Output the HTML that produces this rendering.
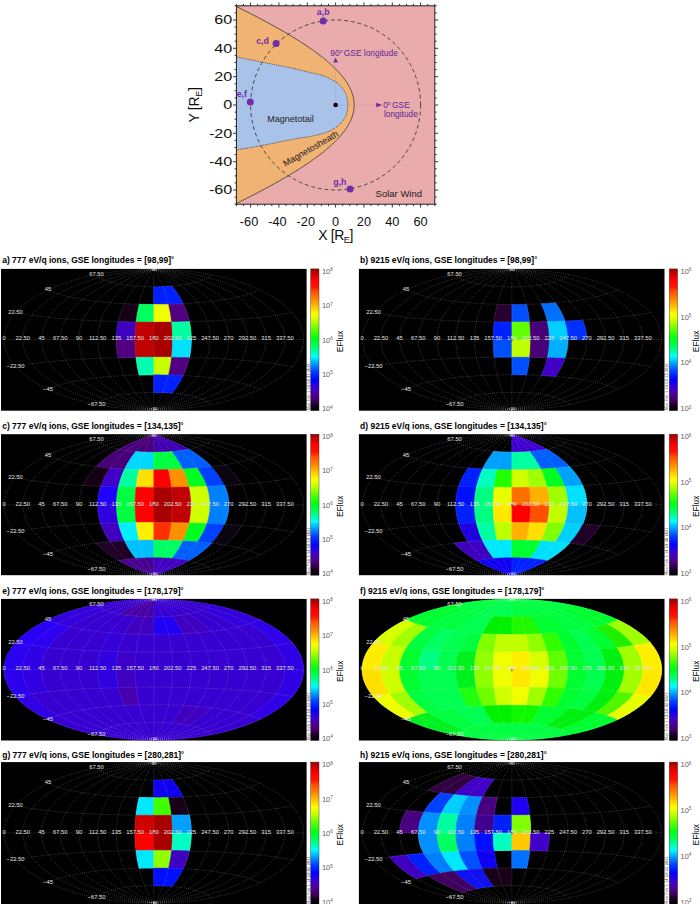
<!DOCTYPE html>
<html><head><meta charset="utf-8"><title>Figure</title>
<style>
html,body{margin:0;padding:0;background:#fff}
svg{display:block}
text{font-family:"Liberation Sans",sans-serif}
.ttl{font-size:8.5px;font-weight:bold;fill:#000}
.grid{fill:none;stroke:#fff;stroke-width:0.6;stroke-dasharray:0.6 1.5;opacity:0.52}
.lab text{font-size:5.8px;fill:#e2e2e2;text-anchor:middle}
.cbl{font-size:7.5px;fill:#606060}
.efl{font-size:8.45px;fill:#000;text-anchor:middle}
.stamp{font-size:3.3px;fill:#222}
.tk{font-size:12.8px;fill:#111}
.tky{font-size:12.4px;fill:#111}
.ax{font-size:14px;fill:#111}
.pl{font-size:8.8px;font-weight:bold;fill:#6f2da8}
.gl{font-size:8.4px;fill:#5e2a96}
.rl{font-size:8.3px;fill:#222}
</style></head><body>
<svg width="700" height="904" viewBox="0 0 700 904">
<defs><path id="grid" class="grid" d="M-0 70.3L-7.8 70.2L-15.7 69.9L-23.4 69.4L-31.1 68.8L-38.8 67.9L-46.3 66.9L-53.7 65.6L-60.9 64.2L-68 62.6L-74.9 60.9L-81.6 59L-88 56.9L-94.2 54.6L-100.2 52.2L-105.9 49.7L-111.3 47L-116.4 44.2L-121.1 41.3L-125.6 38.3L-129.7 35.1L-133.4 31.9L-136.8 28.6L-139.8 25.2L-142.4 21.7L-144.6 18.2L-146.5 14.6L-147.9 11L-148.9 7.3L-149.5 3.7L-149.7 0L-149.5 -3.7L-148.9 -7.3L-147.9 -11L-146.5 -14.6L-144.6 -18.2L-142.4 -21.7L-139.8 -25.2L-136.8 -28.6L-133.4 -31.9L-129.7 -35.1L-125.6 -38.3L-121.1 -41.3L-116.4 -44.2L-111.3 -47L-105.9 -49.7L-100.2 -52.2L-94.2 -54.6L-88 -56.9L-81.6 -59L-74.9 -60.9L-68 -62.6L-60.9 -64.2L-53.7 -65.6L-46.3 -66.9L-38.8 -67.9L-31.1 -68.8L-23.4 -69.4L-15.7 -69.9L-7.8 -70.2L-0 -70.3M-0 70.3L-7.6 69.8L-15.2 69L-22.5 68.1L-29.8 67L-36.8 65.8L-43.7 64.4L-50.4 62.9L-56.9 61.2L-63.2 59.3L-69.2 57.4L-75 55.3L-80.5 53.1L-85.8 50.7L-90.9 48.3L-95.6 45.8L-100.1 43.1L-104.3 40.4L-108.2 37.6L-111.8 34.8L-115.1 31.8L-118.1 28.8L-120.8 25.7L-123.2 22.6L-125.3 19.5L-127 16.3L-128.5 13.1L-129.6 9.8L-130.4 6.6L-130.9 3.3L-131 0L-130.9 -3.3L-130.4 -6.6L-129.6 -9.8L-128.5 -13.1L-127 -16.3L-125.3 -19.5L-123.2 -22.6L-120.8 -25.7L-118.1 -28.8L-115.1 -31.8L-111.8 -34.8L-108.2 -37.6L-104.3 -40.4L-100.1 -43.1L-95.6 -45.8L-90.9 -48.3L-85.8 -50.7L-80.5 -53.1L-75 -55.3L-69.2 -57.4L-63.2 -59.3L-56.9 -61.2L-50.4 -62.9L-43.7 -64.4L-36.8 -65.8L-29.8 -67L-22.5 -68.1L-15.2 -69L-7.6 -69.8L-0 -70.3M-0 70.3L-7.1 69.3L-14.1 68.2L-20.9 66.9L-27.4 65.5L-33.7 63.9L-39.8 62.3L-45.7 60.5L-51.3 58.5L-56.7 56.5L-61.8 54.4L-66.7 52.2L-71.4 49.9L-75.8 47.6L-80 45.1L-83.9 42.6L-87.6 40.1L-91 37.4L-94.1 34.7L-97 32L-99.7 29.2L-102.1 26.4L-104.2 23.6L-106.1 20.7L-107.8 17.8L-109.2 14.9L-110.3 11.9L-111.2 8.9L-111.8 6L-112.2 3L-112.3 0L-112.2 -3L-111.8 -6L-111.2 -8.9L-110.3 -11.9L-109.2 -14.9L-107.8 -17.8L-106.1 -20.7L-104.2 -23.6L-102.1 -26.4L-99.7 -29.2L-97 -32L-94.1 -34.7L-91 -37.4L-87.6 -40.1L-83.9 -42.6L-80 -45.1L-75.8 -47.6L-71.4 -49.9L-66.7 -52.2L-61.8 -54.4L-56.7 -56.5L-51.3 -58.5L-45.7 -60.5L-39.8 -62.3L-33.7 -63.9L-27.4 -65.5L-20.9 -66.9L-14.1 -68.2L-7.1 -69.3L-0 -70.3M-0 70.3L-6.4 68.9L-12.6 67.4L-18.5 65.8L-24.1 64.1L-29.6 62.3L-34.8 60.4L-39.7 58.4L-44.4 56.4L-48.9 54.2L-53.2 52L-57.2 49.8L-61 47.4L-64.6 45.1L-68 42.6L-71.1 40.2L-74.1 37.7L-76.8 35.1L-79.3 32.5L-81.6 29.9L-83.7 27.3L-85.6 24.6L-87.3 21.9L-88.8 19.2L-90 16.5L-91.1 13.8L-92 11L-92.7 8.3L-93.2 5.5L-93.5 2.8L-93.6 0L-93.5 -2.8L-93.2 -5.5L-92.7 -8.3L-92 -11L-91.1 -13.8L-90 -16.5L-88.8 -19.2L-87.3 -21.9L-85.6 -24.6L-83.7 -27.3L-81.6 -29.9L-79.3 -32.5L-76.8 -35.1L-74.1 -37.7L-71.1 -40.2L-68 -42.6L-64.6 -45.1L-61 -47.4L-57.2 -49.8L-53.2 -52L-48.9 -54.2L-44.4 -56.4L-39.7 -58.4L-34.8 -60.4L-29.6 -62.3L-24.1 -64.1L-18.5 -65.8L-12.6 -67.4L-6.4 -68.9L-0 -70.3M-0 70.3L-5.4 68.6L-10.6 66.8L-15.5 64.9L-20.2 63L-24.6 61L-28.8 58.9L-32.8 56.8L-36.6 54.6L-40.2 52.4L-43.6 50.1L-46.8 47.8L-49.8 45.5L-52.6 43.1L-55.2 40.7L-57.6 38.3L-59.9 35.8L-62 33.3L-63.9 30.8L-65.7 28.3L-67.3 25.8L-68.8 23.3L-70.1 20.7L-71.2 18.1L-72.2 15.6L-73 13L-73.7 10.4L-74.2 7.8L-74.6 5.2L-74.8 2.6L-74.9 0L-74.8 -2.6L-74.6 -5.2L-74.2 -7.8L-73.7 -10.4L-73 -13L-72.2 -15.6L-71.2 -18.1L-70.1 -20.7L-68.8 -23.3L-67.3 -25.8L-65.7 -28.3L-63.9 -30.8L-62 -33.3L-59.9 -35.8L-57.6 -38.3L-55.2 -40.7L-52.6 -43.1L-49.8 -45.5L-46.8 -47.8L-43.6 -50.1L-40.2 -52.4L-36.6 -54.6L-32.8 -56.8L-28.8 -58.9L-24.6 -61L-20.2 -63L-15.5 -64.9L-10.6 -66.8L-5.4 -68.6L-0 -70.3M-0 70.3L-4.2 68.3L-8.2 66.3L-12 64.2L-15.6 62.1L-19 59.9L-22.2 57.7L-25.2 55.5L-28.1 53.3L-30.7 51L-33.3 48.7L-35.6 46.3L-37.8 44L-39.9 41.6L-41.8 39.3L-43.6 36.9L-45.3 34.5L-46.8 32L-48.2 29.6L-49.5 27.2L-50.7 24.7L-51.7 22.3L-52.7 19.8L-53.5 17.4L-54.2 14.9L-54.8 12.4L-55.3 9.9L-55.7 7.5L-55.9 5L-56.1 2.5L-56.2 0L-56.1 -2.5L-55.9 -5L-55.7 -7.5L-55.3 -9.9L-54.8 -12.4L-54.2 -14.9L-53.5 -17.4L-52.7 -19.8L-51.7 -22.3L-50.7 -24.7L-49.5 -27.2L-48.2 -29.6L-46.8 -32L-45.3 -34.5L-43.6 -36.9L-41.8 -39.3L-39.9 -41.6L-37.8 -44L-35.6 -46.3L-33.3 -48.7L-30.7 -51L-28.1 -53.3L-25.2 -55.5L-22.2 -57.7L-19 -59.9L-15.6 -62.1L-12 -64.2L-8.2 -66.3L-4.2 -68.3L-0 -70.3M-0 70.3L-2.9 68.1L-5.6 65.9L-8.2 63.7L-10.6 61.4L-12.9 59.2L-15.1 56.9L-17.1 54.6L-19 52.3L-20.8 50L-22.4 47.7L-24 45.3L-25.5 43L-26.8 40.6L-28.1 38.3L-29.3 35.9L-30.4 33.5L-31.4 31.2L-32.3 28.8L-33.1 26.4L-33.9 24L-34.6 21.6L-35.2 19.2L-35.7 16.8L-36.2 14.4L-36.6 12L-36.9 9.6L-37.1 7.2L-37.3 4.8L-37.4 2.4L-37.4 0L-37.4 -2.4L-37.3 -4.8L-37.1 -7.2L-36.9 -9.6L-36.6 -12L-36.2 -14.4L-35.7 -16.8L-35.2 -19.2L-34.6 -21.6L-33.9 -24L-33.1 -26.4L-32.3 -28.8L-31.4 -31.2L-30.4 -33.5L-29.3 -35.9L-28.1 -38.3L-26.8 -40.6L-25.5 -43L-24 -45.3L-22.4 -47.7L-20.8 -50L-19 -52.3L-17.1 -54.6L-15.1 -56.9L-12.9 -59.2L-10.6 -61.4L-8.2 -63.7L-5.6 -65.9L-2.9 -68.1L-0 -70.3M-0 70.3L-1.5 68L-2.9 65.7L-4.2 63.4L-5.4 61.1L-6.5 58.7L-7.6 56.4L-8.6 54.1L-9.6 51.7L-10.5 49.4L-11.3 47.1L-12.1 44.7L-12.8 42.4L-13.5 40L-14.1 37.7L-14.7 35.3L-15.2 33L-15.7 30.6L-16.2 28.3L-16.6 25.9L-17 23.6L-17.3 21.2L-17.6 18.9L-17.9 16.5L-18.1 14.1L-18.3 11.8L-18.4 9.4L-18.6 7.1L-18.6 4.7L-18.7 2.4L-18.7 0L-18.7 -2.4L-18.6 -4.7L-18.6 -7.1L-18.4 -9.4L-18.3 -11.8L-18.1 -14.1L-17.9 -16.5L-17.6 -18.9L-17.3 -21.2L-17 -23.6L-16.6 -25.9L-16.2 -28.3L-15.7 -30.6L-15.2 -33L-14.7 -35.3L-14.1 -37.7L-13.5 -40L-12.8 -42.4L-12.1 -44.7L-11.3 -47.1L-10.5 -49.4L-9.6 -51.7L-8.6 -54.1L-7.6 -56.4L-6.5 -58.7L-5.4 -61.1L-4.2 -63.4L-2.9 -65.7L-1.5 -68L-0 -70.3M0 70.3L0 68L0 65.6L0 63.3L0 60.9L0 58.6L0 56.2L0 53.9L0 51.6L0 49.2L0 46.9L0 44.5L0 42.2L0 39.8L0 37.5L0 35.1L0 32.8L0 30.5L0 28.1L0 25.8L0 23.4L0 21.1L0 18.7L0 16.4L0 14.1L0 11.7L0 9.4L0 7L0 4.7L0 2.3L0 0L0 -2.3L0 -4.7L0 -7L0 -9.4L0 -11.7L0 -14.1L0 -16.4L0 -18.7L0 -21.1L0 -23.4L0 -25.8L0 -28.1L0 -30.5L0 -32.8L0 -35.1L0 -37.5L0 -39.8L0 -42.2L0 -44.5L0 -46.9L0 -49.2L0 -51.6L0 -53.9L0 -56.2L0 -58.6L0 -60.9L0 -63.3L0 -65.6L0 -68L0 -70.3M0 70.3L1.5 68L2.9 65.7L4.2 63.4L5.4 61.1L6.5 58.7L7.6 56.4L8.6 54.1L9.6 51.7L10.5 49.4L11.3 47.1L12.1 44.7L12.8 42.4L13.5 40L14.1 37.7L14.7 35.3L15.2 33L15.7 30.6L16.2 28.3L16.6 25.9L17 23.6L17.3 21.2L17.6 18.9L17.9 16.5L18.1 14.1L18.3 11.8L18.4 9.4L18.6 7.1L18.6 4.7L18.7 2.4L18.7 0L18.7 -2.4L18.6 -4.7L18.6 -7.1L18.4 -9.4L18.3 -11.8L18.1 -14.1L17.9 -16.5L17.6 -18.9L17.3 -21.2L17 -23.6L16.6 -25.9L16.2 -28.3L15.7 -30.6L15.2 -33L14.7 -35.3L14.1 -37.7L13.5 -40L12.8 -42.4L12.1 -44.7L11.3 -47.1L10.5 -49.4L9.6 -51.7L8.6 -54.1L7.6 -56.4L6.5 -58.7L5.4 -61.1L4.2 -63.4L2.9 -65.7L1.5 -68L0 -70.3M0 70.3L2.9 68.1L5.6 65.9L8.2 63.7L10.6 61.4L12.9 59.2L15.1 56.9L17.1 54.6L19 52.3L20.8 50L22.4 47.7L24 45.3L25.5 43L26.8 40.6L28.1 38.3L29.3 35.9L30.4 33.5L31.4 31.2L32.3 28.8L33.1 26.4L33.9 24L34.6 21.6L35.2 19.2L35.7 16.8L36.2 14.4L36.6 12L36.9 9.6L37.1 7.2L37.3 4.8L37.4 2.4L37.4 0L37.4 -2.4L37.3 -4.8L37.1 -7.2L36.9 -9.6L36.6 -12L36.2 -14.4L35.7 -16.8L35.2 -19.2L34.6 -21.6L33.9 -24L33.1 -26.4L32.3 -28.8L31.4 -31.2L30.4 -33.5L29.3 -35.9L28.1 -38.3L26.8 -40.6L25.5 -43L24 -45.3L22.4 -47.7L20.8 -50L19 -52.3L17.1 -54.6L15.1 -56.9L12.9 -59.2L10.6 -61.4L8.2 -63.7L5.6 -65.9L2.9 -68.1L0 -70.3M0 70.3L4.2 68.3L8.2 66.3L12 64.2L15.6 62.1L19 59.9L22.2 57.7L25.2 55.5L28.1 53.3L30.7 51L33.3 48.7L35.6 46.3L37.8 44L39.9 41.6L41.8 39.3L43.6 36.9L45.3 34.5L46.8 32L48.2 29.6L49.5 27.2L50.7 24.7L51.7 22.3L52.7 19.8L53.5 17.4L54.2 14.9L54.8 12.4L55.3 9.9L55.7 7.5L55.9 5L56.1 2.5L56.2 0L56.1 -2.5L55.9 -5L55.7 -7.5L55.3 -9.9L54.8 -12.4L54.2 -14.9L53.5 -17.4L52.7 -19.8L51.7 -22.3L50.7 -24.7L49.5 -27.2L48.2 -29.6L46.8 -32L45.3 -34.5L43.6 -36.9L41.8 -39.3L39.9 -41.6L37.8 -44L35.6 -46.3L33.3 -48.7L30.7 -51L28.1 -53.3L25.2 -55.5L22.2 -57.7L19 -59.9L15.6 -62.1L12 -64.2L8.2 -66.3L4.2 -68.3L0 -70.3M0 70.3L5.4 68.6L10.6 66.8L15.5 64.9L20.2 63L24.6 61L28.8 58.9L32.8 56.8L36.6 54.6L40.2 52.4L43.6 50.1L46.8 47.8L49.8 45.5L52.6 43.1L55.2 40.7L57.6 38.3L59.9 35.8L62 33.3L63.9 30.8L65.7 28.3L67.3 25.8L68.8 23.3L70.1 20.7L71.2 18.1L72.2 15.6L73 13L73.7 10.4L74.2 7.8L74.6 5.2L74.8 2.6L74.9 0L74.8 -2.6L74.6 -5.2L74.2 -7.8L73.7 -10.4L73 -13L72.2 -15.6L71.2 -18.1L70.1 -20.7L68.8 -23.3L67.3 -25.8L65.7 -28.3L63.9 -30.8L62 -33.3L59.9 -35.8L57.6 -38.3L55.2 -40.7L52.6 -43.1L49.8 -45.5L46.8 -47.8L43.6 -50.1L40.2 -52.4L36.6 -54.6L32.8 -56.8L28.8 -58.9L24.6 -61L20.2 -63L15.5 -64.9L10.6 -66.8L5.4 -68.6L0 -70.3M0 70.3L6.4 68.9L12.6 67.4L18.5 65.8L24.1 64.1L29.6 62.3L34.8 60.4L39.7 58.4L44.4 56.4L48.9 54.2L53.2 52L57.2 49.8L61 47.4L64.6 45.1L68 42.6L71.1 40.2L74.1 37.7L76.8 35.1L79.3 32.5L81.6 29.9L83.7 27.3L85.6 24.6L87.3 21.9L88.8 19.2L90 16.5L91.1 13.8L92 11L92.7 8.3L93.2 5.5L93.5 2.8L93.6 0L93.5 -2.8L93.2 -5.5L92.7 -8.3L92 -11L91.1 -13.8L90 -16.5L88.8 -19.2L87.3 -21.9L85.6 -24.6L83.7 -27.3L81.6 -29.9L79.3 -32.5L76.8 -35.1L74.1 -37.7L71.1 -40.2L68 -42.6L64.6 -45.1L61 -47.4L57.2 -49.8L53.2 -52L48.9 -54.2L44.4 -56.4L39.7 -58.4L34.8 -60.4L29.6 -62.3L24.1 -64.1L18.5 -65.8L12.6 -67.4L6.4 -68.9L0 -70.3M0 70.3L7.1 69.3L14.1 68.2L20.9 66.9L27.4 65.5L33.7 63.9L39.8 62.3L45.7 60.5L51.3 58.5L56.7 56.5L61.8 54.4L66.7 52.2L71.4 49.9L75.8 47.6L80 45.1L83.9 42.6L87.6 40.1L91 37.4L94.1 34.7L97 32L99.7 29.2L102.1 26.4L104.2 23.6L106.1 20.7L107.8 17.8L109.2 14.9L110.3 11.9L111.2 8.9L111.8 6L112.2 3L112.3 0L112.2 -3L111.8 -6L111.2 -8.9L110.3 -11.9L109.2 -14.9L107.8 -17.8L106.1 -20.7L104.2 -23.6L102.1 -26.4L99.7 -29.2L97 -32L94.1 -34.7L91 -37.4L87.6 -40.1L83.9 -42.6L80 -45.1L75.8 -47.6L71.4 -49.9L66.7 -52.2L61.8 -54.4L56.7 -56.5L51.3 -58.5L45.7 -60.5L39.8 -62.3L33.7 -63.9L27.4 -65.5L20.9 -66.9L14.1 -68.2L7.1 -69.3L0 -70.3M0 70.3L7.6 69.8L15.2 69L22.5 68.1L29.8 67L36.8 65.8L43.7 64.4L50.4 62.9L56.9 61.2L63.2 59.3L69.2 57.4L75 55.3L80.5 53.1L85.8 50.7L90.9 48.3L95.6 45.8L100.1 43.1L104.3 40.4L108.2 37.6L111.8 34.8L115.1 31.8L118.1 28.8L120.8 25.7L123.2 22.6L125.3 19.5L127 16.3L128.5 13.1L129.6 9.8L130.4 6.6L130.9 3.3L131 0L130.9 -3.3L130.4 -6.6L129.6 -9.8L128.5 -13.1L127 -16.3L125.3 -19.5L123.2 -22.6L120.8 -25.7L118.1 -28.8L115.1 -31.8L111.8 -34.8L108.2 -37.6L104.3 -40.4L100.1 -43.1L95.6 -45.8L90.9 -48.3L85.8 -50.7L80.5 -53.1L75 -55.3L69.2 -57.4L63.2 -59.3L56.9 -61.2L50.4 -62.9L43.7 -64.4L36.8 -65.8L29.8 -67L22.5 -68.1L15.2 -69L7.6 -69.8L0 -70.3M0 70.3L7.8 70.2L15.7 69.9L23.4 69.4L31.1 68.8L38.8 67.9L46.3 66.9L53.7 65.6L60.9 64.2L68 62.6L74.9 60.9L81.6 59L88 56.9L94.2 54.6L100.2 52.2L105.9 49.7L111.3 47L116.4 44.2L121.1 41.3L125.6 38.3L129.7 35.1L133.4 31.9L136.8 28.6L139.8 25.2L142.4 21.7L144.6 18.2L146.5 14.6L147.9 11L148.9 7.3L149.5 3.7L149.7 0L149.5 -3.7L148.9 -7.3L147.9 -11L146.5 -14.6L144.6 -18.2L142.4 -21.7L139.8 -25.2L136.8 -28.6L133.4 -31.9L129.7 -35.1L125.6 -38.3L121.1 -41.3L116.4 -44.2L111.3 -47L105.9 -49.7L100.2 -52.2L94.2 -54.6L88 -56.9L81.6 -59L74.9 -60.9L68 -62.6L60.9 -64.2L53.7 -65.6L46.3 -66.9L38.8 -67.9L31.1 -68.8L23.4 -69.4L15.7 -69.9L7.8 -70.2L0 -70.3M-57.3 64.9L-56.8 64.4L-56.2 63.9L-55.6 63.3L-54.9 62.8L-54.2 62.3L-53.4 61.9L-52.5 61.4L-51.7 60.9L-50.7 60.5L-49.8 60L-48.8 59.6L-47.7 59.2L-46.6 58.8L-45.5 58.4L-44.4 58.1L-43.2 57.7L-42 57.4L-40.7 57L-39.4 56.7L-38.1 56.4L-36.8 56.1L-35.4 55.8L-34.1 55.6L-32.7 55.3L-31.2 55.1L-29.8 54.8L-28.3 54.6L-26.8 54.4L-25.4 54.2L-23.8 54L-22.3 53.9L-20.8 53.7L-19.2 53.6L-17.7 53.4L-16.1 53.3L-14.5 53.2L-12.9 53.1L-11.3 53L-9.7 52.9L-8.1 52.9L-6.5 52.8L-4.9 52.8L-3.2 52.7L-1.6 52.7L0 52.7L1.6 52.7L3.2 52.7L4.9 52.8L6.5 52.8L8.1 52.9L9.7 52.9L11.3 53L12.9 53.1L14.5 53.2L16.1 53.3L17.7 53.4L19.2 53.6L20.8 53.7L22.3 53.9L23.8 54L25.4 54.2L26.8 54.4L28.3 54.6L29.8 54.8L31.2 55.1L32.7 55.3L34.1 55.6L35.4 55.8L36.8 56.1L38.1 56.4L39.4 56.7L40.7 57L42 57.4L43.2 57.7L44.4 58.1L45.5 58.4L46.6 58.8L47.7 59.2L48.8 59.6L49.8 60L50.7 60.5L51.7 60.9L52.5 61.4L53.4 61.9L54.2 62.3L54.9 62.8L55.6 63.3L56.2 63.9L56.8 64.4L57.3 64.9M-105.9 49.7L-104.2 48.9L-102.4 48.2L-100.6 47.5L-98.8 46.8L-96.8 46.2L-94.9 45.5L-92.9 44.9L-90.8 44.4L-88.7 43.8L-86.6 43.3L-84.4 42.8L-82.2 42.3L-80 41.8L-77.8 41.3L-75.5 40.9L-73.2 40.5L-70.8 40.1L-68.5 39.7L-66.1 39.4L-63.7 39L-61.3 38.7L-58.9 38.4L-56.4 38.1L-53.9 37.8L-51.5 37.6L-49 37.3L-46.5 37.1L-43.9 36.9L-41.4 36.7L-38.9 36.5L-36.3 36.3L-33.8 36.2L-31.2 36L-28.6 35.9L-26 35.7L-23.5 35.6L-20.9 35.5L-18.3 35.4L-15.7 35.4L-13.1 35.3L-10.4 35.2L-7.8 35.2L-5.2 35.2L-2.6 35.2L0 35.1L2.6 35.2L5.2 35.2L7.8 35.2L10.4 35.2L13.1 35.3L15.7 35.4L18.3 35.4L20.9 35.5L23.5 35.6L26 35.7L28.6 35.9L31.2 36L33.8 36.2L36.3 36.3L38.9 36.5L41.4 36.7L43.9 36.9L46.5 37.1L49 37.3L51.5 37.6L53.9 37.8L56.4 38.1L58.9 38.4L61.3 38.7L63.7 39L66.1 39.4L68.5 39.7L70.8 40.1L73.2 40.5L75.5 40.9L77.8 41.3L80 41.8L82.2 42.3L84.4 42.8L86.6 43.3L88.7 43.8L90.8 44.4L92.9 44.9L94.9 45.5L96.8 46.2L98.8 46.8L100.6 47.5L102.4 48.2L104.2 48.9L105.9 49.7M-138.4 26.9L-135.5 26.4L-132.6 25.9L-129.7 25.4L-126.8 24.9L-123.9 24.5L-120.9 24L-118 23.6L-115 23.3L-112 22.9L-109 22.6L-106 22.2L-102.9 21.9L-99.9 21.6L-96.9 21.3L-93.8 21.1L-90.7 20.8L-87.7 20.6L-84.6 20.3L-81.5 20.1L-78.4 19.9L-75.3 19.7L-72.2 19.5L-69.1 19.3L-66 19.2L-62.9 19L-59.7 18.9L-56.6 18.7L-53.5 18.6L-50.4 18.5L-47.2 18.4L-44.1 18.3L-41 18.2L-37.8 18.1L-34.7 18L-31.5 17.9L-28.4 17.9L-25.2 17.8L-22.1 17.7L-18.9 17.7L-15.8 17.7L-12.6 17.6L-9.5 17.6L-6.3 17.6L-3.2 17.6L0 17.6L3.2 17.6L6.3 17.6L9.5 17.6L12.6 17.6L15.8 17.7L18.9 17.7L22.1 17.7L25.2 17.8L28.4 17.9L31.5 17.9L34.7 18L37.8 18.1L41 18.2L44.1 18.3L47.2 18.4L50.4 18.5L53.5 18.6L56.6 18.7L59.7 18.9L62.9 19L66 19.2L69.1 19.3L72.2 19.5L75.3 19.7L78.4 19.9L81.5 20.1L84.6 20.3L87.7 20.6L90.7 20.8L93.8 21.1L96.9 21.3L99.9 21.6L102.9 21.9L106 22.2L109 22.6L112 22.9L115 23.3L118 23.6L120.9 24L123.9 24.5L126.8 24.9L129.7 25.4L132.6 25.9L135.5 26.4L138.4 26.9M-149.7 0L-146.4 0L-143.1 0L-139.8 0L-136.4 0L-133.1 0L-129.8 0L-126.5 0L-123.1 0L-119.8 0L-116.5 0L-113.1 0L-109.8 0L-106.5 0L-103.2 0L-99.8 0L-96.5 0L-93.2 0L-89.8 0L-86.5 0L-83.2 0L-79.9 0L-76.5 0L-73.2 0L-69.9 0L-66.6 0L-63.2 0L-59.9 0L-56.6 0L-53.2 0L-49.9 0L-46.6 0L-43.3 0L-39.9 0L-36.6 0L-33.3 0L-29.9 0L-26.6 0L-23.3 0L-20 0L-16.6 0L-13.3 0L-10 0L-6.7 0L-3.3 0L0 0L3.3 0L6.7 0L10 0L13.3 0L16.6 0L20 0L23.3 0L26.6 0L29.9 0L33.3 0L36.6 0L39.9 0L43.3 0L46.6 0L49.9 0L53.2 0L56.6 0L59.9 0L63.2 0L66.6 0L69.9 0L73.2 0L76.5 0L79.9 0L83.2 0L86.5 0L89.8 0L93.2 0L96.5 0L99.8 0L103.2 0L106.5 0L109.8 0L113.1 0L116.5 0L119.8 0L123.1 0L126.5 0L129.8 0L133.1 0L136.4 0L139.8 0L143.1 0L146.4 0L149.7 0M-138.4 -26.9L-135.5 -26.4L-132.6 -25.9L-129.7 -25.4L-126.8 -24.9L-123.9 -24.5L-120.9 -24L-118 -23.6L-115 -23.3L-112 -22.9L-109 -22.6L-106 -22.2L-102.9 -21.9L-99.9 -21.6L-96.9 -21.3L-93.8 -21.1L-90.7 -20.8L-87.7 -20.6L-84.6 -20.3L-81.5 -20.1L-78.4 -19.9L-75.3 -19.7L-72.2 -19.5L-69.1 -19.3L-66 -19.2L-62.9 -19L-59.7 -18.9L-56.6 -18.7L-53.5 -18.6L-50.4 -18.5L-47.2 -18.4L-44.1 -18.3L-41 -18.2L-37.8 -18.1L-34.7 -18L-31.5 -17.9L-28.4 -17.9L-25.2 -17.8L-22.1 -17.7L-18.9 -17.7L-15.8 -17.7L-12.6 -17.6L-9.5 -17.6L-6.3 -17.6L-3.2 -17.6L0 -17.6L3.2 -17.6L6.3 -17.6L9.5 -17.6L12.6 -17.6L15.8 -17.7L18.9 -17.7L22.1 -17.7L25.2 -17.8L28.4 -17.9L31.5 -17.9L34.7 -18L37.8 -18.1L41 -18.2L44.1 -18.3L47.2 -18.4L50.4 -18.5L53.5 -18.6L56.6 -18.7L59.7 -18.9L62.9 -19L66 -19.2L69.1 -19.3L72.2 -19.5L75.3 -19.7L78.4 -19.9L81.5 -20.1L84.6 -20.3L87.7 -20.6L90.7 -20.8L93.8 -21.1L96.9 -21.3L99.9 -21.6L102.9 -21.9L106 -22.2L109 -22.6L112 -22.9L115 -23.3L118 -23.6L120.9 -24L123.9 -24.5L126.8 -24.9L129.7 -25.4L132.6 -25.9L135.5 -26.4L138.4 -26.9M-105.9 -49.7L-104.2 -48.9L-102.4 -48.2L-100.6 -47.5L-98.8 -46.8L-96.8 -46.2L-94.9 -45.5L-92.9 -44.9L-90.8 -44.4L-88.7 -43.8L-86.6 -43.3L-84.4 -42.8L-82.2 -42.3L-80 -41.8L-77.8 -41.3L-75.5 -40.9L-73.2 -40.5L-70.8 -40.1L-68.5 -39.7L-66.1 -39.4L-63.7 -39L-61.3 -38.7L-58.9 -38.4L-56.4 -38.1L-53.9 -37.8L-51.5 -37.6L-49 -37.3L-46.5 -37.1L-43.9 -36.9L-41.4 -36.7L-38.9 -36.5L-36.3 -36.3L-33.8 -36.2L-31.2 -36L-28.6 -35.9L-26 -35.7L-23.5 -35.6L-20.9 -35.5L-18.3 -35.4L-15.7 -35.4L-13.1 -35.3L-10.4 -35.2L-7.8 -35.2L-5.2 -35.2L-2.6 -35.2L0 -35.1L2.6 -35.2L5.2 -35.2L7.8 -35.2L10.4 -35.2L13.1 -35.3L15.7 -35.4L18.3 -35.4L20.9 -35.5L23.5 -35.6L26 -35.7L28.6 -35.9L31.2 -36L33.8 -36.2L36.3 -36.3L38.9 -36.5L41.4 -36.7L43.9 -36.9L46.5 -37.1L49 -37.3L51.5 -37.6L53.9 -37.8L56.4 -38.1L58.9 -38.4L61.3 -38.7L63.7 -39L66.1 -39.4L68.5 -39.7L70.8 -40.1L73.2 -40.5L75.5 -40.9L77.8 -41.3L80 -41.8L82.2 -42.3L84.4 -42.8L86.6 -43.3L88.7 -43.8L90.8 -44.4L92.9 -44.9L94.9 -45.5L96.8 -46.2L98.8 -46.8L100.6 -47.5L102.4 -48.2L104.2 -48.9L105.9 -49.7M-57.3 -64.9L-56.8 -64.4L-56.2 -63.9L-55.6 -63.3L-54.9 -62.8L-54.2 -62.3L-53.4 -61.9L-52.5 -61.4L-51.7 -60.9L-50.7 -60.5L-49.8 -60L-48.8 -59.6L-47.7 -59.2L-46.6 -58.8L-45.5 -58.4L-44.4 -58.1L-43.2 -57.7L-42 -57.4L-40.7 -57L-39.4 -56.7L-38.1 -56.4L-36.8 -56.1L-35.4 -55.8L-34.1 -55.6L-32.7 -55.3L-31.2 -55.1L-29.8 -54.8L-28.3 -54.6L-26.8 -54.4L-25.4 -54.2L-23.8 -54L-22.3 -53.9L-20.8 -53.7L-19.2 -53.6L-17.7 -53.4L-16.1 -53.3L-14.5 -53.2L-12.9 -53.1L-11.3 -53L-9.7 -52.9L-8.1 -52.9L-6.5 -52.8L-4.9 -52.8L-3.2 -52.7L-1.6 -52.7L0 -52.7L1.6 -52.7L3.2 -52.7L4.9 -52.8L6.5 -52.8L8.1 -52.9L9.7 -52.9L11.3 -53L12.9 -53.1L14.5 -53.2L16.1 -53.3L17.7 -53.4L19.2 -53.6L20.8 -53.7L22.3 -53.9L23.8 -54L25.4 -54.2L26.8 -54.4L28.3 -54.6L29.8 -54.8L31.2 -55.1L32.7 -55.3L34.1 -55.6L35.4 -55.8L36.8 -56.1L38.1 -56.4L39.4 -56.7L40.7 -57L42 -57.4L43.2 -57.7L44.4 -58.1L45.5 -58.4L46.6 -58.8L47.7 -59.2L48.8 -59.6L49.8 -60L50.7 -60.5L51.7 -60.9L52.5 -61.4L53.4 -61.9L54.2 -62.3L54.9 -62.8L55.6 -63.3L56.2 -63.9L56.8 -64.4L57.3 -64.9"/><linearGradient id="cb" x1="0" y1="0" x2="0" y2="1"><stop offset="0" stop-color="#a00000"/><stop offset="0.035" stop-color="#c80000"/><stop offset="0.075" stop-color="#ff0000"/><stop offset="0.125" stop-color="#ff1000"/><stop offset="0.16" stop-color="#ff5000"/><stop offset="0.21" stop-color="#ff8000"/><stop offset="0.265" stop-color="#ffc000"/><stop offset="0.32" stop-color="#ffff00"/><stop offset="0.37" stop-color="#c0ff00"/><stop offset="0.425" stop-color="#60ff00"/><stop offset="0.49" stop-color="#00ff10"/><stop offset="0.545" stop-color="#00ff60"/><stop offset="0.58" stop-color="#00ffa0"/><stop offset="0.617" stop-color="#00ffff"/><stop offset="0.667" stop-color="#00a0ff"/><stop offset="0.723" stop-color="#0040ff"/><stop offset="0.783" stop-color="#0000ff"/><stop offset="0.843" stop-color="#4000d0"/><stop offset="0.89" stop-color="#500090"/><stop offset="0.93" stop-color="#400060"/><stop offset="0.96" stop-color="#1a0020"/><stop offset="1" stop-color="#000000"/></linearGradient></defs>
<rect width="700" height="904" fill="#fff"/>
<clipPath id="pc"><rect x="236.4" y="5.8" width="198.4" height="198.4"/></clipPath>
<rect x="236.4" y="5.8" width="198.4" height="198.4" fill="#e9abab"/>
<g clip-path="url(#pc)">
<path d="M220.3 211.3L221.8 210.6L223.3 209.9L224.7 209.1L226.2 208.4L227.7 207.7L229.2 207L230.6 206.3L232.1 205.6L233.5 204.9L235 204.2L236.4 203.5L237.8 202.8L239.3 202.1L240.7 201.4L242.1 200.6L243.5 199.9L244.9 199.2L246.3 198.5L247.7 197.8L249.1 197.1L250.5 196.4L251.9 195.7L253.3 195L254.7 194.3L256 193.6L257.4 192.9L258.7 192.1L260.1 191.4L261.4 190.7L262.8 190L264.1 189.3L265.4 188.6L266.7 187.9L268 187.2L269.3 186.5L270.6 185.8L271.9 185.1L273.2 184.4L274.5 183.6L275.8 182.9L277 182.2L278.3 181.5L279.5 180.8L280.8 180.1L282 179.4L283.2 178.7L284.4 178L285.6 177.3L286.9 176.6L288.1 175.9L289.2 175.1L290.4 174.4L291.6 173.7L292.8 173L293.9 172.3L295.1 171.6L296.2 170.9L297.3 170.2L298.5 169.5L299.6 168.8L300.7 168.1L301.8 167.3L302.9 166.6L304 165.9L305 165.2L306.1 164.5L307.1 163.8L308.2 163.1L309.2 162.4L310.3 161.7L311.3 161L312.3 160.3L313.3 159.6L314.3 158.8L315.2 158.1L316.2 157.4L317.2 156.7L318.1 156L319 155.3L320 154.6L320.9 153.9L321.8 153.2L322.7 152.5L323.6 151.8L324.5 151.1L325.3 150.3L326.2 149.6L327 148.9L327.8 148.2L328.7 147.5L329.5 146.8L330.3 146.1L331.1 145.4L331.8 144.7L332.6 144L333.3 143.3L334.1 142.6L334.8 141.8L335.5 141.1L336.2 140.4L336.9 139.7L337.6 139L338.2 138.3L338.9 137.6L339.5 136.9L340.2 136.2L340.8 135.5L341.4 134.8L342 134L342.5 133.3L343.1 132.6L343.7 131.9L344.2 131.2L344.7 130.5L345.2 129.8L345.7 129.1L346.2 128.4L346.7 127.7L347.1 127L347.6 126.3L348 125.5L348.4 124.8L348.8 124.1L349.2 123.4L349.6 122.7L349.9 122L350.3 121.3L350.6 120.6L350.9 119.9L351.2 119.2L351.5 118.5L351.8 117.8L352 117L352.3 116.3L352.5 115.6L352.7 114.9L352.9 114.2L353.1 113.5L353.3 112.8L353.4 112.1L353.6 111.4L353.7 110.7L353.8 110L353.9 109.3L354 108.5L354 107.8L354.1 107.1L354.1 106.4L354.2 105.7L354.2 105L354.2 104.3L354.1 103.6L354.1 102.9L354 102.2L354 101.5L353.9 100.7L353.8 100L353.7 99.3L353.6 98.6L353.4 97.9L353.3 97.2L353.1 96.5L352.9 95.8L352.7 95.1L352.5 94.4L352.3 93.7L352 93L351.8 92.2L351.5 91.5L351.2 90.8L350.9 90.1L350.6 89.4L350.3 88.7L349.9 88L349.6 87.3L349.2 86.6L348.8 85.9L348.4 85.2L348 84.5L347.6 83.7L347.1 83L346.7 82.3L346.2 81.6L345.7 80.9L345.2 80.2L344.7 79.5L344.2 78.8L343.7 78.1L343.1 77.4L342.5 76.7L342 76L341.4 75.2L340.8 74.5L340.2 73.8L339.5 73.1L338.9 72.4L338.2 71.7L337.6 71L336.9 70.3L336.2 69.6L335.5 68.9L334.8 68.2L334.1 67.4L333.3 66.7L332.6 66L331.8 65.3L331.1 64.6L330.3 63.9L329.5 63.2L328.7 62.5L327.8 61.8L327 61.1L326.2 60.4L325.3 59.7L324.5 58.9L323.6 58.2L322.7 57.5L321.8 56.8L320.9 56.1L320 55.4L319 54.7L318.1 54L317.2 53.3L316.2 52.6L315.2 51.9L314.3 51.2L313.3 50.4L312.3 49.7L311.3 49L310.3 48.3L309.2 47.6L308.2 46.9L307.1 46.2L306.1 45.5L305 44.8L304 44.1L302.9 43.4L301.8 42.7L300.7 41.9L299.6 41.2L298.5 40.5L297.3 39.8L296.2 39.1L295.1 38.4L293.9 37.7L292.8 37L291.6 36.3L290.4 35.6L289.2 34.9L288.1 34.1L286.9 33.4L285.6 32.7L284.4 32L283.2 31.3L282 30.6L280.8 29.9L279.5 29.2L278.3 28.5L277 27.8L275.8 27.1L274.5 26.4L273.2 25.6L271.9 24.9L270.6 24.2L269.3 23.5L268 22.8L266.7 22.1L265.4 21.4L264.1 20.7L262.8 20L261.4 19.3L260.1 18.6L258.7 17.9L257.4 17.1L256 16.4L254.7 15.7L253.3 15L251.9 14.3L250.5 13.6L249.1 12.9L247.7 12.2L246.3 11.5L244.9 10.8L243.5 10.1L242.1 9.4L240.7 8.6L239.3 7.9L237.8 7.2L236.4 6.5L235 5.8L233.5 5.1L232.1 4.4L230.6 3.7L229.2 3L227.7 2.3L226.2 1.6L224.7 0.9L223.3 0.1L221.8 -0.6L220.3 -1.3Z" fill="#f0b374"/>
<path d="M233.6 56.3C234.1 56.4 233.4 56.2 236.8 57C240.3 57.7 248.4 59.4 254.4 60.6C260.4 61.9 266.8 63.1 273 64.3C279.2 65.6 285.3 66.6 291.5 68C297.7 69.4 306.3 71.7 310.1 72.6C313.9 73.4 312.2 72.9 314.3 73.4C316.5 73.9 320.3 74.8 322.9 75.7C325.5 76.5 327.6 77.6 329.8 78.6C331.9 79.7 334.1 80.9 335.8 82C337.5 83.2 338.8 84.2 340 85.4C341.3 86.7 342.5 88.2 343.5 89.7C344.5 91.2 345.4 92.9 346.1 94.5C346.7 96 347 97.4 347.3 99.2C347.6 100.9 347.8 103.1 347.8 105C347.8 106.9 347.6 108.6 347.3 110.3C347 112 346.6 113.6 346.1 115.1C345.5 116.6 344.9 117.8 343.9 119.3C342.9 120.8 341.4 122.6 340 124C338.7 125.3 337.5 126.2 335.8 127.4C334.1 128.5 331.9 129.9 329.8 130.9C327.6 131.9 325.5 132.7 322.9 133.5C320.3 134.3 316.5 135.1 314.3 135.6C312.2 136.1 313.9 135.8 310.1 136.5C306.3 137.1 297.7 138.4 291.5 139.6C285.3 140.7 279.2 142 273 143.3C266.8 144.5 260.4 145.9 254.4 146.9C248.4 148 240.3 149.2 236.8 149.8C233.4 150.3 234.1 150.2 233.6 150.3Z" fill="#a9c2ea"/>
<path d="M233.6 56.3C234.1 56.4 233.4 56.2 236.8 57C240.3 57.7 248.4 59.4 254.4 60.6C260.4 61.9 266.8 63.1 273 64.3C279.2 65.6 285.3 66.6 291.5 68C297.7 69.4 306.3 71.7 310.1 72.6C313.9 73.4 312.2 72.9 314.3 73.4C316.5 73.9 320.3 74.8 322.9 75.7C325.5 76.5 327.6 77.6 329.8 78.6C331.9 79.7 334.1 80.9 335.8 82C337.5 83.2 338.8 84.2 340 85.4C341.3 86.7 342.5 88.2 343.5 89.7C344.5 91.2 345.4 92.9 346.1 94.5C346.7 96 347 97.4 347.3 99.2C347.6 100.9 347.8 103.1 347.8 105C347.8 106.9 347.6 108.6 347.3 110.3C347 112 346.6 113.6 346.1 115.1C345.5 116.6 344.9 117.8 343.9 119.3C342.9 120.8 341.4 122.6 340 124C338.7 125.3 337.5 126.2 335.8 127.4C334.1 128.5 331.9 129.9 329.8 130.9C327.6 131.9 325.5 132.7 322.9 133.5C320.3 134.3 316.5 135.1 314.3 135.6C312.2 136.1 313.9 135.8 310.1 136.5C306.3 137.1 297.7 138.4 291.5 139.6C285.3 140.7 279.2 142 273 143.3C266.8 144.5 260.4 145.9 254.4 146.9C248.4 148 240.3 149.2 236.8 149.8C233.4 150.3 234.1 150.2 233.6 150.3" fill="none" stroke="#222" stroke-width="0.8" stroke-dasharray="0.8 1"/>
<path d="M220.3 211.3L221.8 210.6L223.3 209.9L224.7 209.1L226.2 208.4L227.7 207.7L229.2 207L230.6 206.3L232.1 205.6L233.5 204.9L235 204.2L236.4 203.5L237.8 202.8L239.3 202.1L240.7 201.4L242.1 200.6L243.5 199.9L244.9 199.2L246.3 198.5L247.7 197.8L249.1 197.1L250.5 196.4L251.9 195.7L253.3 195L254.7 194.3L256 193.6L257.4 192.9L258.7 192.1L260.1 191.4L261.4 190.7L262.8 190L264.1 189.3L265.4 188.6L266.7 187.9L268 187.2L269.3 186.5L270.6 185.8L271.9 185.1L273.2 184.4L274.5 183.6L275.8 182.9L277 182.2L278.3 181.5L279.5 180.8L280.8 180.1L282 179.4L283.2 178.7L284.4 178L285.6 177.3L286.9 176.6L288.1 175.9L289.2 175.1L290.4 174.4L291.6 173.7L292.8 173L293.9 172.3L295.1 171.6L296.2 170.9L297.3 170.2L298.5 169.5L299.6 168.8L300.7 168.1L301.8 167.3L302.9 166.6L304 165.9L305 165.2L306.1 164.5L307.1 163.8L308.2 163.1L309.2 162.4L310.3 161.7L311.3 161L312.3 160.3L313.3 159.6L314.3 158.8L315.2 158.1L316.2 157.4L317.2 156.7L318.1 156L319 155.3L320 154.6L320.9 153.9L321.8 153.2L322.7 152.5L323.6 151.8L324.5 151.1L325.3 150.3L326.2 149.6L327 148.9L327.8 148.2L328.7 147.5L329.5 146.8L330.3 146.1L331.1 145.4L331.8 144.7L332.6 144L333.3 143.3L334.1 142.6L334.8 141.8L335.5 141.1L336.2 140.4L336.9 139.7L337.6 139L338.2 138.3L338.9 137.6L339.5 136.9L340.2 136.2L340.8 135.5L341.4 134.8L342 134L342.5 133.3L343.1 132.6L343.7 131.9L344.2 131.2L344.7 130.5L345.2 129.8L345.7 129.1L346.2 128.4L346.7 127.7L347.1 127L347.6 126.3L348 125.5L348.4 124.8L348.8 124.1L349.2 123.4L349.6 122.7L349.9 122L350.3 121.3L350.6 120.6L350.9 119.9L351.2 119.2L351.5 118.5L351.8 117.8L352 117L352.3 116.3L352.5 115.6L352.7 114.9L352.9 114.2L353.1 113.5L353.3 112.8L353.4 112.1L353.6 111.4L353.7 110.7L353.8 110L353.9 109.3L354 108.5L354 107.8L354.1 107.1L354.1 106.4L354.2 105.7L354.2 105L354.2 104.3L354.1 103.6L354.1 102.9L354 102.2L354 101.5L353.9 100.7L353.8 100L353.7 99.3L353.6 98.6L353.4 97.9L353.3 97.2L353.1 96.5L352.9 95.8L352.7 95.1L352.5 94.4L352.3 93.7L352 93L351.8 92.2L351.5 91.5L351.2 90.8L350.9 90.1L350.6 89.4L350.3 88.7L349.9 88L349.6 87.3L349.2 86.6L348.8 85.9L348.4 85.2L348 84.5L347.6 83.7L347.1 83L346.7 82.3L346.2 81.6L345.7 80.9L345.2 80.2L344.7 79.5L344.2 78.8L343.7 78.1L343.1 77.4L342.5 76.7L342 76L341.4 75.2L340.8 74.5L340.2 73.8L339.5 73.1L338.9 72.4L338.2 71.7L337.6 71L336.9 70.3L336.2 69.6L335.5 68.9L334.8 68.2L334.1 67.4L333.3 66.7L332.6 66L331.8 65.3L331.1 64.6L330.3 63.9L329.5 63.2L328.7 62.5L327.8 61.8L327 61.1L326.2 60.4L325.3 59.7L324.5 58.9L323.6 58.2L322.7 57.5L321.8 56.8L320.9 56.1L320 55.4L319 54.7L318.1 54L317.2 53.3L316.2 52.6L315.2 51.9L314.3 51.2L313.3 50.4L312.3 49.7L311.3 49L310.3 48.3L309.2 47.6L308.2 46.9L307.1 46.2L306.1 45.5L305 44.8L304 44.1L302.9 43.4L301.8 42.7L300.7 41.9L299.6 41.2L298.5 40.5L297.3 39.8L296.2 39.1L295.1 38.4L293.9 37.7L292.8 37L291.6 36.3L290.4 35.6L289.2 34.9L288.1 34.1L286.9 33.4L285.6 32.7L284.4 32L283.2 31.3L282 30.6L280.8 29.9L279.5 29.2L278.3 28.5L277 27.8L275.8 27.1L274.5 26.4L273.2 25.6L271.9 24.9L270.6 24.2L269.3 23.5L268 22.8L266.7 22.1L265.4 21.4L264.1 20.7L262.8 20L261.4 19.3L260.1 18.6L258.7 17.9L257.4 17.1L256 16.4L254.7 15.7L253.3 15L251.9 14.3L250.5 13.6L249.1 12.9L247.7 12.2L246.3 11.5L244.9 10.8L243.5 10.1L242.1 9.4L240.7 8.6L239.3 7.9L237.8 7.2L236.4 6.5L235 5.8L233.5 5.1L232.1 4.4L230.6 3.7L229.2 3L227.7 2.3L226.2 1.6L224.7 0.9L223.3 0.1L221.8 -0.6L220.3 -1.3" fill="none" stroke="#222" stroke-width="0.7"/>
<circle cx="335.6" cy="105" r="85" fill="none" stroke="#3a3a3a" stroke-width="0.9" stroke-dasharray="3.8 2.9"/>
</g>
<path d="M335.6 105V63.9 M335.6 105H375.3" stroke="#8a6aa8" stroke-width="0.5" opacity="0.3" fill="none"/>
<path d="M335.6 57.4l-2.3 5h4.6z" fill="#6a2c9c"/>
<path d="M382.2 105l-6 -2.2v4.4z" fill="#6a2c9c"/>
<circle cx="335.6" cy="105" r="2.3" fill="#000"/>
<rect x="236.4" y="5.8" width="198.4" height="198.4" fill="none" stroke="#222" stroke-width="1"/>
<path d="M236.4 204.2v1.9M236.4 5.8v-1.9M236.4 204.2h-1.9M434.8 204.2h1.9M243.5 204.2v1.9M243.5 5.8v-1.9M236.4 197.1h-1.9M434.8 197.1h1.9M250.6 204.2v3.4M250.6 5.8v-3.4M236.4 190h-3.4M434.8 190h3.4M257.7 204.2v1.9M257.7 5.8v-1.9M236.4 182.9h-1.9M434.8 182.9h1.9M264.8 204.2v1.9M264.8 5.8v-1.9M236.4 175.9h-1.9M434.8 175.9h1.9M271.8 204.2v1.9M271.8 5.8v-1.9M236.4 168.8h-1.9M434.8 168.8h1.9M278.9 204.2v3.4M278.9 5.8v-3.4M236.4 161.7h-3.4M434.8 161.7h3.4M286 204.2v1.9M286 5.8v-1.9M236.4 154.6h-1.9M434.8 154.6h1.9M293.1 204.2v1.9M293.1 5.8v-1.9M236.4 147.5h-1.9M434.8 147.5h1.9M300.2 204.2v1.9M300.2 5.8v-1.9M236.4 140.4h-1.9M434.8 140.4h1.9M307.3 204.2v3.4M307.3 5.8v-3.4M236.4 133.3h-3.4M434.8 133.3h3.4M314.3 204.2v1.9M314.3 5.8v-1.9M236.4 126.3h-1.9M434.8 126.3h1.9M321.4 204.2v1.9M321.4 5.8v-1.9M236.4 119.2h-1.9M434.8 119.2h1.9M328.5 204.2v1.9M328.5 5.8v-1.9M236.4 112.1h-1.9M434.8 112.1h1.9M335.6 204.2v3.4M335.6 5.8v-3.4M236.4 105h-3.4M434.8 105h3.4M342.7 204.2v1.9M342.7 5.8v-1.9M236.4 97.9h-1.9M434.8 97.9h1.9M349.8 204.2v1.9M349.8 5.8v-1.9M236.4 90.8h-1.9M434.8 90.8h1.9M356.9 204.2v1.9M356.9 5.8v-1.9M236.4 83.7h-1.9M434.8 83.7h1.9M363.9 204.2v3.4M363.9 5.8v-3.4M236.4 76.7h-3.4M434.8 76.7h3.4M371 204.2v1.9M371 5.8v-1.9M236.4 69.6h-1.9M434.8 69.6h1.9M378.1 204.2v1.9M378.1 5.8v-1.9M236.4 62.5h-1.9M434.8 62.5h1.9M385.2 204.2v1.9M385.2 5.8v-1.9M236.4 55.4h-1.9M434.8 55.4h1.9M392.3 204.2v3.4M392.3 5.8v-3.4M236.4 48.3h-3.4M434.8 48.3h3.4M399.4 204.2v1.9M399.4 5.8v-1.9M236.4 41.2h-1.9M434.8 41.2h1.9M406.5 204.2v1.9M406.5 5.8v-1.9M236.4 34.1h-1.9M434.8 34.1h1.9M413.5 204.2v1.9M413.5 5.8v-1.9M236.4 27.1h-1.9M434.8 27.1h1.9M420.6 204.2v3.4M420.6 5.8v-3.4M236.4 20h-3.4M434.8 20h3.4M427.7 204.2v1.9M427.7 5.8v-1.9M236.4 12.9h-1.9M434.8 12.9h1.9M434.8 204.2v1.9M434.8 5.8v-1.9M236.4 5.8h-1.9M434.8 5.8h1.9" stroke="#222" stroke-width="0.9" fill="none"/>
<text x="249.1" y="225.6" class="tk" text-anchor="middle">-60</text>
<text transform="translate(232.3 194.4) scale(1.3 1)" class="tky" text-anchor="end">-60</text>
<text x="277.4" y="225.6" class="tk" text-anchor="middle">-40</text>
<text transform="translate(232.3 166.1) scale(1.3 1)" class="tky" text-anchor="end">-40</text>
<text x="305.8" y="225.6" class="tk" text-anchor="middle">-20</text>
<text transform="translate(232.3 137.7) scale(1.3 1)" class="tky" text-anchor="end">-20</text>
<text x="335.6" y="225.6" class="tk" text-anchor="middle">0</text>
<text transform="translate(232.3 109.4) scale(1.3 1)" class="tky" text-anchor="end">0</text>
<text x="363.9" y="225.6" class="tk" text-anchor="middle">20</text>
<text transform="translate(232.3 81.1) scale(1.3 1)" class="tky" text-anchor="end">20</text>
<text x="392.3" y="225.6" class="tk" text-anchor="middle">40</text>
<text transform="translate(232.3 52.7) scale(1.3 1)" class="tky" text-anchor="end">40</text>
<text x="420.6" y="225.6" class="tk" text-anchor="middle">60</text>
<text transform="translate(232.3 24.4) scale(1.3 1)" class="tky" text-anchor="end">60</text>
<text x="335.6" y="240.4" class="ax" text-anchor="middle" letter-spacing="-0.4">X [R<tspan dy="2.5" font-size="9">E</tspan><tspan dy="-2.5">]</tspan></text>
<text transform="translate(199.4 105) rotate(-90)" class="ax" text-anchor="middle" letter-spacing="-0.3">Y [R<tspan dy="2.5" font-size="9">E</tspan><tspan dy="-2.5">]</tspan></text>
<circle cx="323.2" cy="21" r="3.5" fill="#6f2da8"/>
<text x="323.2" y="15" class="pl" text-anchor="middle">a,b</text>
<circle cx="276.1" cy="43.5" r="3.5" fill="#6f2da8"/>
<text x="262.5" y="43.5" class="pl" text-anchor="middle">c,d</text>
<circle cx="250.3" cy="101.9" r="3.5" fill="#6f2da8"/>
<text x="241.8" y="96.5" class="pl" text-anchor="middle">e,f</text>
<circle cx="350.1" cy="189" r="3.5" fill="#6f2da8"/>
<text x="339.9" y="185.2" class="pl" text-anchor="middle">g,h</text>
<text x="330.3" y="55.5" class="gl">90<tspan dy="-2.4" font-size="5">o </tspan><tspan dy="2.4">GSE longitude</tspan></text>
<text x="383.2" y="107.7" class="gl">0<tspan dy="-2.4" font-size="5">o </tspan><tspan dy="2.4">GSE</tspan></text>
<text x="383.9" y="117.3" class="gl">longitude</text>
<text x="290.6" y="122.2" class="rl" style="font-size:9px" text-anchor="middle">Magnetotail</text>
<text x="398.8" y="196.5" class="rl" style="font-size:9.5px" text-anchor="middle">Solar Wind</text>
<text transform="translate(312.2 151.2) rotate(-30)" class="rl" style="font-size:9px" text-anchor="middle">Magnetosheath</text>
<text x="2.2" y="263" class="ttl">a) 777 eV/q ions, GSE longitudes = [98,99]<tspan font-size="7.5" dy="-0.6">°</tspan></text>
<rect x="1" y="268.9" width="305.6" height="141.8" fill="#000"/>
<g id="ca" stroke-width="0.45" stroke-linejoin="round">
<path d="M153.8 304.5L155.8 304.5L157.8 304.5L159.7 304.5L161.7 304.4L163.6 304.4L165.6 304.4L167.6 304.3L169.5 304.3L171.5 304.2L173.4 304.2L175.4 304.1L177.3 304L179.2 303.9L181.2 303.8L183.1 303.8L181.8 301.2L180.5 298.7L179 296.2L177.4 293.7L175.7 291.2L173.9 288.7L171.9 286.2L170.7 286.3L169.5 286.4L168.4 286.5L167.2 286.5L166 286.6L164.8 286.7L163.6 286.7L162.4 286.8L161.1 286.8L159.9 286.8L158.7 286.9L157.5 286.9L156.3 286.9L155.1 286.9L153.8 286.9L153.8 289.4L153.8 291.9L153.8 294.5L153.8 297L153.8 299.5L153.8 302Z" fill="#0020ff" stroke="#0020ff"/>
<path d="M118.4 321.6L120.9 321.7L123.5 321.8L126 321.8L128.5 321.9L131 321.9L133.6 321.9L136.1 322L136.4 319.4L136.8 316.9L137.1 314.4L137.6 311.9L138.1 309.4L138.6 306.8L139.2 304.3L137.1 304.3L135 304.2L132.9 304.1L130.8 304L128.7 304L126.7 303.9L124.6 303.8L123.4 306.3L122.4 308.8L121.4 311.4L120.5 313.9L119.7 316.5L119 319.1Z" fill="#150018" stroke="#150018"/>
<path d="M136.1 322L138.6 322L141.2 322L143.7 322L146.2 322.1L148.8 322.1L151.3 322.1L153.8 322.1L153.8 319.6L153.8 317.1L153.8 314.5L153.8 312L153.8 309.5L153.8 307L153.8 304.5L151.7 304.5L149.6 304.5L147.6 304.5L145.5 304.4L143.4 304.4L141.3 304.4L139.2 304.3L138.6 306.8L138.1 309.4L137.6 311.9L137.1 314.4L136.8 316.9L136.4 319.4Z" fill="#00ff60" stroke="#00ff60"/>
<path d="M153.8 322.1L156.4 322.1L158.9 322.1L161.5 322.1L164 322L166.5 322L169.1 322L171.6 322L171.3 319.4L170.9 316.9L170.6 314.4L170.1 311.9L169.6 309.4L169.1 306.8L168.5 304.3L166.4 304.4L164.3 304.4L162.2 304.4L160.1 304.5L158.1 304.5L156 304.5L153.8 304.5L153.8 307L153.8 309.5L153.8 312L153.8 314.5L153.8 317.1L153.8 319.6Z" fill="#f0ff00" stroke="#f0ff00"/>
<path d="M171.6 322L174.1 321.9L176.7 321.9L179.2 321.9L181.7 321.8L184.2 321.8L186.8 321.7L189.3 321.6L188.7 319.1L188 316.5L187.2 313.9L186.3 311.4L185.3 308.8L184.3 306.3L183.1 303.8L181 303.9L179 304L176.9 304L174.8 304.1L172.7 304.2L170.6 304.3L168.5 304.3L169.1 306.8L169.6 309.4L170.1 311.9L170.6 314.4L170.9 316.9L171.3 319.4Z" fill="#500080" stroke="#500080"/>
<path d="M116.4 339.6L119.1 339.6L121.8 339.6L124.4 339.6L127.1 339.6L129.8 339.6L132.5 339.6L135.1 339.6L135.2 337.1L135.2 334.6L135.3 332.1L135.4 329.5L135.6 327L135.8 324.5L136.1 322L133.6 321.9L131 321.9L128.5 321.9L126 321.8L123.5 321.8L120.9 321.7L118.4 321.6L117.9 324.2L117.4 326.8L117.1 329.3L116.8 331.9L116.6 334.5L116.5 337.1Z" fill="#4000c0" stroke="#4000c0"/>
<path d="M135.1 339.6L137.8 339.6L140.5 339.6L143.2 339.6L145.8 339.6L148.5 339.6L151.2 339.6L153.8 339.6L153.8 337.1L153.8 334.6L153.8 332.1L153.8 329.6L153.8 327.1L153.8 324.6L153.8 322.1L151.3 322.1L148.8 322.1L146.2 322.1L143.7 322L141.2 322L138.6 322L136.1 322L135.8 324.5L135.6 327L135.4 329.5L135.3 332.1L135.2 334.6L135.2 337.1Z" fill="#c00000" stroke="#c00000"/>
<path d="M153.8 339.6L156.5 339.6L159.2 339.6L161.9 339.6L164.5 339.6L167.2 339.6L169.9 339.6L172.6 339.6L172.5 337.1L172.5 334.6L172.4 332.1L172.3 329.5L172.1 327L171.9 324.5L171.6 322L169.1 322L166.5 322L164 322L161.5 322.1L158.9 322.1L156.4 322.1L153.8 322.1L153.8 324.6L153.8 327.1L153.8 329.6L153.8 332.1L153.8 334.6L153.8 337.1Z" fill="#a80000" stroke="#a80000"/>
<path d="M172.6 339.6L175.2 339.6L177.9 339.6L180.6 339.6L183.3 339.6L185.9 339.6L188.6 339.6L191.3 339.6L191.2 337.1L191.1 334.5L190.9 331.9L190.6 329.3L190.3 326.8L189.8 324.2L189.3 321.6L186.8 321.7L184.2 321.8L181.7 321.8L179.2 321.9L176.7 321.9L174.1 321.9L171.6 322L171.9 324.5L172.1 327L172.3 329.5L172.4 332.1L172.5 334.6L172.5 337.1Z" fill="#00ffa0" stroke="#00ffa0"/>
<path d="M118.4 357.7L120.9 357.6L123.5 357.5L126 357.5L128.5 357.4L131 357.4L133.6 357.4L136.1 357.3L135.8 354.8L135.6 352.3L135.4 349.8L135.3 347.2L135.2 344.7L135.2 342.2L135.1 339.6L132.5 339.6L129.8 339.6L127.1 339.6L124.4 339.6L121.8 339.6L119.1 339.6L116.4 339.6L116.5 342.2L116.6 344.8L116.8 347.4L117.1 350L117.4 352.5L117.9 355.1Z" fill="#500080" stroke="#500080"/>
<path d="M136.1 357.3L138.6 357.3L141.2 357.3L143.7 357.3L146.2 357.2L148.8 357.2L151.3 357.2L153.8 357.2L153.8 354.7L153.8 352.2L153.8 349.7L153.8 347.2L153.8 344.7L153.8 342.2L153.8 339.6L151.2 339.6L148.5 339.6L145.8 339.6L143.2 339.6L140.5 339.6L137.8 339.6L135.1 339.6L135.2 342.2L135.2 344.7L135.3 347.2L135.4 349.8L135.6 352.3L135.8 354.8Z" fill="#c00000" stroke="#c00000"/>
<path d="M153.8 357.2L156.4 357.2L158.9 357.2L161.5 357.2L164 357.3L166.5 357.3L169.1 357.3L171.6 357.3L171.9 354.8L172.1 352.3L172.3 349.8L172.4 347.2L172.5 344.7L172.5 342.2L172.6 339.6L169.9 339.6L167.2 339.6L164.5 339.6L161.9 339.6L159.2 339.6L156.5 339.6L153.8 339.6L153.8 342.2L153.8 344.7L153.8 347.2L153.8 349.7L153.8 352.2L153.8 354.7Z" fill="#a80000" stroke="#a80000"/>
<path d="M171.6 357.3L174.1 357.4L176.7 357.4L179.2 357.4L181.7 357.5L184.2 357.5L186.8 357.6L189.3 357.7L189.8 355.1L190.3 352.5L190.6 350L190.9 347.4L191.1 344.8L191.2 342.2L191.3 339.6L188.6 339.6L185.9 339.6L183.3 339.6L180.6 339.6L177.9 339.6L175.2 339.6L172.6 339.6L172.5 342.2L172.5 344.7L172.4 347.2L172.3 349.8L172.1 352.3L171.9 354.8Z" fill="#00e0ff" stroke="#00e0ff"/>
<path d="M139.2 375L141.3 374.9L143.4 374.9L145.5 374.9L147.6 374.8L149.6 374.8L151.7 374.8L153.8 374.8L153.8 372.3L153.8 369.8L153.8 367.3L153.8 364.8L153.8 362.2L153.8 359.7L153.8 357.2L151.3 357.2L148.8 357.2L146.2 357.2L143.7 357.3L141.2 357.3L138.6 357.3L136.1 357.3L136.4 359.9L136.8 362.4L137.1 364.9L137.6 367.4L138.1 369.9L138.6 372.5Z" fill="#00ffb0" stroke="#00ffb0"/>
<path d="M153.8 374.8L156 374.8L158.1 374.8L160.1 374.8L162.2 374.9L164.3 374.9L166.4 374.9L168.5 375L169.1 372.5L169.6 369.9L170.1 367.4L170.6 364.9L170.9 362.4L171.3 359.9L171.6 357.3L169.1 357.3L166.5 357.3L164 357.3L161.5 357.2L158.9 357.2L156.4 357.2L153.8 357.2L153.8 359.7L153.8 362.2L153.8 364.8L153.8 367.3L153.8 369.8L153.8 372.3Z" fill="#c8ff00" stroke="#c8ff00"/>
<path d="M168.5 375L170.6 375L172.7 375.1L174.8 375.2L176.9 375.3L179 375.3L181 375.4L183.1 375.5L184.3 373L185.3 370.5L186.3 367.9L187.2 365.4L188 362.8L188.7 360.2L189.3 357.7L186.8 357.6L184.2 357.5L181.7 357.5L179.2 357.4L176.7 357.4L174.1 357.4L171.6 357.3L171.3 359.9L170.9 362.4L170.6 364.9L170.1 367.4L169.6 369.9L169.1 372.5Z" fill="#500080" stroke="#500080"/>
<path d="M153.8 392.4L155.1 392.4L156.3 392.4L157.5 392.4L158.7 392.4L159.9 392.5L161.1 392.5L162.4 392.5L163.6 392.6L164.8 392.6L166 392.7L167.2 392.8L168.4 392.8L169.5 392.9L170.7 393L171.9 393.1L173.9 390.6L175.7 388.1L177.4 385.6L179 383.1L180.5 380.6L181.8 378.1L183.1 375.5L181.2 375.5L179.2 375.4L177.3 375.3L175.4 375.2L173.4 375.1L171.5 375.1L169.5 375L167.6 375L165.6 374.9L163.6 374.9L161.7 374.9L159.7 374.8L157.8 374.8L155.8 374.8L153.8 374.8L153.8 377.3L153.8 379.8L153.8 382.3L153.8 384.8L153.8 387.4L153.8 389.9Z" fill="#0020ff" stroke="#0020ff"/>
</g><use href="#ca"/>
<use href="#grid" x="153.8" y="339.6"/>
<g class="lab"><text x="4.1" y="340.4">0</text><text x="22.8" y="340.4">22.50</text><text x="41.5" y="340.4">45</text><text x="60.3" y="340.4">67.50</text><text x="79" y="340.4">90</text><text x="97.7" y="340.4">112.50</text><text x="116.4" y="340.4">135</text><text x="135.1" y="340.4">157.50</text><text x="153.8" y="340.4">180</text><text x="172.6" y="340.4">202.50</text><text x="191.3" y="340.4">225</text><text x="210" y="340.4">247.50</text><text x="228.7" y="340.4">270</text><text x="247.4" y="340.4">292.50</text><text x="266.2" y="340.4">315</text><text x="284.9" y="340.4">337.50</text><text x="96.5" y="276">67.50</text><text x="48" y="291.2">45</text><text x="15.5" y="314">22.50</text><text x="15.5" y="367.9">−22.50</text><text x="48" y="390.7">−45</text><text x="96.5" y="405.9">−67.50</text><text x="153.8" y="271.4" style="font-size:4.3px">90</text><text x="153.8" y="410.4" style="font-size:4.3px">−90</text></g>
<path d="M153.2 338.8l2.2 1.6l-1.5 0.2l-0.5 1.3z" fill="#303030" opacity="0.8"/>
<rect x="310.7" y="268.9" width="8.3" height="141.8" fill="url(#cb)" stroke="#222" stroke-width="0.4"/>
<text x="321.9" y="274" class="cbl">10<tspan dy="-2.6" font-size="4.6">8</tspan></text>
<text x="321.9" y="308.3" class="cbl">10<tspan dy="-2.6" font-size="4.6">7</tspan></text>
<text x="321.9" y="342.6" class="cbl">10<tspan dy="-2.6" font-size="4.6">6</tspan></text>
<text x="321.9" y="376.8" class="cbl">10<tspan dy="-2.6" font-size="4.6">5</tspan></text>
<text x="321.9" y="411.1" class="cbl">10<tspan dy="-2.6" font-size="4.6">4</tspan></text>
<text transform="translate(343 341.4) rotate(-90)" class="efl">EFlux</text>
<text transform="translate(309.6 410.1) rotate(-90)" class="stamp" textLength="47" lengthAdjust="spacing">Mon Feb  1 14:58:41 2021</text>
<text x="360.1" y="263" class="ttl">b) 9215 eV/q ions, GSE longitudes = [98,99]<tspan font-size="7.5" dy="-0.6">°</tspan></text>
<rect x="358.9" y="268.9" width="305.6" height="141.8" fill="#000"/>
<g id="cb" stroke-width="0.45" stroke-linejoin="round">
<path d="M494.2 322L496.7 322L499.2 322L501.8 322L504.3 322.1L506.8 322.1L509.4 322.1L511.9 322.1L511.9 319.6L511.9 317.1L511.9 314.5L511.9 312L511.9 309.5L511.9 307L511.9 304.5L509.8 304.5L507.7 304.5L505.6 304.5L503.5 304.4L501.4 304.4L499.3 304.4L497.2 304.3L496.6 306.8L496.1 309.4L495.6 311.9L495.2 314.4L494.8 316.9L494.5 319.4Z" fill="#280030" stroke="#280030"/>
<path d="M511.9 322.1L514.4 322.1L517 322.1L519.5 322.1L522 322L524.6 322L527.1 322L529.6 322L529.3 319.4L529 316.9L528.6 314.4L528.2 311.9L527.7 309.4L527.2 306.8L526.6 304.3L524.5 304.4L522.4 304.4L520.3 304.4L518.2 304.5L516.1 304.5L514 304.5L511.9 304.5L511.9 307L511.9 309.5L511.9 312L511.9 314.5L511.9 317.1L511.9 319.6Z" fill="#0050ff" stroke="#0050ff"/>
<path d="M547.4 321.6L549.9 321.6L552.4 321.5L554.9 321.4L557.4 321.3L560 321.3L562.5 321.2L565 321.1L564.1 318.4L563 315.8L561.8 313.2L560.4 310.6L558.9 308L557.3 305.4L555.5 302.8L553.5 302.9L551.5 303.1L549.4 303.2L547.4 303.4L545.3 303.5L543.2 303.6L541.2 303.8L542.3 306.3L543.4 308.8L544.4 311.4L545.2 313.9L546 316.5L546.7 319.1Z" fill="#0070ff" stroke="#0070ff"/>
<path d="M493.2 339.6L495.9 339.6L498.5 339.6L501.2 339.6L503.9 339.6L506.6 339.6L509.2 339.6L511.9 339.6L511.9 337.1L511.9 334.6L511.9 332.1L511.9 329.6L511.9 327.1L511.9 324.6L511.9 322.1L509.4 322.1L506.8 322.1L504.3 322.1L501.8 322L499.2 322L496.7 322L494.2 322L493.9 324.5L493.7 327L493.5 329.5L493.4 332.1L493.3 334.6L493.2 337.1Z" fill="#0020ff" stroke="#0020ff"/>
<path d="M511.9 339.6L514.6 339.6L517.2 339.6L519.9 339.6L522.6 339.6L525.3 339.6L527.9 339.6L530.6 339.6L530.6 337.1L530.5 334.6L530.4 332.1L530.3 329.5L530.1 327L529.9 324.5L529.6 322L527.1 322L524.6 322L522 322L519.5 322.1L517 322.1L514.4 322.1L511.9 322.1L511.9 324.6L511.9 327.1L511.9 329.6L511.9 332.1L511.9 334.6L511.9 337.1Z" fill="#60ff00" stroke="#60ff00"/>
<path d="M530.6 339.6L533.3 339.6L536 339.6L538.6 339.6L541.3 339.6L544 339.6L546.7 339.6L549.3 339.6L549.3 337.1L549.2 334.5L549 331.9L548.7 329.3L548.3 326.8L547.9 324.2L547.4 321.6L544.8 321.7L542.3 321.8L539.8 321.8L537.2 321.9L534.7 321.9L532.2 321.9L529.6 322L529.9 324.5L530.1 327L530.3 329.5L530.4 332.1L530.5 334.6L530.6 337.1Z" fill="#480078" stroke="#480078"/>
<path d="M549.3 339.6L552 339.6L554.7 339.6L557.4 339.6L560 339.6L562.7 339.6L565.4 339.6L568.1 339.6L568 337L567.8 334.3L567.5 331.7L567.1 329L566.5 326.4L565.8 323.7L565 321.1L562.5 321.2L560 321.3L557.4 321.3L554.9 321.4L552.4 321.5L549.9 321.6L547.4 321.6L547.9 324.2L548.3 326.8L548.7 329.3L549 331.9L549.2 334.5L549.3 337.1Z" fill="#00d0ff" stroke="#00d0ff"/>
<path d="M568.1 339.6L570.7 339.6L573.4 339.6L576.1 339.6L578.8 339.6L581.4 339.6L584.1 339.6L586.8 339.6L586.7 336.9L586.4 334.1L586 331.3L585.4 328.5L584.6 325.7L583.7 323L582.6 320.2L580.1 320.4L577.6 320.5L575 320.6L572.5 320.7L570 320.9L567.5 321L565 321.1L565.8 323.7L566.5 326.4L567.1 329L567.5 331.7L567.8 334.3L568 337Z" fill="#0030ff" stroke="#0030ff"/>
<path d="M494.2 357.3L496.7 357.3L499.2 357.3L501.8 357.3L504.3 357.2L506.8 357.2L509.4 357.2L511.9 357.2L511.9 354.7L511.9 352.2L511.9 349.7L511.9 347.2L511.9 344.7L511.9 342.2L511.9 339.6L509.2 339.6L506.6 339.6L503.9 339.6L501.2 339.6L498.5 339.6L495.9 339.6L493.2 339.6L493.2 342.2L493.3 344.7L493.4 347.2L493.5 349.8L493.7 352.3L493.9 354.8Z" fill="#0050ff" stroke="#0050ff"/>
<path d="M511.9 357.2L514.4 357.2L517 357.2L519.5 357.2L522 357.3L524.6 357.3L527.1 357.3L529.6 357.3L529.9 354.8L530.1 352.3L530.3 349.8L530.4 347.2L530.5 344.7L530.6 342.2L530.6 339.6L527.9 339.6L525.3 339.6L522.6 339.6L519.9 339.6L517.2 339.6L514.6 339.6L511.9 339.6L511.9 342.2L511.9 344.7L511.9 347.2L511.9 349.7L511.9 352.2L511.9 354.7Z" fill="#c0ff00" stroke="#c0ff00"/>
<path d="M529.6 357.3L532.2 357.4L534.7 357.4L537.2 357.4L539.8 357.5L542.3 357.5L544.8 357.6L547.4 357.7L547.9 355.1L548.3 352.5L548.7 350L549 347.4L549.2 344.8L549.3 342.2L549.3 339.6L546.7 339.6L544 339.6L541.3 339.6L538.6 339.6L536 339.6L533.3 339.6L530.6 339.6L530.6 342.2L530.5 344.7L530.4 347.2L530.3 349.8L530.1 352.3L529.9 354.8Z" fill="#480078" stroke="#480078"/>
<path d="M547.4 357.7L549.9 357.7L552.4 357.8L554.9 357.9L557.4 358L560 358L562.5 358.1L565 358.2L565.8 355.6L566.5 352.9L567.1 350.3L567.5 347.6L567.8 345L568 342.3L568.1 339.6L565.4 339.6L562.7 339.6L560 339.6L557.4 339.6L554.7 339.6L552 339.6L549.3 339.6L549.3 342.2L549.2 344.8L549 347.4L548.7 350L548.3 352.5L547.9 355.1Z" fill="#00b0ff" stroke="#00b0ff"/>
<path d="M511.9 374.8L514 374.8L516.1 374.8L518.2 374.8L520.3 374.9L522.4 374.9L524.5 374.9L526.6 375L527.2 372.5L527.7 369.9L528.2 367.4L528.6 364.9L529 362.4L529.3 359.9L529.6 357.3L527.1 357.3L524.6 357.3L522 357.3L519.5 357.2L517 357.2L514.4 357.2L511.9 357.2L511.9 359.7L511.9 362.2L511.9 364.8L511.9 367.3L511.9 369.8L511.9 372.3Z" fill="#0050ff" stroke="#0050ff"/>
<path d="M541.2 375.5L543.2 375.7L545.3 375.8L547.4 375.9L549.4 376.1L551.5 376.2L553.5 376.4L555.5 376.5L557.3 373.9L558.9 371.3L560.4 368.7L561.8 366.1L563 363.5L564.1 360.9L565 358.2L562.5 358.1L560 358L557.4 358L554.9 357.9L552.4 357.8L549.9 357.7L547.4 357.7L546.7 360.2L546 362.8L545.2 365.4L544.4 367.9L543.4 370.5L542.3 373Z" fill="#4000c8" stroke="#4000c8"/>
</g><use href="#cb"/>
<use href="#grid" x="511.9" y="339.6"/>
<g class="lab"><text x="362.2" y="340.4">0</text><text x="380.9" y="340.4">22.50</text><text x="399.6" y="340.4">45</text><text x="418.3" y="340.4">67.50</text><text x="437" y="340.4">90</text><text x="455.7" y="340.4">112.50</text><text x="474.5" y="340.4">135</text><text x="493.2" y="340.4">157.50</text><text x="511.9" y="340.4">180</text><text x="530.6" y="340.4">202.50</text><text x="549.3" y="340.4">225</text><text x="568.1" y="340.4">247.50</text><text x="586.8" y="340.4">270</text><text x="605.5" y="340.4">292.50</text><text x="624.2" y="340.4">315</text><text x="642.9" y="340.4">337.50</text><text x="454.6" y="276">67.50</text><text x="406" y="291.2">45</text><text x="373.5" y="314">22.50</text><text x="373.5" y="367.9">−22.50</text><text x="406" y="390.7">−45</text><text x="454.6" y="405.9">−67.50</text><text x="511.9" y="271.4" style="font-size:4.3px">90</text><text x="511.9" y="410.4" style="font-size:4.3px">−90</text></g>
<path d="M511.3 338.8l2.2 1.6l-1.5 0.2l-0.5 1.3z" fill="#303030" opacity="0.8"/>
<rect x="669.3" y="268.9" width="8.3" height="141.8" fill="url(#cb)" stroke="#222" stroke-width="0.4"/>
<text x="680.5" y="274" class="cbl">10<tspan dy="-2.6" font-size="4.6">6</tspan></text>
<text x="680.5" y="319.7" class="cbl">10<tspan dy="-2.6" font-size="4.6">5</tspan></text>
<text x="680.5" y="365.4" class="cbl">10<tspan dy="-2.6" font-size="4.6">4</tspan></text>
<text x="680.5" y="411.1" class="cbl">10<tspan dy="-2.6" font-size="4.6">3</tspan></text>
<text transform="translate(699.2 341.4) rotate(-90)" class="efl">EFlux</text>
<text transform="translate(667.5 410.1) rotate(-90)" class="stamp" textLength="47" lengthAdjust="spacing">Mon Feb  1 14:59:15 2021</text>
<text x="2.2" y="428.5" class="ttl">c) 777 eV/q ions, GSE longitudes = [134,135]<tspan font-size="7.5" dy="-0.6">°</tspan></text>
<rect x="1" y="434.2" width="305.6" height="141" fill="#000"/>
<g id="cc" stroke-width="0.45" stroke-linejoin="round">
<path d="M119.1 449.3L120.1 449.5L121.2 449.6L122.3 449.8L123.3 450L124.4 450.2L125.5 450.3L126.6 450.5L127.7 450.6L128.9 450.8L130 450.9L131.2 451L132.3 451.2L133.5 451.3L134.6 451.4L135.8 451.5L137 451.6L138.2 451.7L139.3 451.8L140.5 451.8L141.7 451.9L142.9 452L144.1 452L145.3 452.1L146.6 452.1L147.8 452.1L149 452.2L150.2 452.2L151.4 452.2L152.6 452.2L153.8 452.2L153.8 449.7L153.8 447.2L153.8 444.7L153.8 442.2L153.8 439.7L153.8 437.2L153.8 434.6L153.8 434.6L153.8 434.6L153.8 434.6L153.8 434.6L153.8 434.6L153.8 434.6L153.8 434.6L153.8 434.6L153.8 434.6L153.8 434.6L153.8 434.6L153.8 434.6L153.8 434.6L153.8 434.6L153.8 434.6L153.8 434.6L153.8 434.6L153.8 434.6L153.8 434.6L153.8 434.6L153.8 434.6L153.8 434.6L153.8 434.6L153.8 434.6L153.8 434.6L153.8 434.6L153.8 434.6L153.8 434.6L153.8 434.6L153.8 434.6L148.1 436.5L142.6 438.4L137.3 440.4L132.4 442.5L127.7 444.7L123.3 446.9Z" fill="#480078" stroke="#480078"/>
<path d="M153.8 452.2L155.1 452.2L156.3 452.2L157.5 452.2L158.7 452.2L159.9 452.1L161.1 452.1L162.4 452.1L163.6 452L164.8 452L166 451.9L167.2 451.8L168.4 451.8L169.5 451.7L170.7 451.6L171.9 451.5L173.1 451.4L174.2 451.3L175.4 451.2L176.5 451L177.7 450.9L178.8 450.8L180 450.6L181.1 450.5L182.2 450.3L183.3 450.2L184.4 450L185.4 449.8L186.5 449.6L187.6 449.5L188.6 449.3L184.4 446.9L180 444.7L175.3 442.5L170.4 440.4L165.1 438.4L159.6 436.5L153.8 434.6L153.8 434.6L153.8 434.6L153.8 434.6L153.8 434.6L153.8 434.6L153.8 434.6L153.8 434.6L153.8 434.6L153.8 434.6L153.8 434.6L153.8 434.6L153.8 434.6L153.8 434.6L153.8 434.6L153.8 434.6L153.8 434.6L153.8 434.6L153.8 434.6L153.8 434.6L153.8 434.6L153.8 434.6L153.8 434.6L153.8 434.6L153.8 434.6L153.8 434.6L153.8 434.6L153.8 434.6L153.8 434.6L153.8 434.6L153.8 434.6L153.8 437.2L153.8 439.7L153.8 442.2L153.8 444.7L153.8 447.2L153.8 449.7Z" fill="#4000b0" stroke="#4000b0"/>
<path d="M96.2 466.7L98.1 466.9L99.9 467.1L101.8 467.3L103.6 467.5L105.5 467.7L107.4 467.8L109.3 468L111.2 468.2L113.1 468.3L115 468.5L116.9 468.6L118.8 468.7L120.7 468.8L122.7 468.9L124.6 469.1L125.9 466.5L127.2 464L128.7 461.5L130.3 459L132 456.5L133.8 454L135.8 451.5L134.6 451.4L133.5 451.3L132.3 451.2L131.2 451L130 450.9L128.9 450.8L127.7 450.6L126.6 450.5L125.5 450.3L124.4 450.2L123.3 450L122.3 449.8L121.2 449.6L120.1 449.5L119.1 449.3L115.2 451.6L111.5 454L108 456.5L104.7 459L101.7 461.5L98.8 464.1Z" fill="#480078" stroke="#480078"/>
<path d="M124.6 469.1L126.5 469.1L128.5 469.2L130.4 469.3L132.3 469.4L134.3 469.5L136.2 469.5L138.2 469.6L140.1 469.6L142.1 469.7L144.1 469.7L146 469.7L148 469.8L149.9 469.8L151.9 469.8L153.8 469.8L153.8 467.3L153.8 464.8L153.8 462.3L153.8 459.8L153.8 457.2L153.8 454.7L153.8 452.2L152.6 452.2L151.4 452.2L150.2 452.2L149 452.2L147.8 452.1L146.6 452.1L145.3 452.1L144.1 452L142.9 452L141.7 451.9L140.5 451.8L139.3 451.8L138.2 451.7L137 451.6L135.8 451.5L133.8 454L132 456.5L130.3 459L128.7 461.5L127.2 464L125.9 466.5Z" fill="#00d8ff" stroke="#00d8ff"/>
<path d="M153.8 469.8L155.8 469.8L157.8 469.8L159.7 469.8L161.7 469.7L163.6 469.7L165.6 469.7L167.6 469.6L169.5 469.6L171.5 469.5L173.4 469.5L175.4 469.4L177.3 469.3L179.2 469.2L181.2 469.1L183.1 469.1L181.8 466.5L180.5 464L179 461.5L177.4 459L175.7 456.5L173.9 454L171.9 451.5L170.7 451.6L169.5 451.7L168.4 451.8L167.2 451.8L166 451.9L164.8 452L163.6 452L162.4 452.1L161.1 452.1L159.9 452.1L158.7 452.2L157.5 452.2L156.3 452.2L155.1 452.2L153.8 452.2L153.8 454.7L153.8 457.2L153.8 459.8L153.8 462.3L153.8 464.8L153.8 467.3Z" fill="#00ff40" stroke="#00ff40"/>
<path d="M183.1 469.1L185 468.9L187 468.8L188.9 468.7L190.8 468.6L192.7 468.5L194.6 468.3L196.5 468.2L198.4 468L200.3 467.8L202.2 467.7L204.1 467.5L205.9 467.3L207.8 467.1L209.6 466.9L211.5 466.7L208.9 464.1L206 461.5L203 459L199.7 456.5L196.2 454L192.5 451.6L188.6 449.3L187.6 449.5L186.5 449.6L185.4 449.8L184.4 450L183.3 450.2L182.2 450.3L181.1 450.5L180 450.6L178.8 450.8L177.7 450.9L176.5 451L175.4 451.2L174.2 451.3L173.1 451.4L171.9 451.5L173.9 454L175.7 456.5L177.4 459L179 461.5L180.5 464L181.8 466.5Z" fill="#0060ff" stroke="#0060ff"/>
<path d="M83.2 485.5L85.7 485.7L88.2 485.8L90.7 485.9L93.2 486L95.7 486.2L98.2 486.3L100.7 486.4L101.7 483.7L102.8 481.1L104 478.5L105.3 475.9L106.8 473.3L108.4 470.7L110.2 468.1L108.2 467.9L106.2 467.7L104.2 467.5L102.2 467.3L100.2 467.1L98.2 466.9L96.2 466.7L93.8 469.3L91.5 472L89.5 474.6L87.7 477.3L86 480L84.5 482.8Z" fill="#150018" stroke="#150018"/>
<path d="M100.7 486.4L103.3 486.5L105.8 486.6L108.3 486.6L110.8 486.7L113.3 486.8L115.9 486.9L118.4 486.9L119 484.4L119.7 481.8L120.5 479.2L121.4 476.7L122.4 474.1L123.4 471.6L124.6 469.1L122.5 468.9L120.5 468.8L118.4 468.7L116.3 468.5L114.3 468.4L112.3 468.2L110.2 468.1L108.4 470.7L106.8 473.3L105.3 475.9L104 478.5L102.8 481.1L101.7 483.7Z" fill="#4000c8" stroke="#4000c8"/>
<path d="M118.4 486.9L120.9 487L123.5 487.1L126 487.1L128.5 487.2L131 487.2L133.6 487.2L136.1 487.3L136.4 484.7L136.8 482.2L137.1 479.7L137.6 477.2L138.1 474.7L138.6 472.1L139.2 469.6L137.1 469.6L135 469.5L132.9 469.4L130.8 469.3L128.7 469.3L126.7 469.2L124.6 469.1L123.4 471.6L122.4 474.1L121.4 476.7L120.5 479.2L119.7 481.8L119 484.4Z" fill="#00ffa0" stroke="#00ffa0"/>
<path d="M136.1 487.3L138.6 487.3L141.2 487.3L143.7 487.3L146.2 487.4L148.8 487.4L151.3 487.4L153.8 487.4L153.8 484.9L153.8 482.4L153.8 479.8L153.8 477.3L153.8 474.8L153.8 472.3L153.8 469.8L151.7 469.8L149.6 469.8L147.6 469.8L145.5 469.7L143.4 469.7L141.3 469.7L139.2 469.6L138.6 472.1L138.1 474.7L137.6 477.2L137.1 479.7L136.8 482.2L136.4 484.7Z" fill="#ffe000" stroke="#ffe000"/>
<path d="M153.8 487.4L156.4 487.4L158.9 487.4L161.5 487.4L164 487.3L166.5 487.3L169.1 487.3L171.6 487.3L171.3 484.7L170.9 482.2L170.6 479.7L170.1 477.2L169.6 474.7L169.1 472.1L168.5 469.6L166.4 469.7L164.3 469.7L162.2 469.7L160.1 469.8L158.1 469.8L156 469.8L153.8 469.8L153.8 472.3L153.8 474.8L153.8 477.3L153.8 479.8L153.8 482.4L153.8 484.9Z" fill="#ff0000" stroke="#ff0000"/>
<path d="M171.6 487.3L174.1 487.2L176.7 487.2L179.2 487.2L181.7 487.1L184.2 487.1L186.8 487L189.3 486.9L188.7 484.4L188 481.8L187.2 479.2L186.3 476.7L185.3 474.1L184.3 471.6L183.1 469.1L181 469.2L179 469.3L176.9 469.3L174.8 469.4L172.7 469.5L170.6 469.6L168.5 469.6L169.1 472.1L169.6 474.7L170.1 477.2L170.6 479.7L170.9 482.2L171.3 484.7Z" fill="#ff9000" stroke="#ff9000"/>
<path d="M189.3 486.9L191.8 486.9L194.4 486.8L196.9 486.7L199.4 486.6L201.9 486.6L204.4 486.5L207 486.4L206 483.7L204.9 481.1L203.7 478.5L202.4 475.9L200.9 473.3L199.3 470.7L197.5 468.1L195.4 468.2L193.4 468.4L191.4 468.5L189.3 468.7L187.2 468.8L185.2 468.9L183.1 469.1L184.3 471.6L185.3 474.1L186.3 476.7L187.2 479.2L188 481.8L188.7 484.4Z" fill="#00ff20" stroke="#00ff20"/>
<path d="M207 486.4L209.5 486.3L212 486.2L214.5 486L217 485.9L219.5 485.8L222 485.7L224.5 485.5L223.2 482.8L221.7 480L220 477.3L218.2 474.6L216.2 472L213.9 469.3L211.5 466.7L209.5 466.9L207.5 467.1L205.5 467.3L203.5 467.5L201.5 467.7L199.5 467.9L197.5 468.1L199.3 470.7L200.9 473.3L202.4 475.9L203.7 478.5L204.9 481.1L206 483.7Z" fill="#0040ff" stroke="#0040ff"/>
<path d="M224.5 485.5L227 485.4L229.5 485.2L232 485.1L234.5 484.9L236.9 484.7L239.4 484.5L241.9 484.4L240.2 481.5L238.2 478.6L236.1 475.8L233.7 473L231 470.2L228.1 467.5L225 464.8L223.1 465.1L221.2 465.4L219.3 465.7L217.3 465.9L215.4 466.2L213.5 466.4L211.5 466.7L213.9 469.3L216.2 472L218.2 474.6L220 477.3L221.7 480L223.2 482.8Z" fill="#0c0410" stroke="#0c0410"/>
<path d="M97.7 504.9L100.4 504.9L103 504.9L105.7 504.9L108.4 504.9L111.1 504.9L113.7 504.9L116.4 504.9L116.5 502.4L116.6 499.8L116.8 497.2L117.1 494.6L117.4 492.1L117.9 489.5L118.4 486.9L115.9 486.9L113.3 486.8L110.8 486.7L108.3 486.6L105.8 486.6L103.3 486.5L100.7 486.4L99.9 489L99.2 491.7L98.7 494.3L98.3 497L97.9 499.6L97.8 502.3Z" fill="#2000ff" stroke="#2000ff"/>
<path d="M116.4 504.9L119.1 504.9L121.8 504.9L124.4 504.9L127.1 504.9L129.8 504.9L132.5 504.9L135.1 504.9L135.2 502.4L135.2 499.9L135.3 497.4L135.4 494.8L135.6 492.3L135.8 489.8L136.1 487.3L133.6 487.2L131 487.2L128.5 487.2L126 487.1L123.5 487.1L120.9 487L118.4 486.9L117.9 489.5L117.4 492.1L117.1 494.6L116.8 497.2L116.6 499.8L116.5 502.4Z" fill="#00ff40" stroke="#00ff40"/>
<path d="M135.1 504.9L137.8 504.9L140.5 504.9L143.2 504.9L145.8 504.9L148.5 504.9L151.2 504.9L153.8 504.9L153.8 502.4L153.8 499.9L153.8 497.4L153.8 494.9L153.8 492.4L153.8 489.9L153.8 487.4L151.3 487.4L148.8 487.4L146.2 487.4L143.7 487.3L141.2 487.3L138.6 487.3L136.1 487.3L135.8 489.8L135.6 492.3L135.4 494.8L135.3 497.4L135.2 499.9L135.2 502.4Z" fill="#ff0000" stroke="#ff0000"/>
<path d="M153.8 504.9L156.5 504.9L159.2 504.9L161.9 504.9L164.5 504.9L167.2 504.9L169.9 504.9L172.6 504.9L172.5 502.4L172.5 499.9L172.4 497.4L172.3 494.8L172.1 492.3L171.9 489.8L171.6 487.3L169.1 487.3L166.5 487.3L164 487.3L161.5 487.4L158.9 487.4L156.4 487.4L153.8 487.4L153.8 489.9L153.8 492.4L153.8 494.9L153.8 497.4L153.8 499.9L153.8 502.4Z" fill="#a80000" stroke="#a80000"/>
<path d="M172.6 504.9L175.2 504.9L177.9 504.9L180.6 504.9L183.3 504.9L185.9 504.9L188.6 504.9L191.3 504.9L191.2 502.4L191.1 499.8L190.9 497.2L190.6 494.6L190.3 492.1L189.8 489.5L189.3 486.9L186.8 487L184.2 487.1L181.7 487.1L179.2 487.2L176.7 487.2L174.1 487.2L171.6 487.3L171.9 489.8L172.1 492.3L172.3 494.8L172.4 497.4L172.5 499.9L172.5 502.4Z" fill="#c00000" stroke="#c00000"/>
<path d="M191.3 504.9L194 504.9L196.6 504.9L199.3 504.9L202 504.9L204.7 504.9L207.3 504.9L210 504.9L209.9 502.3L209.8 499.6L209.4 497L209 494.3L208.5 491.7L207.8 489L207 486.4L204.4 486.5L201.9 486.6L199.4 486.6L196.9 486.7L194.4 486.8L191.8 486.9L189.3 486.9L189.8 489.5L190.3 492.1L190.6 494.6L190.9 497.2L191.1 499.8L191.2 502.4Z" fill="#d0ff00" stroke="#d0ff00"/>
<path d="M210 504.9L212.7 504.9L215.4 504.9L218 504.9L220.7 504.9L223.4 504.9L226.1 504.9L228.7 504.9L228.6 502.2L228.4 499.4L228 496.6L227.4 493.8L226.6 491L225.6 488.3L224.5 485.5L222 485.7L219.5 485.8L217 485.9L214.5 486L212 486.2L209.5 486.3L207 486.4L207.8 489L208.5 491.7L209 494.3L209.4 497L209.8 499.6L209.9 502.3Z" fill="#0080ff" stroke="#0080ff"/>
<path d="M100.7 523.5L103.3 523.4L105.8 523.3L108.3 523.3L110.8 523.2L113.3 523.1L115.9 523L118.4 523L117.9 520.4L117.4 517.8L117.1 515.3L116.8 512.7L116.6 510.1L116.5 507.5L116.4 504.9L113.7 504.9L111.1 504.9L108.4 504.9L105.7 504.9L103 504.9L100.4 504.9L97.7 504.9L97.8 507.6L97.9 510.3L98.3 512.9L98.7 515.6L99.2 518.2L99.9 520.9Z" fill="#3000e0" stroke="#3000e0"/>
<path d="M118.4 523L120.9 522.9L123.5 522.8L126 522.8L128.5 522.7L131 522.7L133.6 522.7L136.1 522.6L135.8 520.1L135.6 517.6L135.4 515.1L135.3 512.5L135.2 510L135.2 507.5L135.1 504.9L132.5 504.9L129.8 504.9L127.1 504.9L124.4 504.9L121.8 504.9L119.1 504.9L116.4 504.9L116.5 507.5L116.6 510.1L116.8 512.7L117.1 515.3L117.4 517.8L117.9 520.4Z" fill="#00ff40" stroke="#00ff40"/>
<path d="M136.1 522.6L138.6 522.6L141.2 522.6L143.7 522.6L146.2 522.5L148.8 522.5L151.3 522.5L153.8 522.5L153.8 520L153.8 517.5L153.8 515L153.8 512.5L153.8 510L153.8 507.5L153.8 504.9L151.2 504.9L148.5 504.9L145.8 504.9L143.2 504.9L140.5 504.9L137.8 504.9L135.1 504.9L135.2 507.5L135.2 510L135.3 512.5L135.4 515.1L135.6 517.6L135.8 520.1Z" fill="#ff0000" stroke="#ff0000"/>
<path d="M153.8 522.5L156.4 522.5L158.9 522.5L161.5 522.5L164 522.6L166.5 522.6L169.1 522.6L171.6 522.6L171.9 520.1L172.1 517.6L172.3 515.1L172.4 512.5L172.5 510L172.5 507.5L172.6 504.9L169.9 504.9L167.2 504.9L164.5 504.9L161.9 504.9L159.2 504.9L156.5 504.9L153.8 504.9L153.8 507.5L153.8 510L153.8 512.5L153.8 515L153.8 517.5L153.8 520Z" fill="#a80000" stroke="#a80000"/>
<path d="M171.6 522.6L174.1 522.7L176.7 522.7L179.2 522.7L181.7 522.8L184.2 522.8L186.8 522.9L189.3 523L189.8 520.4L190.3 517.8L190.6 515.3L190.9 512.7L191.1 510.1L191.2 507.5L191.3 504.9L188.6 504.9L185.9 504.9L183.3 504.9L180.6 504.9L177.9 504.9L175.2 504.9L172.6 504.9L172.5 507.5L172.5 510L172.4 512.5L172.3 515.1L172.1 517.6L171.9 520.1Z" fill="#c00000" stroke="#c00000"/>
<path d="M189.3 523L191.8 523L194.4 523.1L196.9 523.2L199.4 523.3L201.9 523.3L204.4 523.4L207 523.5L207.8 520.9L208.5 518.2L209 515.6L209.4 512.9L209.8 510.3L209.9 507.6L210 504.9L207.3 504.9L204.7 504.9L202 504.9L199.3 504.9L196.6 504.9L194 504.9L191.3 504.9L191.2 507.5L191.1 510.1L190.9 512.7L190.6 515.3L190.3 517.8L189.8 520.4Z" fill="#d0ff00" stroke="#d0ff00"/>
<path d="M207 523.5L209.5 523.6L212 523.7L214.5 523.9L217 524L219.5 524.1L222 524.2L224.5 524.4L225.6 521.6L226.6 518.9L227.4 516.1L228 513.3L228.4 510.5L228.6 507.7L228.7 504.9L226.1 504.9L223.4 504.9L220.7 504.9L218 504.9L215.4 504.9L212.7 504.9L210 504.9L209.9 507.6L209.8 510.3L209.4 512.9L209 515.6L208.5 518.2L207.8 520.9Z" fill="#0080ff" stroke="#0080ff"/>
<path d="M110.2 541.8L112.3 541.7L114.3 541.5L116.3 541.4L118.4 541.2L120.5 541.1L122.5 541L124.6 540.8L123.4 538.3L122.4 535.8L121.4 533.2L120.5 530.7L119.7 528.1L119 525.5L118.4 523L115.9 523L113.3 523.1L110.8 523.2L108.3 523.3L105.8 523.3L103.3 523.4L100.7 523.5L101.7 526.2L102.8 528.8L104 531.4L105.3 534L106.8 536.6L108.4 539.2Z" fill="#4000c0" stroke="#4000c0"/>
<path d="M124.6 540.8L126.7 540.7L128.7 540.6L130.8 540.6L132.9 540.5L135 540.4L137.1 540.3L139.2 540.3L138.6 537.8L138.1 535.2L137.6 532.7L137.1 530.2L136.8 527.7L136.4 525.2L136.1 522.6L133.6 522.7L131 522.7L128.5 522.7L126 522.8L123.5 522.8L120.9 522.9L118.4 523L119 525.5L119.7 528.1L120.5 530.7L121.4 533.2L122.4 535.8L123.4 538.3Z" fill="#00f0ff" stroke="#00f0ff"/>
<path d="M139.2 540.3L141.3 540.2L143.4 540.2L145.5 540.2L147.6 540.1L149.6 540.1L151.7 540.1L153.8 540.1L153.8 537.6L153.8 535.1L153.8 532.6L153.8 530.1L153.8 527.5L153.8 525L153.8 522.5L151.3 522.5L148.8 522.5L146.2 522.5L143.7 522.6L141.2 522.6L138.6 522.6L136.1 522.6L136.4 525.2L136.8 527.7L137.1 530.2L137.6 532.7L138.1 535.2L138.6 537.8Z" fill="#fff000" stroke="#fff000"/>
<path d="M153.8 540.1L156 540.1L158.1 540.1L160.1 540.1L162.2 540.2L164.3 540.2L166.4 540.2L168.5 540.3L169.1 537.8L169.6 535.2L170.1 532.7L170.6 530.2L170.9 527.7L171.3 525.2L171.6 522.6L169.1 522.6L166.5 522.6L164 522.6L161.5 522.5L158.9 522.5L156.4 522.5L153.8 522.5L153.8 525L153.8 527.5L153.8 530.1L153.8 532.6L153.8 535.1L153.8 537.6Z" fill="#ff3000" stroke="#ff3000"/>
<path d="M168.5 540.3L170.6 540.3L172.7 540.4L174.8 540.5L176.9 540.6L179 540.6L181 540.7L183.1 540.8L184.3 538.3L185.3 535.8L186.3 533.2L187.2 530.7L188 528.1L188.7 525.5L189.3 523L186.8 522.9L184.2 522.8L181.7 522.8L179.2 522.7L176.7 522.7L174.1 522.7L171.6 522.6L171.3 525.2L170.9 527.7L170.6 530.2L170.1 532.7L169.6 535.2L169.1 537.8Z" fill="#ff9000" stroke="#ff9000"/>
<path d="M183.1 540.8L185.2 541L187.2 541.1L189.3 541.2L191.4 541.4L193.4 541.5L195.4 541.7L197.5 541.8L199.3 539.2L200.9 536.6L202.4 534L203.7 531.4L204.9 528.8L206 526.2L207 523.5L204.4 523.4L201.9 523.3L199.4 523.3L196.9 523.2L194.4 523.1L191.8 523L189.3 523L188.7 525.5L188 528.1L187.2 530.7L186.3 533.2L185.3 535.8L184.3 538.3Z" fill="#00ff20" stroke="#00ff20"/>
<path d="M197.5 541.8L199.5 542L201.5 542.2L203.5 542.4L205.5 542.6L207.5 542.8L209.5 543L211.5 543.2L213.9 540.6L216.2 537.9L218.2 535.3L220 532.6L221.7 529.9L223.2 527.1L224.5 524.4L222 524.2L219.5 524.1L217 524L214.5 523.9L212 523.7L209.5 523.6L207 523.5L206 526.2L204.9 528.8L203.7 531.4L202.4 534L200.9 536.6L199.3 539.2Z" fill="#0040ff" stroke="#0040ff"/>
<path d="M211.5 543.2L213.5 543.5L215.4 543.7L217.3 544L219.3 544.2L221.2 544.5L223.1 544.8L225 545.1L228.1 542.4L231 539.7L233.7 536.9L236.1 534.1L238.2 531.3L240.2 528.4L241.9 525.5L239.4 525.4L236.9 525.2L234.5 525L232 524.8L229.5 524.7L227 524.5L224.5 524.4L223.2 527.1L221.7 529.9L220 532.6L218.2 535.3L216.2 537.9L213.9 540.6Z" fill="#0c0410" stroke="#0c0410"/>
<path d="M119.1 560.6L120.1 560.4L121.2 560.3L122.3 560.1L123.3 559.9L124.4 559.7L125.5 559.6L126.6 559.4L127.7 559.3L128.9 559.1L130 559L131.2 558.9L132.3 558.7L133.5 558.6L134.6 558.5L135.8 558.4L133.8 555.9L132 553.4L130.3 550.9L128.7 548.4L127.2 545.9L125.9 543.4L124.6 540.8L122.7 541L120.7 541.1L118.8 541.2L116.9 541.3L115 541.4L113.1 541.6L111.2 541.7L109.3 541.9L107.4 542.1L105.5 542.2L103.6 542.4L101.8 542.6L99.9 542.8L98.1 543L96.2 543.2L98.8 545.8L101.7 548.4L104.7 550.9L108 553.4L111.5 555.9L115.2 558.3Z" fill="#200028" stroke="#200028"/>
<path d="M135.8 558.4L137 558.3L138.2 558.2L139.3 558.1L140.5 558.1L141.7 558L142.9 557.9L144.1 557.9L145.3 557.8L146.6 557.8L147.8 557.8L149 557.7L150.2 557.7L151.4 557.7L152.6 557.7L153.8 557.7L153.8 555.2L153.8 552.7L153.8 550.1L153.8 547.6L153.8 545.1L153.8 542.6L153.8 540.1L151.9 540.1L149.9 540.1L148 540.1L146 540.2L144.1 540.2L142.1 540.2L140.1 540.3L138.2 540.3L136.2 540.4L134.3 540.4L132.3 540.5L130.4 540.6L128.5 540.7L126.5 540.8L124.6 540.8L125.9 543.4L127.2 545.9L128.7 548.4L130.3 550.9L132 553.4L133.8 555.9Z" fill="#00c0ff" stroke="#00c0ff"/>
<path d="M153.8 557.7L155.1 557.7L156.3 557.7L157.5 557.7L158.7 557.7L159.9 557.8L161.1 557.8L162.4 557.8L163.6 557.9L164.8 557.9L166 558L167.2 558.1L168.4 558.1L169.5 558.2L170.7 558.3L171.9 558.4L173.9 555.9L175.7 553.4L177.4 550.9L179 548.4L180.5 545.9L181.8 543.4L183.1 540.8L181.2 540.8L179.2 540.7L177.3 540.6L175.4 540.5L173.4 540.4L171.5 540.4L169.5 540.3L167.6 540.3L165.6 540.2L163.6 540.2L161.7 540.2L159.7 540.1L157.8 540.1L155.8 540.1L153.8 540.1L153.8 542.6L153.8 545.1L153.8 547.6L153.8 550.1L153.8 552.7L153.8 555.2Z" fill="#00ff60" stroke="#00ff60"/>
<path d="M171.9 558.4L173.1 558.5L174.2 558.6L175.4 558.7L176.5 558.9L177.7 559L178.8 559.1L180 559.3L181.1 559.4L182.2 559.6L183.3 559.7L184.4 559.9L185.4 560.1L186.5 560.3L187.6 560.4L188.6 560.6L192.5 558.3L196.2 555.9L199.7 553.4L203 550.9L206 548.4L208.9 545.8L211.5 543.2L209.6 543L207.8 542.8L205.9 542.6L204.1 542.4L202.2 542.2L200.3 542.1L198.4 541.9L196.5 541.7L194.6 541.6L192.7 541.4L190.8 541.3L188.9 541.2L187 541.1L185 541L183.1 540.8L181.8 543.4L180.5 545.9L179 548.4L177.4 550.9L175.7 553.4L173.9 555.9Z" fill="#0060ff" stroke="#0060ff"/>
<path d="M153.8 575.2L153.8 575.2L153.8 575.2L153.8 575.2L153.8 575.2L153.8 575.2L153.8 575.2L153.8 575.2L153.8 575.2L153.8 575.2L153.8 575.2L153.8 575.2L153.8 575.2L153.8 575.2L153.8 575.2L153.8 575.2L153.8 575.2L153.8 575.2L153.8 575.2L153.8 575.2L153.8 575.2L153.8 575.2L153.8 575.2L153.8 575.2L153.8 575.2L153.8 575.2L153.8 575.2L153.8 575.2L153.8 575.2L153.8 575.2L153.8 575.2L153.8 572.7L153.8 570.2L153.8 567.7L153.8 565.2L153.8 562.7L153.8 560.2L153.8 557.7L152.6 557.7L151.4 557.7L150.2 557.7L149 557.7L147.8 557.8L146.6 557.8L145.3 557.8L144.1 557.9L142.9 557.9L141.7 558L140.5 558.1L139.3 558.1L138.2 558.2L137 558.3L135.8 558.4L134.6 558.5L133.5 558.6L132.3 558.7L131.2 558.9L130 559L128.9 559.1L127.7 559.3L126.6 559.4L125.5 559.6L124.4 559.7L123.3 559.9L122.3 560.1L121.2 560.3L120.1 560.4L119.1 560.6L123.3 563L127.7 565.2L132.4 567.4L137.3 569.5L142.6 571.5L148.1 573.4Z" fill="#480090" stroke="#480090"/>
<path d="M153.8 575.2L153.8 575.2L153.8 575.2L153.8 575.2L153.8 575.2L153.8 575.2L153.8 575.2L153.8 575.2L153.8 575.2L153.8 575.2L153.8 575.2L153.8 575.2L153.8 575.2L153.8 575.2L153.8 575.2L153.8 575.2L153.8 575.2L153.8 575.2L153.8 575.2L153.8 575.2L153.8 575.2L153.8 575.2L153.8 575.2L153.8 575.2L153.8 575.2L153.8 575.2L153.8 575.2L153.8 575.2L153.8 575.2L153.8 575.2L153.8 575.2L159.6 573.4L165.1 571.5L170.4 569.5L175.3 567.4L180 565.2L184.4 563L188.6 560.6L187.6 560.4L186.5 560.3L185.4 560.1L184.4 559.9L183.3 559.7L182.2 559.6L181.1 559.4L180 559.3L178.8 559.1L177.7 559L176.5 558.9L175.4 558.7L174.2 558.6L173.1 558.5L171.9 558.4L170.7 558.3L169.5 558.2L168.4 558.1L167.2 558.1L166 558L164.8 557.9L163.6 557.9L162.4 557.8L161.1 557.8L159.9 557.8L158.7 557.7L157.5 557.7L156.3 557.7L155.1 557.7L153.8 557.7L153.8 560.2L153.8 562.7L153.8 565.2L153.8 567.7L153.8 570.2L153.8 572.7Z" fill="#4000c0" stroke="#4000c0"/>
</g><use href="#cc"/>
<use href="#grid" x="153.8" y="504.9"/>
<g class="lab"><text x="4.1" y="505.8">0</text><text x="22.8" y="505.8">22.50</text><text x="41.5" y="505.8">45</text><text x="60.3" y="505.8">67.50</text><text x="79" y="505.8">90</text><text x="97.7" y="505.8">112.50</text><text x="116.4" y="505.8">135</text><text x="135.1" y="505.8">157.50</text><text x="153.8" y="505.8">180</text><text x="172.6" y="505.8">202.50</text><text x="191.3" y="505.8">225</text><text x="210" y="505.8">247.50</text><text x="228.7" y="505.8">270</text><text x="247.4" y="505.8">292.50</text><text x="266.2" y="505.8">315</text><text x="284.9" y="505.8">337.50</text><text x="96.5" y="441.3">67.50</text><text x="48" y="456.5">45</text><text x="15.5" y="479.3">22.50</text><text x="15.5" y="533.2">−22.50</text><text x="48" y="556">−45</text><text x="96.5" y="571.2">−67.50</text><text x="153.8" y="436.7" style="font-size:4.3px">90</text><text x="153.8" y="574.9" style="font-size:4.3px">−90</text></g>
<path d="M153.2 504.1l2.2 1.6l-1.5 0.2l-0.5 1.3z" fill="#303030" opacity="0.8"/>
<rect x="310.7" y="434.2" width="8.3" height="141" fill="url(#cb)" stroke="#222" stroke-width="0.4"/>
<text x="321.9" y="439.3" class="cbl">10<tspan dy="-2.6" font-size="4.6">8</tspan></text>
<text x="321.9" y="473.4" class="cbl">10<tspan dy="-2.6" font-size="4.6">7</tspan></text>
<text x="321.9" y="507.5" class="cbl">10<tspan dy="-2.6" font-size="4.6">6</tspan></text>
<text x="321.9" y="541.5" class="cbl">10<tspan dy="-2.6" font-size="4.6">5</tspan></text>
<text x="321.9" y="575.6" class="cbl">10<tspan dy="-2.6" font-size="4.6">4</tspan></text>
<text transform="translate(343 506.3) rotate(-90)" class="efl">EFlux</text>
<text transform="translate(309.6 574.6) rotate(-90)" class="stamp" textLength="47" lengthAdjust="spacing">Mon Feb  1 14:58:18 2021</text>
<text x="360.1" y="428.5" class="ttl">d) 9215 eV/q ions, GSE longitudes = [134,135]<tspan font-size="7.5" dy="-0.6">°</tspan></text>
<rect x="358.9" y="434.2" width="305.6" height="141" fill="#000"/>
<g id="cd" stroke-width="0.45" stroke-linejoin="round">
<path d="M511.9 452.2L513.1 452.2L514.3 452.2L515.6 452.2L516.8 452.2L518 452.1L519.2 452.1L520.4 452.1L521.6 452L522.8 452L524 451.9L525.2 451.8L526.4 451.8L527.6 451.7L528.8 451.6L530 451.5L531.1 451.4L532.3 451.3L533.4 451.2L534.6 451L535.7 450.9L536.9 450.8L538 450.6L539.1 450.5L540.2 450.3L541.3 450.2L542.4 450L543.5 449.8L544.6 449.6L545.6 449.5L546.6 449.3L542.5 446.9L538 444.7L533.4 442.5L528.4 440.4L523.2 438.4L517.7 436.5L511.9 434.6L511.9 434.6L511.9 434.6L511.9 434.6L511.9 434.6L511.9 434.6L511.9 434.6L511.9 434.6L511.9 434.6L511.9 434.6L511.9 434.6L511.9 434.6L511.9 434.6L511.9 434.6L511.9 434.6L511.9 434.6L511.9 434.6L511.9 434.6L511.9 434.6L511.9 434.6L511.9 434.6L511.9 434.6L511.9 434.6L511.9 434.6L511.9 434.6L511.9 434.6L511.9 434.6L511.9 434.6L511.9 434.6L511.9 434.6L511.9 434.6L511.9 437.2L511.9 439.7L511.9 442.2L511.9 444.7L511.9 447.2L511.9 449.7Z" fill="#4000d0" stroke="#4000d0"/>
<path d="M482.6 469.1L484.6 469.1L486.5 469.2L488.4 469.3L490.4 469.4L492.3 469.5L494.3 469.5L496.2 469.6L498.2 469.6L500.1 469.7L502.1 469.7L504.1 469.7L506 469.8L508 469.8L509.9 469.8L511.9 469.8L511.9 467.3L511.9 464.8L511.9 462.3L511.9 459.8L511.9 457.2L511.9 454.7L511.9 452.2L510.7 452.2L509.5 452.2L508.2 452.2L507 452.2L505.8 452.1L504.6 452.1L503.4 452.1L502.2 452L501 452L499.8 451.9L498.6 451.8L497.4 451.8L496.2 451.7L495 451.6L493.8 451.5L491.9 454L490.1 456.5L488.3 459L486.8 461.5L485.3 464L483.9 466.5Z" fill="#00a0ff" stroke="#00a0ff"/>
<path d="M511.9 469.8L513.9 469.8L515.8 469.8L517.8 469.8L519.7 469.7L521.7 469.7L523.7 469.7L525.6 469.6L527.6 469.6L529.5 469.5L531.5 469.5L533.4 469.4L535.4 469.3L537.3 469.2L539.2 469.1L541.2 469.1L539.9 466.5L538.5 464L537 461.5L535.5 459L533.7 456.5L531.9 454L530 451.5L528.8 451.6L527.6 451.7L526.4 451.8L525.2 451.8L524 451.9L522.8 452L521.6 452L520.4 452.1L519.2 452.1L518 452.1L516.8 452.2L515.6 452.2L514.3 452.2L513.1 452.2L511.9 452.2L511.9 454.7L511.9 457.2L511.9 459.8L511.9 462.3L511.9 464.8L511.9 467.3Z" fill="#00ffa0" stroke="#00ffa0"/>
<path d="M541.2 469.1L543.1 468.9L545 468.8L546.9 468.7L548.9 468.6L550.8 468.5L552.7 468.3L554.6 468.2L556.5 468L558.4 467.8L560.2 467.7L562.1 467.5L564 467.3L565.8 467.1L567.7 466.9L569.5 466.7L566.9 464.1L564.1 461.5L561 459L557.8 456.5L554.3 454L550.6 451.6L546.6 449.3L545.6 449.5L544.6 449.6L543.5 449.8L542.4 450L541.3 450.2L540.2 450.3L539.1 450.5L538 450.6L536.9 450.8L535.7 450.9L534.6 451L533.4 451.2L532.3 451.3L531.1 451.4L530 451.5L531.9 454L533.7 456.5L535.5 459L537 461.5L538.5 464L539.9 466.5Z" fill="#0060ff" stroke="#0060ff"/>
<path d="M458.8 486.4L461.3 486.5L463.8 486.6L466.4 486.6L468.9 486.7L471.4 486.8L473.9 486.9L476.4 486.9L477.1 484.4L477.8 481.8L478.6 479.2L479.4 476.7L480.4 474.1L481.5 471.6L482.6 469.1L480.6 468.9L478.5 468.8L476.4 468.7L474.4 468.5L472.3 468.4L470.3 468.2L468.3 468.1L466.5 470.7L464.9 473.3L463.4 475.9L462 478.5L460.8 481.1L459.7 483.7Z" fill="#0020ff" stroke="#0020ff"/>
<path d="M476.4 486.9L479 487L481.5 487.1L484 487.1L486.6 487.2L489.1 487.2L491.6 487.2L494.2 487.3L494.5 484.7L494.8 482.2L495.2 479.7L495.6 477.2L496.1 474.7L496.6 472.1L497.2 469.6L495.1 469.6L493 469.5L490.9 469.4L488.9 469.3L486.8 469.3L484.7 469.2L482.6 469.1L481.5 471.6L480.4 474.1L479.4 476.7L478.6 479.2L477.8 481.8L477.1 484.4Z" fill="#00ffc0" stroke="#00ffc0"/>
<path d="M494.2 487.3L496.7 487.3L499.2 487.3L501.8 487.3L504.3 487.4L506.8 487.4L509.4 487.4L511.9 487.4L511.9 484.9L511.9 482.4L511.9 479.8L511.9 477.3L511.9 474.8L511.9 472.3L511.9 469.8L509.8 469.8L507.7 469.8L505.6 469.8L503.5 469.7L501.4 469.7L499.3 469.7L497.2 469.6L496.6 472.1L496.1 474.7L495.6 477.2L495.2 479.7L494.8 482.2L494.5 484.7Z" fill="#20ff00" stroke="#20ff00"/>
<path d="M511.9 487.4L514.4 487.4L517 487.4L519.5 487.4L522 487.3L524.6 487.3L527.1 487.3L529.6 487.3L529.3 484.7L529 482.2L528.6 479.7L528.2 477.2L527.7 474.7L527.2 472.1L526.6 469.6L524.5 469.7L522.4 469.7L520.3 469.7L518.2 469.8L516.1 469.8L514 469.8L511.9 469.8L511.9 472.3L511.9 474.8L511.9 477.3L511.9 479.8L511.9 482.4L511.9 484.9Z" fill="#d0ff00" stroke="#d0ff00"/>
<path d="M529.6 487.3L532.2 487.2L534.7 487.2L537.2 487.2L539.8 487.1L542.3 487.1L544.8 487L547.4 486.9L546.7 484.4L546 481.8L545.2 479.2L544.4 476.7L543.4 474.1L542.3 471.6L541.2 469.1L539.1 469.2L537 469.3L534.9 469.3L532.9 469.4L530.8 469.5L528.7 469.6L526.6 469.6L527.2 472.1L527.7 474.7L528.2 477.2L528.6 479.7L529 482.2L529.3 484.7Z" fill="#a0ff00" stroke="#a0ff00"/>
<path d="M547.4 486.9L549.9 486.9L552.4 486.8L554.9 486.7L557.4 486.6L560 486.6L562.5 486.5L565 486.4L564.1 483.7L563 481.1L561.8 478.5L560.4 475.9L558.9 473.3L557.3 470.7L555.5 468.1L553.5 468.2L551.5 468.4L549.4 468.5L547.4 468.7L545.3 468.8L543.2 468.9L541.2 469.1L542.3 471.6L543.4 474.1L544.4 476.7L545.2 479.2L546 481.8L546.7 484.4Z" fill="#00ff20" stroke="#00ff20"/>
<path d="M565 486.4L567.5 486.3L570 486.2L572.5 486L575 485.9L577.6 485.8L580.1 485.7L582.6 485.5L581.2 482.8L579.8 480L578.1 477.3L576.2 474.6L574.2 472L572 469.3L569.5 466.7L567.6 466.9L565.6 467.1L563.6 467.3L561.6 467.5L559.6 467.7L557.6 467.9L555.5 468.1L557.3 470.7L558.9 473.3L560.4 475.9L561.8 478.5L563 481.1L564.1 483.7Z" fill="#00a0ff" stroke="#00a0ff"/>
<path d="M455.7 504.9L458.4 504.9L461.1 504.9L463.8 504.9L466.4 504.9L469.1 504.9L471.8 504.9L474.5 504.9L474.5 502.4L474.6 499.8L474.8 497.2L475.1 494.6L475.5 492.1L475.9 489.5L476.4 486.9L473.9 486.9L471.4 486.8L468.9 486.7L466.4 486.6L463.8 486.6L461.3 486.5L458.8 486.4L458 489L457.3 491.7L456.7 494.3L456.3 497L456 499.6L455.8 502.3Z" fill="#0010ff" stroke="#0010ff"/>
<path d="M474.5 504.9L477.1 504.9L479.8 504.9L482.5 504.9L485.2 504.9L487.8 504.9L490.5 504.9L493.2 504.9L493.2 502.4L493.3 499.9L493.4 497.4L493.5 494.8L493.7 492.3L493.9 489.8L494.2 487.3L491.6 487.2L489.1 487.2L486.6 487.2L484 487.1L481.5 487.1L479 487L476.4 486.9L475.9 489.5L475.5 492.1L475.1 494.6L474.8 497.2L474.6 499.8L474.5 502.4Z" fill="#00ff80" stroke="#00ff80"/>
<path d="M493.2 504.9L495.9 504.9L498.5 504.9L501.2 504.9L503.9 504.9L506.6 504.9L509.2 504.9L511.9 504.9L511.9 502.4L511.9 499.9L511.9 497.4L511.9 494.9L511.9 492.4L511.9 489.9L511.9 487.4L509.4 487.4L506.8 487.4L504.3 487.4L501.8 487.3L499.2 487.3L496.7 487.3L494.2 487.3L493.9 489.8L493.7 492.3L493.5 494.8L493.4 497.4L493.3 499.9L493.2 502.4Z" fill="#e8ff00" stroke="#e8ff00"/>
<path d="M511.9 504.9L514.6 504.9L517.2 504.9L519.9 504.9L522.6 504.9L525.3 504.9L527.9 504.9L530.6 504.9L530.6 502.4L530.5 499.9L530.4 497.4L530.3 494.8L530.1 492.3L529.9 489.8L529.6 487.3L527.1 487.3L524.6 487.3L522 487.3L519.5 487.4L517 487.4L514.4 487.4L511.9 487.4L511.9 489.9L511.9 492.4L511.9 494.9L511.9 497.4L511.9 499.9L511.9 502.4Z" fill="#ff7000" stroke="#ff7000"/>
<path d="M530.6 504.9L533.3 504.9L536 504.9L538.6 504.9L541.3 504.9L544 504.9L546.7 504.9L549.3 504.9L549.3 502.4L549.2 499.8L549 497.2L548.7 494.6L548.3 492.1L547.9 489.5L547.4 486.9L544.8 487L542.3 487.1L539.8 487.1L537.2 487.2L534.7 487.2L532.2 487.2L529.6 487.3L529.9 489.8L530.1 492.3L530.3 494.8L530.4 497.4L530.5 499.9L530.6 502.4Z" fill="#ffb000" stroke="#ffb000"/>
<path d="M549.3 504.9L552 504.9L554.7 504.9L557.4 504.9L560 504.9L562.7 504.9L565.4 504.9L568.1 504.9L568 502.3L567.8 499.6L567.5 497L567.1 494.3L566.5 491.7L565.8 489L565 486.4L562.5 486.5L560 486.6L557.4 486.6L554.9 486.7L552.4 486.8L549.9 486.9L547.4 486.9L547.9 489.5L548.3 492.1L548.7 494.6L549 497.2L549.2 499.8L549.3 502.4Z" fill="#a0ff00" stroke="#a0ff00"/>
<path d="M568.1 504.9L570.7 504.9L573.4 504.9L576.1 504.9L578.8 504.9L581.4 504.9L584.1 504.9L586.8 504.9L586.7 502.2L586.4 499.4L586 496.6L585.4 493.8L584.6 491L583.7 488.3L582.6 485.5L580.1 485.7L577.6 485.8L575 485.9L572.5 486L570 486.2L567.5 486.3L565 486.4L565.8 489L566.5 491.7L567.1 494.3L567.5 497L567.8 499.6L568 502.3Z" fill="#00e0ff" stroke="#00e0ff"/>
<path d="M458.8 523.5L461.3 523.4L463.8 523.3L466.4 523.3L468.9 523.2L471.4 523.1L473.9 523L476.4 523L475.9 520.4L475.5 517.8L475.1 515.3L474.8 512.7L474.6 510.1L474.5 507.5L474.5 504.9L471.8 504.9L469.1 504.9L466.4 504.9L463.8 504.9L461.1 504.9L458.4 504.9L455.7 504.9L455.8 507.6L456 510.3L456.3 512.9L456.7 515.6L457.3 518.2L458 520.9Z" fill="#0020ff" stroke="#0020ff"/>
<path d="M476.4 523L479 522.9L481.5 522.8L484 522.8L486.6 522.7L489.1 522.7L491.6 522.7L494.2 522.6L493.9 520.1L493.7 517.6L493.5 515.1L493.4 512.5L493.3 510L493.2 507.5L493.2 504.9L490.5 504.9L487.8 504.9L485.2 504.9L482.5 504.9L479.8 504.9L477.1 504.9L474.5 504.9L474.5 507.5L474.6 510.1L474.8 512.7L475.1 515.3L475.5 517.8L475.9 520.4Z" fill="#00ff80" stroke="#00ff80"/>
<path d="M494.2 522.6L496.7 522.6L499.2 522.6L501.8 522.6L504.3 522.5L506.8 522.5L509.4 522.5L511.9 522.5L511.9 520L511.9 517.5L511.9 515L511.9 512.5L511.9 510L511.9 507.5L511.9 504.9L509.2 504.9L506.6 504.9L503.9 504.9L501.2 504.9L498.5 504.9L495.9 504.9L493.2 504.9L493.2 507.5L493.3 510L493.4 512.5L493.5 515.1L493.7 517.6L493.9 520.1Z" fill="#ffe800" stroke="#ffe800"/>
<path d="M511.9 522.5L514.4 522.5L517 522.5L519.5 522.5L522 522.6L524.6 522.6L527.1 522.6L529.6 522.6L529.9 520.1L530.1 517.6L530.3 515.1L530.4 512.5L530.5 510L530.6 507.5L530.6 504.9L527.9 504.9L525.3 504.9L522.6 504.9L519.9 504.9L517.2 504.9L514.6 504.9L511.9 504.9L511.9 507.5L511.9 510L511.9 512.5L511.9 515L511.9 517.5L511.9 520Z" fill="#ff0000" stroke="#ff0000"/>
<path d="M529.6 522.6L532.2 522.7L534.7 522.7L537.2 522.7L539.8 522.8L542.3 522.8L544.8 522.9L547.4 523L547.9 520.4L548.3 517.8L548.7 515.3L549 512.7L549.2 510.1L549.3 507.5L549.3 504.9L546.7 504.9L544 504.9L541.3 504.9L538.6 504.9L536 504.9L533.3 504.9L530.6 504.9L530.6 507.5L530.5 510L530.4 512.5L530.3 515.1L530.1 517.6L529.9 520.1Z" fill="#ff5000" stroke="#ff5000"/>
<path d="M547.4 523L549.9 523L552.4 523.1L554.9 523.2L557.4 523.3L560 523.3L562.5 523.4L565 523.5L565.8 520.9L566.5 518.2L567.1 515.6L567.5 512.9L567.8 510.3L568 507.6L568.1 504.9L565.4 504.9L562.7 504.9L560 504.9L557.4 504.9L554.7 504.9L552 504.9L549.3 504.9L549.3 507.5L549.2 510.1L549 512.7L548.7 515.3L548.3 517.8L547.9 520.4Z" fill="#c0ff00" stroke="#c0ff00"/>
<path d="M565 523.5L567.5 523.6L570 523.7L572.5 523.9L575 524L577.6 524.1L580.1 524.2L582.6 524.4L583.7 521.6L584.6 518.9L585.4 516.1L586 513.3L586.4 510.5L586.7 507.7L586.8 504.9L584.1 504.9L581.4 504.9L578.8 504.9L576.1 504.9L573.4 504.9L570.7 504.9L568.1 504.9L568 507.6L567.8 510.3L567.5 512.9L567.1 515.6L566.5 518.2L565.8 520.9Z" fill="#00c0ff" stroke="#00c0ff"/>
<path d="M468.3 541.8L470.3 541.7L472.3 541.5L474.4 541.4L476.4 541.2L478.5 541.1L480.6 541L482.6 540.8L481.5 538.3L480.4 535.8L479.4 533.2L478.6 530.7L477.8 528.1L477.1 525.5L476.4 523L473.9 523L471.4 523.1L468.9 523.2L466.4 523.3L463.8 523.3L461.3 523.4L458.8 523.5L459.7 526.2L460.8 528.8L462 531.4L463.4 534L464.9 536.6L466.5 539.2Z" fill="#2000e0" stroke="#2000e0"/>
<path d="M482.6 540.8L484.7 540.7L486.8 540.6L488.9 540.6L490.9 540.5L493 540.4L495.1 540.3L497.2 540.3L496.6 537.8L496.1 535.2L495.6 532.7L495.2 530.2L494.8 527.7L494.5 525.2L494.2 522.6L491.6 522.7L489.1 522.7L486.6 522.7L484 522.8L481.5 522.8L479 522.9L476.4 523L477.1 525.5L477.8 528.1L478.6 530.7L479.4 533.2L480.4 535.8L481.5 538.3Z" fill="#00ffa0" stroke="#00ffa0"/>
<path d="M497.2 540.3L499.3 540.2L501.4 540.2L503.5 540.2L505.6 540.1L507.7 540.1L509.8 540.1L511.9 540.1L511.9 537.6L511.9 535.1L511.9 532.6L511.9 530.1L511.9 527.5L511.9 525L511.9 522.5L509.4 522.5L506.8 522.5L504.3 522.5L501.8 522.6L499.2 522.6L496.7 522.6L494.2 522.6L494.5 525.2L494.8 527.7L495.2 530.2L495.6 532.7L496.1 535.2L496.6 537.8Z" fill="#c0ff00" stroke="#c0ff00"/>
<path d="M511.9 540.1L514 540.1L516.1 540.1L518.2 540.1L520.3 540.2L522.4 540.2L524.5 540.2L526.6 540.3L527.2 537.8L527.7 535.2L528.2 532.7L528.6 530.2L529 527.7L529.3 525.2L529.6 522.6L527.1 522.6L524.6 522.6L522 522.6L519.5 522.5L517 522.5L514.4 522.5L511.9 522.5L511.9 525L511.9 527.5L511.9 530.1L511.9 532.6L511.9 535.1L511.9 537.6Z" fill="#ffb000" stroke="#ffb000"/>
<path d="M526.6 540.3L528.7 540.3L530.8 540.4L532.9 540.5L534.9 540.6L537 540.6L539.1 540.7L541.2 540.8L542.3 538.3L543.4 535.8L544.4 533.2L545.2 530.7L546 528.1L546.7 525.5L547.4 523L544.8 522.9L542.3 522.8L539.8 522.8L537.2 522.7L534.7 522.7L532.2 522.7L529.6 522.6L529.3 525.2L529 527.7L528.6 530.2L528.2 532.7L527.7 535.2L527.2 537.8Z" fill="#ffe000" stroke="#ffe000"/>
<path d="M541.2 540.8L543.2 541L545.3 541.1L547.4 541.2L549.4 541.4L551.5 541.5L553.5 541.7L555.5 541.8L557.3 539.2L558.9 536.6L560.4 534L561.8 531.4L563 528.8L564.1 526.2L565 523.5L562.5 523.4L560 523.3L557.4 523.3L554.9 523.2L552.4 523.1L549.9 523L547.4 523L546.7 525.5L546 528.1L545.2 530.7L544.4 533.2L543.4 535.8L542.3 538.3Z" fill="#80ff00" stroke="#80ff00"/>
<path d="M555.5 541.8L557.6 542L559.6 542.2L561.6 542.4L563.6 542.6L565.6 542.8L567.6 543L569.5 543.2L572 540.6L574.2 537.9L576.2 535.3L578.1 532.6L579.8 529.9L581.2 527.1L582.6 524.4L580.1 524.2L577.6 524.1L575 524L572.5 523.9L570 523.7L567.5 523.6L565 523.5L564.1 526.2L563 528.8L561.8 531.4L560.4 534L558.9 536.6L557.3 539.2Z" fill="#00d0ff" stroke="#00d0ff"/>
<path d="M569.5 543.2L571.5 543.5L573.5 543.7L575.4 544L577.3 544.2L579.2 544.5L581.1 544.8L583 545.1L586.2 542.4L589.1 539.7L591.7 536.9L594.1 534.1L596.3 531.3L598.2 528.4L599.9 525.5L597.5 525.4L595 525.2L592.5 525L590 524.8L587.5 524.7L585 524.5L582.6 524.4L581.2 527.1L579.8 529.9L578.1 532.6L576.2 535.3L574.2 537.9L572 540.6Z" fill="#200028" stroke="#200028"/>
<path d="M477.2 560.6L478.2 560.4L479.2 560.3L480.3 560.1L481.4 559.9L482.5 559.7L483.6 559.6L484.7 559.4L485.8 559.3L486.9 559.1L488.1 559L489.2 558.9L490.4 558.7L491.5 558.6L492.7 558.5L493.8 558.4L491.9 555.9L490.1 553.4L488.3 550.9L486.8 548.4L485.3 545.9L483.9 543.4L482.6 540.8L480.7 541L478.8 541.1L476.9 541.2L474.9 541.3L473 541.4L471.1 541.6L469.2 541.7L467.3 541.9L465.4 542.1L463.6 542.2L461.7 542.4L459.8 542.6L458 542.8L456.1 543L454.3 543.2L456.9 545.8L459.7 548.4L462.8 550.9L466 553.4L469.5 555.9L473.2 558.3Z" fill="#4000c0" stroke="#4000c0"/>
<path d="M493.8 558.4L495 558.3L496.2 558.2L497.4 558.1L498.6 558.1L499.8 558L501 557.9L502.2 557.9L503.4 557.8L504.6 557.8L505.8 557.8L507 557.7L508.2 557.7L509.5 557.7L510.7 557.7L511.9 557.7L511.9 555.2L511.9 552.7L511.9 550.1L511.9 547.6L511.9 545.1L511.9 542.6L511.9 540.1L509.9 540.1L508 540.1L506 540.1L504.1 540.2L502.1 540.2L500.1 540.2L498.2 540.3L496.2 540.3L494.3 540.4L492.3 540.4L490.4 540.5L488.4 540.6L486.5 540.7L484.6 540.8L482.6 540.8L483.9 543.4L485.3 545.9L486.8 548.4L488.3 550.9L490.1 553.4L491.9 555.9Z" fill="#00e8ff" stroke="#00e8ff"/>
<path d="M511.9 557.7L513.1 557.7L514.3 557.7L515.6 557.7L516.8 557.7L518 557.8L519.2 557.8L520.4 557.8L521.6 557.9L522.8 557.9L524 558L525.2 558.1L526.4 558.1L527.6 558.2L528.8 558.3L530 558.4L531.9 555.9L533.7 553.4L535.5 550.9L537 548.4L538.5 545.9L539.9 543.4L541.2 540.8L539.2 540.8L537.3 540.7L535.4 540.6L533.4 540.5L531.5 540.4L529.5 540.4L527.6 540.3L525.6 540.3L523.7 540.2L521.7 540.2L519.7 540.2L517.8 540.1L515.8 540.1L513.9 540.1L511.9 540.1L511.9 542.6L511.9 545.1L511.9 547.6L511.9 550.1L511.9 552.7L511.9 555.2Z" fill="#00ff30" stroke="#00ff30"/>
<path d="M530 558.4L531.1 558.5L532.3 558.6L533.4 558.7L534.6 558.9L535.7 559L536.9 559.1L538 559.3L539.1 559.4L540.2 559.6L541.3 559.7L542.4 559.9L543.5 560.1L544.6 560.3L545.6 560.4L546.6 560.6L550.6 558.3L554.3 555.9L557.8 553.4L561 550.9L564.1 548.4L566.9 545.8L569.5 543.2L567.7 543L565.8 542.8L564 542.6L562.1 542.4L560.2 542.2L558.4 542.1L556.5 541.9L554.6 541.7L552.7 541.6L550.8 541.4L548.9 541.3L546.9 541.2L545 541.1L543.1 541L541.2 540.8L539.9 543.4L538.5 545.9L537 548.4L535.5 550.9L533.7 553.4L531.9 555.9Z" fill="#00e0ff" stroke="#00e0ff"/>
<path d="M511.9 575.2L511.9 575.2L511.9 575.2L511.9 575.2L511.9 575.2L511.9 575.2L511.9 575.2L511.9 575.2L511.9 575.2L511.9 575.2L511.9 575.2L511.9 575.2L511.9 575.2L511.9 575.2L511.9 575.2L511.9 575.2L511.9 575.2L511.9 575.2L511.9 575.2L511.9 575.2L511.9 575.2L511.9 575.2L511.9 575.2L511.9 575.2L511.9 575.2L511.9 575.2L511.9 575.2L511.9 575.2L511.9 575.2L511.9 575.2L511.9 575.2L511.9 572.7L511.9 570.2L511.9 567.7L511.9 565.2L511.9 562.7L511.9 560.2L511.9 557.7L510.7 557.7L509.5 557.7L508.2 557.7L507 557.7L505.8 557.8L504.6 557.8L503.4 557.8L502.2 557.9L501 557.9L499.8 558L498.6 558.1L497.4 558.1L496.2 558.2L495 558.3L493.8 558.4L492.7 558.5L491.5 558.6L490.4 558.7L489.2 558.9L488.1 559L486.9 559.1L485.8 559.3L484.7 559.4L483.6 559.6L482.5 559.7L481.4 559.9L480.3 560.1L479.2 560.3L478.2 560.4L477.2 560.6L481.3 563L485.8 565.2L490.4 567.4L495.4 569.5L500.6 571.5L506.1 573.4Z" fill="#1000f0" stroke="#1000f0"/>
<path d="M511.9 575.2L511.9 575.2L511.9 575.2L511.9 575.2L511.9 575.2L511.9 575.2L511.9 575.2L511.9 575.2L511.9 575.2L511.9 575.2L511.9 575.2L511.9 575.2L511.9 575.2L511.9 575.2L511.9 575.2L511.9 575.2L511.9 575.2L511.9 575.2L511.9 575.2L511.9 575.2L511.9 575.2L511.9 575.2L511.9 575.2L511.9 575.2L511.9 575.2L511.9 575.2L511.9 575.2L511.9 575.2L511.9 575.2L511.9 575.2L511.9 575.2L517.7 573.4L523.2 571.5L528.4 569.5L533.4 567.4L538 565.2L542.5 563L546.6 560.6L545.6 560.4L544.6 560.3L543.5 560.1L542.4 559.9L541.3 559.7L540.2 559.6L539.1 559.4L538 559.3L536.9 559.1L535.7 559L534.6 558.9L533.4 558.7L532.3 558.6L531.1 558.5L530 558.4L528.8 558.3L527.6 558.2L526.4 558.1L525.2 558.1L524 558L522.8 557.9L521.6 557.9L520.4 557.8L519.2 557.8L518 557.8L516.8 557.7L515.6 557.7L514.3 557.7L513.1 557.7L511.9 557.7L511.9 560.2L511.9 562.7L511.9 565.2L511.9 567.7L511.9 570.2L511.9 572.7Z" fill="#0020ff" stroke="#0020ff"/>
</g><use href="#cd"/>
<use href="#grid" x="511.9" y="504.9"/>
<g class="lab"><text x="362.2" y="505.8">0</text><text x="380.9" y="505.8">22.50</text><text x="399.6" y="505.8">45</text><text x="418.3" y="505.8">67.50</text><text x="437" y="505.8">90</text><text x="455.7" y="505.8">112.50</text><text x="474.5" y="505.8">135</text><text x="493.2" y="505.8">157.50</text><text x="511.9" y="505.8">180</text><text x="530.6" y="505.8">202.50</text><text x="549.3" y="505.8">225</text><text x="568.1" y="505.8">247.50</text><text x="586.8" y="505.8">270</text><text x="605.5" y="505.8">292.50</text><text x="624.2" y="505.8">315</text><text x="642.9" y="505.8">337.50</text><text x="454.6" y="441.3">67.50</text><text x="406" y="456.5">45</text><text x="373.5" y="479.3">22.50</text><text x="373.5" y="533.2">−22.50</text><text x="406" y="556">−45</text><text x="454.6" y="571.2">−67.50</text><text x="511.9" y="436.7" style="font-size:4.3px">90</text><text x="511.9" y="574.9" style="font-size:4.3px">−90</text></g>
<path d="M511.3 504.1l2.2 1.6l-1.5 0.2l-0.5 1.3z" fill="#303030" opacity="0.8"/>
<rect x="669.3" y="434.2" width="8.3" height="141" fill="url(#cb)" stroke="#222" stroke-width="0.4"/>
<text x="680.5" y="439.3" class="cbl">10<tspan dy="-2.6" font-size="4.6">6</tspan></text>
<text x="680.5" y="484.7" class="cbl">10<tspan dy="-2.6" font-size="4.6">5</tspan></text>
<text x="680.5" y="530.2" class="cbl">10<tspan dy="-2.6" font-size="4.6">4</tspan></text>
<text x="680.5" y="575.6" class="cbl">10<tspan dy="-2.6" font-size="4.6">3</tspan></text>
<text transform="translate(699.2 506.3) rotate(-90)" class="efl">EFlux</text>
<text transform="translate(667.5 574.6) rotate(-90)" class="stamp" textLength="47" lengthAdjust="spacing">Mon Feb  1 14:59:30 2021</text>
<text x="2.2" y="593.6" class="ttl">e) 777 eV/q ions, GSE longitudes = [178,179]<tspan font-size="7.5" dy="-0.6">°</tspan></text>
<rect x="1" y="598.9" width="305.6" height="141.6" fill="#000"/>
<g id="ce" stroke-width="0.45" stroke-linejoin="round">
<path d="M153.8 739.9L153.8 739.9L153.8 739.9L153.8 739.9L153.8 739.9L153.8 739.9L153.8 739.9L153.8 739.9L153.8 739.9L153.8 739.9L153.8 739.9L153.8 739.9L153.8 739.9L153.8 739.9L153.8 739.9L153.8 739.9L153.8 739.9L153.8 739.9L153.8 739.9L153.8 739.9L153.8 739.9L153.8 739.9L153.8 739.9L153.8 739.9L153.8 739.9L153.8 739.9L153.8 739.9L153.8 739.9L153.8 739.9L153.8 739.9L153.8 739.9L148.1 738.1L142.6 736.2L137.3 734.2L132.4 732.1L127.7 729.9L123.3 727.7L119.1 725.3L118.1 725.6L117.1 725.8L116.1 726L115.1 726.2L114.1 726.4L113.1 726.7L112.2 726.9L111.3 727.2L110.4 727.4L109.5 727.7L108.6 728L107.8 728.3L106.9 728.6L106.1 728.9L105.3 729.2L104.6 729.5L103.8 729.8L103.1 730.1L102.4 730.5L101.7 730.8L101.1 731.1L100.5 731.5L99.9 731.9L99.3 732.2L98.8 732.6L98.3 733L97.8 733.4L97.3 733.8L96.9 734.2L96.5 734.6L104.4 736L112.4 737.2L120.5 738.2L128.8 739L137.1 739.5L145.5 739.8Z" fill="#3800d0" stroke="#3800d0"/>
<path d="M153.8 739.9L153.8 739.9L153.8 739.9L153.8 739.9L153.8 739.9L153.8 739.9L153.8 739.9L153.8 739.9L153.8 739.9L153.8 739.9L153.8 739.9L153.8 739.9L153.8 739.9L153.8 739.9L153.8 739.9L153.8 739.9L153.8 739.9L153.8 739.9L153.8 739.9L153.8 739.9L153.8 739.9L153.8 739.9L153.8 739.9L153.8 739.9L153.8 739.9L153.8 739.9L153.8 739.9L153.8 739.9L153.8 739.9L153.8 739.9L153.8 739.9L153.8 737.4L153.8 734.9L153.8 732.4L153.8 729.9L153.8 727.4L153.8 724.9L153.8 722.4L152.6 722.4L151.4 722.4L150.2 722.4L149 722.4L147.8 722.5L146.6 722.5L145.3 722.5L144.1 722.6L142.9 722.6L141.7 722.7L140.5 722.8L139.3 722.8L138.2 722.9L137 723L135.8 723.1L134.6 723.2L133.5 723.3L132.3 723.4L131.2 723.6L130 723.7L128.9 723.8L127.7 724L126.6 724.1L125.5 724.3L124.4 724.4L123.3 724.6L122.3 724.8L121.2 725L120.1 725.1L119.1 725.3L123.3 727.7L127.7 729.9L132.4 732.1L137.3 734.2L142.6 736.2L148.1 738.1Z" fill="#3800d0" stroke="#3800d0"/>
<path d="M153.8 739.9L153.8 739.9L153.8 739.9L153.8 739.9L153.8 739.9L153.8 739.9L153.8 739.9L153.8 739.9L153.8 739.9L153.8 739.9L153.8 739.9L153.8 739.9L153.8 739.9L153.8 739.9L153.8 739.9L153.8 739.9L153.8 739.9L153.8 739.9L153.8 739.9L153.8 739.9L153.8 739.9L153.8 739.9L153.8 739.9L153.8 739.9L153.8 739.9L153.8 739.9L153.8 739.9L153.8 739.9L153.8 739.9L153.8 739.9L153.8 739.9L159.6 738.1L165.1 736.2L170.4 734.2L175.3 732.1L180 729.9L184.4 727.7L188.6 725.3L187.6 725.1L186.5 725L185.4 724.8L184.4 724.6L183.3 724.4L182.2 724.3L181.1 724.1L180 724L178.8 723.8L177.7 723.7L176.5 723.6L175.4 723.4L174.2 723.3L173.1 723.2L171.9 723.1L170.7 723L169.5 722.9L168.4 722.8L167.2 722.8L166 722.7L164.8 722.6L163.6 722.6L162.4 722.5L161.1 722.5L159.9 722.5L158.7 722.4L157.5 722.4L156.3 722.4L155.1 722.4L153.8 722.4L153.8 724.9L153.8 727.4L153.8 729.9L153.8 732.4L153.8 734.9L153.8 737.4Z" fill="#3800d0" stroke="#3800d0"/>
<path d="M153.8 739.9L153.8 739.9L153.8 739.9L153.8 739.9L153.8 739.9L153.8 739.9L153.8 739.9L153.8 739.9L153.8 739.9L153.8 739.9L153.8 739.9L153.8 739.9L153.8 739.9L153.8 739.9L153.8 739.9L153.8 739.9L153.8 739.9L153.8 739.9L153.8 739.9L153.8 739.9L153.8 739.9L153.8 739.9L153.8 739.9L153.8 739.9L153.8 739.9L153.8 739.9L153.8 739.9L153.8 739.9L153.8 739.9L153.8 739.9L153.8 739.9L162.2 739.8L170.6 739.5L178.9 739L187.2 738.2L195.3 737.2L203.3 736L211.2 734.6L210.8 734.2L210.4 733.8L209.9 733.4L209.4 733L208.9 732.6L208.4 732.2L207.8 731.9L207.2 731.5L206.6 731.1L206 730.8L205.3 730.5L204.6 730.1L203.9 729.8L203.1 729.5L202.4 729.2L201.6 728.9L200.8 728.6L199.9 728.3L199.1 728L198.2 727.7L197.3 727.4L196.4 727.2L195.5 726.9L194.6 726.7L193.6 726.4L192.6 726.2L191.6 726L190.6 725.8L189.6 725.6L188.6 725.3L184.4 727.7L180 729.9L175.3 732.1L170.4 734.2L165.1 736.2L159.6 738.1Z" fill="#3800d0" stroke="#3800d0"/>
<path d="M96.5 734.6L96.9 734.2L97.3 733.8L97.8 733.4L98.3 733L98.8 732.6L99.3 732.2L99.9 731.9L100.5 731.5L101.1 731.1L101.7 730.8L102.4 730.5L103.1 730.1L103.8 729.8L104.6 729.5L105.3 729.2L99.4 727.1L93.8 724.8L88.5 722.5L83.4 720.1L78.6 717.6L74.2 715L70 712.3L68.3 712.7L66.7 713L65.1 713.4L63.6 713.9L62 714.3L60.5 714.7L59 715.2L57.5 715.7L56 716.1L54.6 716.6L53.2 717.1L51.9 717.7L50.5 718.2L49.2 718.8L48 719.4L54.1 722.1L60.5 724.6L67.2 727L74.2 729.2L81.4 731.2L88.9 733Z" fill="#3800d0" stroke="#3800d0"/>
<path d="M105.3 729.2L106.1 728.9L106.9 728.6L107.8 728.3L108.6 728L109.5 727.7L110.4 727.4L111.3 727.2L112.2 726.9L113.1 726.7L114.1 726.4L115.1 726.2L116.1 726L117.1 725.8L118.1 725.6L119.1 725.3L115.2 723L111.5 720.6L108 718.1L104.7 715.6L101.7 713.1L98.8 710.5L96.2 707.9L94.4 708.1L92.6 708.4L90.7 708.6L88.9 708.9L87.1 709.1L85.4 709.4L83.6 709.7L81.8 710L80.1 710.3L78.4 710.6L76.7 710.9L75 711.2L73.3 711.6L71.6 711.9L70 712.3L74.2 715L78.6 717.6L83.4 720.1L88.5 722.5L93.8 724.8L99.4 727.1Z" fill="#3800d0" stroke="#3800d0"/>
<path d="M119.1 725.3L120.1 725.1L121.2 725L122.3 724.8L123.3 724.6L124.4 724.4L125.5 724.3L126.6 724.1L127.7 724L128.9 723.8L130 723.7L131.2 723.6L132.3 723.4L133.5 723.3L134.6 723.2L135.8 723.1L133.8 720.6L132 718.1L130.3 715.6L128.7 713.1L127.2 710.6L125.9 708.1L124.6 705.5L122.7 705.7L120.7 705.8L118.8 705.9L116.9 706L115 706.1L113.1 706.3L111.2 706.4L109.3 706.6L107.4 706.8L105.5 706.9L103.6 707.1L101.8 707.3L99.9 707.5L98.1 707.7L96.2 707.9L98.8 710.5L101.7 713.1L104.7 715.6L108 718.1L111.5 720.6L115.2 723Z" fill="#3800d0" stroke="#3800d0"/>
<path d="M135.8 723.1L137 723L138.2 722.9L139.3 722.8L140.5 722.8L141.7 722.7L142.9 722.6L144.1 722.6L145.3 722.5L146.6 722.5L147.8 722.5L149 722.4L150.2 722.4L151.4 722.4L152.6 722.4L153.8 722.4L153.8 719.9L153.8 717.4L153.8 714.8L153.8 712.3L153.8 709.8L153.8 707.3L153.8 704.8L151.9 704.8L149.9 704.8L148 704.8L146 704.9L144.1 704.9L142.1 704.9L140.1 705L138.2 705L136.2 705.1L134.3 705.1L132.3 705.2L130.4 705.3L128.5 705.4L126.5 705.5L124.6 705.5L125.9 708.1L127.2 710.6L128.7 713.1L130.3 715.6L132 718.1L133.8 720.6Z" fill="#3800d0" stroke="#3800d0"/>
<path d="M153.8 722.4L155.1 722.4L156.3 722.4L157.5 722.4L158.7 722.4L159.9 722.5L161.1 722.5L162.4 722.5L163.6 722.6L164.8 722.6L166 722.7L167.2 722.8L168.4 722.8L169.5 722.9L170.7 723L171.9 723.1L173.9 720.6L175.7 718.1L177.4 715.6L179 713.1L180.5 710.6L181.8 708.1L183.1 705.5L181.2 705.5L179.2 705.4L177.3 705.3L175.4 705.2L173.4 705.1L171.5 705.1L169.5 705L167.6 705L165.6 704.9L163.6 704.9L161.7 704.9L159.7 704.8L157.8 704.8L155.8 704.8L153.8 704.8L153.8 707.3L153.8 709.8L153.8 712.3L153.8 714.8L153.8 717.4L153.8 719.9Z" fill="#3800d0" stroke="#3800d0"/>
<path d="M171.9 723.1L173.1 723.2L174.2 723.3L175.4 723.4L176.5 723.6L177.7 723.7L178.8 723.8L180 724L181.1 724.1L182.2 724.3L183.3 724.4L184.4 724.6L185.4 724.8L186.5 725L187.6 725.1L188.6 725.3L192.5 723L196.2 720.6L199.7 718.1L203 715.6L206 713.1L208.9 710.5L211.5 707.9L209.6 707.7L207.8 707.5L205.9 707.3L204.1 707.1L202.2 706.9L200.3 706.8L198.4 706.6L196.5 706.4L194.6 706.3L192.7 706.1L190.8 706L188.9 705.9L187 705.8L185 705.7L183.1 705.5L181.8 708.1L180.5 710.6L179 713.1L177.4 715.6L175.7 718.1L173.9 720.6Z" fill="#4000c0" stroke="#4000c0"/>
<path d="M188.6 725.3L189.6 725.6L190.6 725.8L191.6 726L192.6 726.2L193.6 726.4L194.6 726.7L195.5 726.9L196.4 727.2L197.3 727.4L198.2 727.7L199.1 728L199.9 728.3L200.8 728.6L201.6 728.9L202.4 729.2L208.3 727.1L213.9 724.8L219.2 722.5L224.3 720.1L229.1 717.6L233.5 715L237.7 712.3L236.1 711.9L234.4 711.6L232.7 711.2L231 710.9L229.3 710.6L227.6 710.3L225.9 710L224.1 709.7L222.3 709.4L220.6 709.1L218.8 708.9L217 708.6L215.1 708.4L213.3 708.1L211.5 707.9L208.9 710.5L206 713.1L203 715.6L199.7 718.1L196.2 720.6L192.5 723Z" fill="#3800d0" stroke="#3800d0"/>
<path d="M202.4 729.2L203.1 729.5L203.9 729.8L204.6 730.1L205.3 730.5L206 730.8L206.6 731.1L207.2 731.5L207.8 731.9L208.4 732.2L208.9 732.6L209.4 733L209.9 733.4L210.4 733.8L210.8 734.2L211.2 734.6L218.8 733L226.3 731.2L233.5 729.2L240.5 727L247.2 724.6L253.6 722.1L259.7 719.4L258.5 718.8L257.2 718.2L255.8 717.7L254.5 717.1L253.1 716.6L251.7 716.1L250.2 715.7L248.7 715.2L247.2 714.7L245.7 714.3L244.1 713.9L242.6 713.4L241 713L239.4 712.7L237.7 712.3L233.5 715L229.1 717.6L224.3 720.1L219.2 722.5L213.9 724.8L208.3 727.1Z" fill="#3800d0" stroke="#3800d0"/>
<path d="M48 719.4L49.3 718.7L50.7 718.1L52.2 717.6L53.6 717L55.1 716.5L56.7 715.9L58.2 715.4L53.4 712.6L49 709.7L44.9 706.7L41.1 703.6L37.6 700.4L34.5 697.1L31.8 693.8L29.4 694.2L27.1 694.5L24.7 694.9L22.4 695.3L20.1 695.7L17.8 696.1L15.5 696.6L18.9 700.2L22.8 703.7L27.1 707.1L31.7 710.3L36.8 713.5L42.2 716.5Z" fill="#3000e4" stroke="#3000e4"/>
<path d="M58.2 715.4L59.8 714.9L61.5 714.4L63.1 714L64.8 713.5L66.5 713.1L68.2 712.7L70 712.3L66 709.5L62.4 706.7L59.1 703.8L56 700.9L53.3 697.9L50.8 694.9L48.6 691.8L46.2 692.1L43.8 692.3L41.4 692.6L39 692.9L36.6 693.2L34.2 693.5L31.8 693.8L34.5 697.1L37.6 700.4L41.1 703.6L44.9 706.7L49 709.7L53.4 712.6Z" fill="#3800d0" stroke="#3800d0"/>
<path d="M70 712.3L71.7 711.9L73.5 711.5L75.3 711.1L77.1 710.8L79 710.5L80.8 710.1L82.7 709.8L79.6 707.1L76.7 704.4L74 701.6L71.6 698.8L69.5 696L67.5 693.1L65.8 690.2L63.3 690.4L60.9 690.6L58.4 690.9L56 691.1L53.5 691.3L51.1 691.5L48.6 691.8L50.8 694.9L53.3 697.9L56 700.9L59.1 703.8L62.4 706.7L66 709.5Z" fill="#3800d0" stroke="#3800d0"/>
<path d="M82.7 709.8L84.6 709.5L86.5 709.2L88.4 708.9L90.4 708.7L92.3 708.4L94.2 708.2L96.2 707.9L93.8 705.3L91.5 702.6L89.5 700L87.7 697.3L86 694.6L84.5 691.8L83.2 689.1L80.7 689.2L78.2 689.4L75.7 689.5L73.2 689.7L70.8 689.9L68.3 690.1L65.8 690.2L67.5 693.1L69.5 696L71.6 698.8L74 701.6L76.7 704.4L79.6 707.1Z" fill="#3800d0" stroke="#3800d0"/>
<path d="M96.2 707.9L98.2 707.7L100.2 707.5L102.2 707.3L104.2 707.1L106.2 706.9L108.2 706.7L110.2 706.5L108.4 703.9L106.8 701.3L105.3 698.7L104 696.1L102.8 693.5L101.7 690.9L100.7 688.2L98.2 688.3L95.7 688.4L93.2 688.6L90.7 688.7L88.2 688.8L85.7 688.9L83.2 689.1L84.5 691.8L86 694.6L87.7 697.3L89.5 700L91.5 702.6L93.8 705.3Z" fill="#3800d0" stroke="#3800d0"/>
<path d="M110.2 706.5L112.3 706.4L114.3 706.2L116.3 706.1L118.4 705.9L120.5 705.8L122.5 705.7L124.6 705.5L123.4 703L122.4 700.5L121.4 697.9L120.5 695.4L119.7 692.8L119 690.2L118.4 687.7L115.9 687.7L113.3 687.8L110.8 687.9L108.3 688L105.8 688L103.3 688.1L100.7 688.2L101.7 690.9L102.8 693.5L104 696.1L105.3 698.7L106.8 701.3L108.4 703.9Z" fill="#3800d0" stroke="#3800d0"/>
<path d="M124.6 705.5L126.7 705.4L128.7 705.3L130.8 705.3L132.9 705.2L135 705.1L137.1 705L139.2 705L138.6 702.5L138.1 699.9L137.6 697.4L137.1 694.9L136.8 692.4L136.4 689.9L136.1 687.3L133.6 687.4L131 687.4L128.5 687.4L126 687.5L123.5 687.5L120.9 687.6L118.4 687.7L119 690.2L119.7 692.8L120.5 695.4L121.4 697.9L122.4 700.5L123.4 703Z" fill="#4800b0" stroke="#4800b0"/>
<path d="M139.2 705L141.3 704.9L143.4 704.9L145.5 704.9L147.6 704.8L149.6 704.8L151.7 704.8L153.8 704.8L153.8 702.3L153.8 699.8L153.8 697.3L153.8 694.8L153.8 692.2L153.8 689.7L153.8 687.2L151.3 687.2L148.8 687.2L146.2 687.2L143.7 687.3L141.2 687.3L138.6 687.3L136.1 687.3L136.4 689.9L136.8 692.4L137.1 694.9L137.6 697.4L138.1 699.9L138.6 702.5Z" fill="#3800d0" stroke="#3800d0"/>
<path d="M153.8 704.8L156 704.8L158.1 704.8L160.1 704.8L162.2 704.9L164.3 704.9L166.4 704.9L168.5 705L169.1 702.5L169.6 699.9L170.1 697.4L170.6 694.9L170.9 692.4L171.3 689.9L171.6 687.3L169.1 687.3L166.5 687.3L164 687.3L161.5 687.2L158.9 687.2L156.4 687.2L153.8 687.2L153.8 689.7L153.8 692.2L153.8 694.8L153.8 697.3L153.8 699.8L153.8 702.3Z" fill="#3800d0" stroke="#3800d0"/>
<path d="M168.5 705L170.6 705L172.7 705.1L174.8 705.2L176.9 705.3L179 705.3L181 705.4L183.1 705.5L184.3 703L185.3 700.5L186.3 697.9L187.2 695.4L188 692.8L188.7 690.2L189.3 687.7L186.8 687.6L184.2 687.5L181.7 687.5L179.2 687.4L176.7 687.4L174.1 687.4L171.6 687.3L171.3 689.9L170.9 692.4L170.6 694.9L170.1 697.4L169.6 699.9L169.1 702.5Z" fill="#3800d0" stroke="#3800d0"/>
<path d="M183.1 705.5L185.2 705.7L187.2 705.8L189.3 705.9L191.4 706.1L193.4 706.2L195.4 706.4L197.5 706.5L199.3 703.9L200.9 701.3L202.4 698.7L203.7 696.1L204.9 693.5L206 690.9L207 688.2L204.4 688.1L201.9 688L199.4 688L196.9 687.9L194.4 687.8L191.8 687.7L189.3 687.7L188.7 690.2L188 692.8L187.2 695.4L186.3 697.9L185.3 700.5L184.3 703Z" fill="#3800d0" stroke="#3800d0"/>
<path d="M197.5 706.5L199.5 706.7L201.5 706.9L203.5 707.1L205.5 707.3L207.5 707.5L209.5 707.7L211.5 707.9L213.9 705.3L216.2 702.6L218.2 700L220 697.3L221.7 694.6L223.2 691.8L224.5 689.1L222 688.9L219.5 688.8L217 688.7L214.5 688.6L212 688.4L209.5 688.3L207 688.2L206 690.9L204.9 693.5L203.7 696.1L202.4 698.7L200.9 701.3L199.3 703.9Z" fill="#3800d0" stroke="#3800d0"/>
<path d="M211.5 707.9L213.5 708.2L215.4 708.4L217.3 708.7L219.3 708.9L221.2 709.2L223.1 709.5L225 709.8L228.1 707.1L231 704.4L233.7 701.6L236.1 698.8L238.2 696L240.2 693.1L241.9 690.2L239.4 690.1L236.9 689.9L234.5 689.7L232 689.5L229.5 689.4L227 689.2L224.5 689.1L223.2 691.8L221.7 694.6L220 697.3L218.2 700L216.2 702.6L213.9 705.3Z" fill="#3800d0" stroke="#3800d0"/>
<path d="M225 709.8L226.9 710.1L228.7 710.5L230.6 710.8L232.4 711.1L234.2 711.5L236 711.9L237.7 712.3L241.7 709.5L245.3 706.7L248.6 703.8L251.7 700.9L254.4 697.9L256.9 694.9L259.1 691.8L256.6 691.5L254.2 691.3L251.7 691.1L249.3 690.9L246.8 690.6L244.4 690.4L241.9 690.2L240.2 693.1L238.2 696L236.1 698.8L233.7 701.6L231 704.4L228.1 707.1Z" fill="#3800d0" stroke="#3800d0"/>
<path d="M237.7 712.3L239.5 712.7L241.2 713.1L242.9 713.5L244.6 714L246.2 714.4L247.9 714.9L249.5 715.4L254.3 712.6L258.7 709.7L262.8 706.7L266.6 703.6L270.1 700.4L273.2 697.1L275.9 693.8L273.5 693.5L271.1 693.2L268.7 692.9L266.3 692.6L263.9 692.3L261.5 692.1L259.1 691.8L256.9 694.9L254.4 697.9L251.7 700.9L248.6 703.8L245.3 706.7L241.7 709.5Z" fill="#3800d0" stroke="#3800d0"/>
<path d="M249.5 715.4L251 715.9L252.6 716.5L254.1 717L255.5 717.6L257 718.1L258.4 718.7L259.7 719.4L265.5 716.5L270.9 713.5L276 710.3L280.6 707.1L284.9 703.7L288.8 700.2L292.2 696.6L289.9 696.1L287.6 695.7L285.3 695.3L283 694.9L280.6 694.5L278.3 694.2L275.9 693.8L273.2 697.1L270.1 700.4L266.6 703.6L262.8 706.7L258.7 709.7L254.3 712.6Z" fill="#3000e8" stroke="#3000e8"/>
<path d="M15.5 696.6L17.8 696.1L20.1 695.7L22.4 695.3L24.7 694.9L27.1 694.5L29.4 694.2L31.8 693.8L29.4 690.5L27.4 687.1L25.8 683.6L24.5 680.2L23.6 676.7L23 673.2L22.8 669.6L20.1 669.6L17.5 669.6L14.8 669.6L12.1 669.6L9.4 669.6L6.8 669.6L4.1 669.6L4.3 673.6L5 677.5L6.2 681.4L7.9 685.3L10 689.1L12.5 692.9Z" fill="#2c00ec" stroke="#2c00ec"/>
<path d="M31.8 693.8L34.2 693.5L36.6 693.2L39 692.9L41.4 692.6L43.8 692.3L46.2 692.1L48.6 691.8L46.8 688.7L45.2 685.6L43.9 682.4L42.8 679.2L42.1 676L41.7 672.9L41.5 669.6L38.9 669.6L36.2 669.6L33.5 669.6L30.8 669.6L28.2 669.6L25.5 669.6L22.8 669.6L23 673.2L23.6 676.7L24.5 680.2L25.8 683.6L27.4 687.1L29.4 690.5Z" fill="#3200e0" stroke="#3200e0"/>
<path d="M48.6 691.8L51.1 691.5L53.5 691.3L56 691.1L58.4 690.9L60.9 690.6L63.3 690.4L65.8 690.2L64.3 687.3L63.1 684.4L62.1 681.5L61.3 678.5L60.7 675.6L60.4 672.6L60.3 669.6L57.6 669.6L54.9 669.6L52.2 669.6L49.6 669.6L46.9 669.6L44.2 669.6L41.5 669.6L41.7 672.9L42.1 676L42.8 679.2L43.9 682.4L45.2 685.6L46.8 688.7Z" fill="#3800d0" stroke="#3800d0"/>
<path d="M65.8 690.2L68.3 690.1L70.8 689.9L73.2 689.7L75.7 689.5L78.2 689.4L80.7 689.2L83.2 689.1L82.1 686.3L81.1 683.6L80.3 680.8L79.7 678L79.3 675.2L79.1 672.4L79 669.6L76.3 669.6L73.6 669.6L71 669.6L68.3 669.6L65.6 669.6L62.9 669.6L60.3 669.6L60.4 672.6L60.7 675.6L61.3 678.5L62.1 681.5L63.1 684.4L64.3 687.3Z" fill="#3800d0" stroke="#3800d0"/>
<path d="M83.2 689.1L85.7 688.9L88.2 688.8L90.7 688.7L93.2 688.6L95.7 688.4L98.2 688.3L100.7 688.2L99.9 685.6L99.2 682.9L98.7 680.3L98.3 677.6L97.9 675L97.8 672.3L97.7 669.6L95 669.6L92.3 669.6L89.7 669.6L87 669.6L84.3 669.6L81.6 669.6L79 669.6L79.1 672.4L79.3 675.2L79.7 678L80.3 680.8L81.1 683.6L82.1 686.3Z" fill="#3800d0" stroke="#3800d0"/>
<path d="M100.7 688.2L103.3 688.1L105.8 688L108.3 688L110.8 687.9L113.3 687.8L115.9 687.7L118.4 687.7L117.9 685.1L117.4 682.5L117.1 680L116.8 677.4L116.6 674.8L116.5 672.2L116.4 669.6L113.7 669.6L111.1 669.6L108.4 669.6L105.7 669.6L103 669.6L100.4 669.6L97.7 669.6L97.8 672.3L97.9 675L98.3 677.6L98.7 680.3L99.2 682.9L99.9 685.6Z" fill="#3000e0" stroke="#3000e0"/>
<path d="M118.4 687.7L120.9 687.6L123.5 687.5L126 687.5L128.5 687.4L131 687.4L133.6 687.4L136.1 687.3L135.8 684.8L135.6 682.3L135.4 679.8L135.3 677.2L135.2 674.7L135.2 672.2L135.1 669.6L132.5 669.6L129.8 669.6L127.1 669.6L124.4 669.6L121.8 669.6L119.1 669.6L116.4 669.6L116.5 672.2L116.6 674.8L116.8 677.4L117.1 680L117.4 682.5L117.9 685.1Z" fill="#4000c0" stroke="#4000c0"/>
<path d="M136.1 687.3L138.6 687.3L141.2 687.3L143.7 687.3L146.2 687.2L148.8 687.2L151.3 687.2L153.8 687.2L153.8 684.7L153.8 682.2L153.8 679.7L153.8 677.2L153.8 674.7L153.8 672.2L153.8 669.6L151.2 669.6L148.5 669.6L145.8 669.6L143.2 669.6L140.5 669.6L137.8 669.6L135.1 669.6L135.2 672.2L135.2 674.7L135.3 677.2L135.4 679.8L135.6 682.3L135.8 684.8Z" fill="#3800d0" stroke="#3800d0"/>
<path d="M153.8 687.2L156.4 687.2L158.9 687.2L161.5 687.2L164 687.3L166.5 687.3L169.1 687.3L171.6 687.3L171.9 684.8L172.1 682.3L172.3 679.8L172.4 677.2L172.5 674.7L172.5 672.2L172.6 669.6L169.9 669.6L167.2 669.6L164.5 669.6L161.9 669.6L159.2 669.6L156.5 669.6L153.8 669.6L153.8 672.2L153.8 674.7L153.8 677.2L153.8 679.7L153.8 682.2L153.8 684.7Z" fill="#3800d0" stroke="#3800d0"/>
<path d="M171.6 687.3L174.1 687.4L176.7 687.4L179.2 687.4L181.7 687.5L184.2 687.5L186.8 687.6L189.3 687.7L189.8 685.1L190.3 682.5L190.6 680L190.9 677.4L191.1 674.8L191.2 672.2L191.3 669.6L188.6 669.6L185.9 669.6L183.3 669.6L180.6 669.6L177.9 669.6L175.2 669.6L172.6 669.6L172.5 672.2L172.5 674.7L172.4 677.2L172.3 679.8L172.1 682.3L171.9 684.8Z" fill="#3800d0" stroke="#3800d0"/>
<path d="M189.3 687.7L191.8 687.7L194.4 687.8L196.9 687.9L199.4 688L201.9 688L204.4 688.1L207 688.2L207.8 685.6L208.5 682.9L209 680.3L209.4 677.6L209.8 675L209.9 672.3L210 669.6L207.3 669.6L204.7 669.6L202 669.6L199.3 669.6L196.6 669.6L194 669.6L191.3 669.6L191.2 672.2L191.1 674.8L190.9 677.4L190.6 680L190.3 682.5L189.8 685.1Z" fill="#3800d0" stroke="#3800d0"/>
<path d="M207 688.2L209.5 688.3L212 688.4L214.5 688.6L217 688.7L219.5 688.8L222 688.9L224.5 689.1L225.6 686.3L226.6 683.6L227.4 680.8L228 678L228.4 675.2L228.6 672.4L228.7 669.6L226.1 669.6L223.4 669.6L220.7 669.6L218 669.6L215.4 669.6L212.7 669.6L210 669.6L209.9 672.3L209.8 675L209.4 677.6L209 680.3L208.5 682.9L207.8 685.6Z" fill="#3800d0" stroke="#3800d0"/>
<path d="M224.5 689.1L227 689.2L229.5 689.4L232 689.5L234.5 689.7L236.9 689.9L239.4 690.1L241.9 690.2L243.4 687.3L244.6 684.4L245.6 681.5L246.4 678.5L247 675.6L247.3 672.6L247.4 669.6L244.8 669.6L242.1 669.6L239.4 669.6L236.7 669.6L234.1 669.6L231.4 669.6L228.7 669.6L228.6 672.4L228.4 675.2L228 678L227.4 680.8L226.6 683.6L225.6 686.3Z" fill="#3800d0" stroke="#3800d0"/>
<path d="M241.9 690.2L244.4 690.4L246.8 690.6L249.3 690.9L251.7 691.1L254.2 691.3L256.6 691.5L259.1 691.8L260.9 688.7L262.5 685.6L263.8 682.4L264.9 679.2L265.6 676L266 672.9L266.2 669.6L263.5 669.6L260.8 669.6L258.1 669.6L255.5 669.6L252.8 669.6L250.1 669.6L247.4 669.6L247.3 672.6L247 675.6L246.4 678.5L245.6 681.5L244.6 684.4L243.4 687.3Z" fill="#3800d0" stroke="#3800d0"/>
<path d="M259.1 691.8L261.5 692.1L263.9 692.3L266.3 692.6L268.7 692.9L271.1 693.2L273.5 693.5L275.9 693.8L278.3 690.5L280.3 687.1L281.9 683.6L283.2 680.2L284.1 676.7L284.7 673.2L284.9 669.6L282.2 669.6L279.5 669.6L276.9 669.6L274.2 669.6L271.5 669.6L268.8 669.6L266.2 669.6L266 672.9L265.6 676L264.9 679.2L263.8 682.4L262.5 685.6L260.9 688.7Z" fill="#3800d0" stroke="#3800d0"/>
<path d="M275.9 693.8L278.3 694.2L280.6 694.5L283 694.9L285.3 695.3L287.6 695.7L289.9 696.1L292.2 696.6L295.2 692.9L297.7 689.1L299.8 685.3L301.5 681.4L302.7 677.5L303.4 673.6L303.6 669.6L300.9 669.6L298.3 669.6L295.6 669.6L292.9 669.6L290.2 669.6L287.6 669.6L284.9 669.6L284.7 673.2L284.1 676.7L283.2 680.2L281.9 683.6L280.3 687.1L278.3 690.5Z" fill="#3000e4" stroke="#3000e4"/>
<path d="M4.1 669.6L6.8 669.6L9.4 669.6L12.1 669.6L14.8 669.6L17.5 669.6L20.1 669.6L22.8 669.6L23 666.1L23.6 662.6L24.5 659.1L25.8 655.7L27.4 652.2L29.4 648.8L31.8 645.5L29.4 645.1L27.1 644.8L24.7 644.4L22.4 644L20.1 643.6L17.8 643.2L15.5 642.7L12.5 646.4L10 650.2L7.9 654L6.2 657.9L5 661.8L4.3 665.7Z" fill="#2c00f0" stroke="#2c00f0"/>
<path d="M22.8 669.6L25.5 669.6L28.2 669.6L30.8 669.6L33.5 669.6L36.2 669.6L38.9 669.6L41.5 669.6L41.7 666.4L42.1 663.3L42.8 660.1L43.9 656.9L45.2 653.7L46.8 650.6L48.6 647.5L46.2 647.2L43.8 647L41.4 646.7L39 646.4L36.6 646.1L34.2 645.8L31.8 645.5L29.4 648.8L27.4 652.2L25.8 655.7L24.5 659.1L23.6 662.6L23 666.1Z" fill="#3000e4" stroke="#3000e4"/>
<path d="M41.5 669.6L44.2 669.6L46.9 669.6L49.6 669.6L52.2 669.6L54.9 669.6L57.6 669.6L60.3 669.6L60.4 666.7L60.7 663.7L61.3 660.8L62.1 657.8L63.1 654.9L64.3 652L65.8 649.1L63.3 648.9L60.9 648.7L58.4 648.4L56 648.2L53.5 648L51.1 647.8L48.6 647.5L46.8 650.6L45.2 653.7L43.9 656.9L42.8 660.1L42.1 663.3L41.7 666.4Z" fill="#3800d0" stroke="#3800d0"/>
<path d="M60.3 669.6L62.9 669.6L65.6 669.6L68.3 669.6L71 669.6L73.6 669.6L76.3 669.6L79 669.6L79.1 666.9L79.3 664.1L79.7 661.3L80.3 658.5L81.1 655.7L82.1 653L83.2 650.2L80.7 650.1L78.2 649.9L75.7 649.8L73.2 649.6L70.8 649.4L68.3 649.2L65.8 649.1L64.3 652L63.1 654.9L62.1 657.8L61.3 660.8L60.7 663.7L60.4 666.7Z" fill="#3800d0" stroke="#3800d0"/>
<path d="M79 669.6L81.6 669.6L84.3 669.6L87 669.6L89.7 669.6L92.3 669.6L95 669.6L97.7 669.6L97.8 667L97.9 664.3L98.3 661.7L98.7 659L99.2 656.4L99.9 653.7L100.7 651.1L98.2 651L95.7 650.9L93.2 650.7L90.7 650.6L88.2 650.5L85.7 650.4L83.2 650.2L82.1 653L81.1 655.7L80.3 658.5L79.7 661.3L79.3 664.1L79.1 666.9Z" fill="#3800d0" stroke="#3800d0"/>
<path d="M97.7 669.6L100.4 669.6L103 669.6L105.7 669.6L108.4 669.6L111.1 669.6L113.7 669.6L116.4 669.6L116.5 667.1L116.6 664.5L116.8 661.9L117.1 659.3L117.4 656.8L117.9 654.2L118.4 651.6L115.9 651.6L113.3 651.5L110.8 651.4L108.3 651.3L105.8 651.3L103.3 651.2L100.7 651.1L99.9 653.7L99.2 656.4L98.7 659L98.3 661.7L97.9 664.3L97.8 667Z" fill="#3000e0" stroke="#3000e0"/>
<path d="M116.4 669.6L119.1 669.6L121.8 669.6L124.4 669.6L127.1 669.6L129.8 669.6L132.5 669.6L135.1 669.6L135.2 667.1L135.2 664.6L135.3 662.1L135.4 659.5L135.6 657L135.8 654.5L136.1 652L133.6 651.9L131 651.9L128.5 651.9L126 651.8L123.5 651.8L120.9 651.7L118.4 651.6L117.9 654.2L117.4 656.8L117.1 659.3L116.8 661.9L116.6 664.5L116.5 667.1Z" fill="#3c00c8" stroke="#3c00c8"/>
<path d="M135.1 669.6L137.8 669.6L140.5 669.6L143.2 669.6L145.8 669.6L148.5 669.6L151.2 669.6L153.8 669.6L153.8 667.1L153.8 664.6L153.8 662.1L153.8 659.6L153.8 657.1L153.8 654.6L153.8 652.1L151.3 652.1L148.8 652.1L146.2 652.1L143.7 652L141.2 652L138.6 652L136.1 652L135.8 654.5L135.6 657L135.4 659.5L135.3 662.1L135.2 664.6L135.2 667.1Z" fill="#3800d0" stroke="#3800d0"/>
<path d="M153.8 669.6L156.5 669.6L159.2 669.6L161.9 669.6L164.5 669.6L167.2 669.6L169.9 669.6L172.6 669.6L172.5 667.1L172.5 664.6L172.4 662.1L172.3 659.5L172.1 657L171.9 654.5L171.6 652L169.1 652L166.5 652L164 652L161.5 652.1L158.9 652.1L156.4 652.1L153.8 652.1L153.8 654.6L153.8 657.1L153.8 659.6L153.8 662.1L153.8 664.6L153.8 667.1Z" fill="#3800d0" stroke="#3800d0"/>
<path d="M172.6 669.6L175.2 669.6L177.9 669.6L180.6 669.6L183.3 669.6L185.9 669.6L188.6 669.6L191.3 669.6L191.2 667.1L191.1 664.5L190.9 661.9L190.6 659.3L190.3 656.8L189.8 654.2L189.3 651.6L186.8 651.7L184.2 651.8L181.7 651.8L179.2 651.9L176.7 651.9L174.1 651.9L171.6 652L171.9 654.5L172.1 657L172.3 659.5L172.4 662.1L172.5 664.6L172.5 667.1Z" fill="#3800d0" stroke="#3800d0"/>
<path d="M191.3 669.6L194 669.6L196.6 669.6L199.3 669.6L202 669.6L204.7 669.6L207.3 669.6L210 669.6L209.9 667L209.8 664.3L209.4 661.7L209 659L208.5 656.4L207.8 653.7L207 651.1L204.4 651.2L201.9 651.3L199.4 651.3L196.9 651.4L194.4 651.5L191.8 651.6L189.3 651.6L189.8 654.2L190.3 656.8L190.6 659.3L190.9 661.9L191.1 664.5L191.2 667.1Z" fill="#3800d0" stroke="#3800d0"/>
<path d="M210 669.6L212.7 669.6L215.4 669.6L218 669.6L220.7 669.6L223.4 669.6L226.1 669.6L228.7 669.6L228.6 666.9L228.4 664.1L228 661.3L227.4 658.5L226.6 655.7L225.6 653L224.5 650.2L222 650.4L219.5 650.5L217 650.6L214.5 650.7L212 650.9L209.5 651L207 651.1L207.8 653.7L208.5 656.4L209 659L209.4 661.7L209.8 664.3L209.9 667Z" fill="#3800d0" stroke="#3800d0"/>
<path d="M228.7 669.6L231.4 669.6L234.1 669.6L236.7 669.6L239.4 669.6L242.1 669.6L244.8 669.6L247.4 669.6L247.3 666.7L247 663.7L246.4 660.8L245.6 657.8L244.6 654.9L243.4 652L241.9 649.1L239.4 649.2L236.9 649.4L234.5 649.6L232 649.8L229.5 649.9L227 650.1L224.5 650.2L225.6 653L226.6 655.7L227.4 658.5L228 661.3L228.4 664.1L228.6 666.9Z" fill="#3800d0" stroke="#3800d0"/>
<path d="M247.4 669.6L250.1 669.6L252.8 669.6L255.5 669.6L258.1 669.6L260.8 669.6L263.5 669.6L266.2 669.6L266 666.4L265.6 663.3L264.9 660.1L263.8 656.9L262.5 653.7L260.9 650.6L259.1 647.5L256.6 647.8L254.2 648L251.7 648.2L249.3 648.4L246.8 648.7L244.4 648.9L241.9 649.1L243.4 652L244.6 654.9L245.6 657.8L246.4 660.8L247 663.7L247.3 666.7Z" fill="#3800d0" stroke="#3800d0"/>
<path d="M266.2 669.6L268.8 669.6L271.5 669.6L274.2 669.6L276.9 669.6L279.5 669.6L282.2 669.6L284.9 669.6L284.7 666.1L284.1 662.6L283.2 659.1L281.9 655.7L280.3 652.2L278.3 648.8L275.9 645.5L273.5 645.8L271.1 646.1L268.7 646.4L266.3 646.7L263.9 647L261.5 647.2L259.1 647.5L260.9 650.6L262.5 653.7L263.8 656.9L264.9 660.1L265.6 663.3L266 666.4Z" fill="#3800d0" stroke="#3800d0"/>
<path d="M284.9 669.6L287.6 669.6L290.2 669.6L292.9 669.6L295.6 669.6L298.3 669.6L300.9 669.6L303.6 669.6L303.4 665.7L302.7 661.8L301.5 657.9L299.8 654L297.7 650.2L295.2 646.4L292.2 642.7L289.9 643.2L287.6 643.6L285.3 644L283 644.4L280.6 644.8L278.3 645.1L275.9 645.5L278.3 648.8L280.3 652.2L281.9 655.7L283.2 659.1L284.1 662.6L284.7 666.1Z" fill="#3000e4" stroke="#3000e4"/>
<path d="M15.5 642.7L17.8 643.2L20.1 643.6L22.4 644L24.7 644.4L27.1 644.8L29.4 645.1L31.8 645.5L34.5 642.2L37.6 638.9L41.1 635.7L44.9 632.6L49 629.6L53.4 626.7L58.2 623.9L56.7 623.4L55.1 622.8L53.6 622.3L52.2 621.7L50.7 621.2L49.3 620.6L48 619.9L42.2 622.8L36.8 625.8L31.7 629L27.1 632.2L22.8 635.6L18.9 639.1Z" fill="#2800f8" stroke="#2800f8"/>
<path d="M31.8 645.5L34.2 645.8L36.6 646.1L39 646.4L41.4 646.7L43.8 647L46.2 647.2L48.6 647.5L50.8 644.4L53.3 641.4L56 638.4L59.1 635.5L62.4 632.6L66 629.8L70 627L68.2 626.6L66.5 626.2L64.8 625.8L63.1 625.3L61.5 624.9L59.8 624.4L58.2 623.9L53.4 626.7L49 629.6L44.9 632.6L41.1 635.7L37.6 638.9L34.5 642.2Z" fill="#2c00f0" stroke="#2c00f0"/>
<path d="M48.6 647.5L51.1 647.8L53.5 648L56 648.2L58.4 648.4L60.9 648.7L63.3 648.9L65.8 649.1L67.5 646.2L69.5 643.3L71.6 640.5L74 637.7L76.7 634.9L79.6 632.2L82.7 629.5L80.8 629.2L79 628.8L77.1 628.5L75.3 628.2L73.5 627.8L71.7 627.4L70 627L66 629.8L62.4 632.6L59.1 635.5L56 638.4L53.3 641.4L50.8 644.4Z" fill="#3800d0" stroke="#3800d0"/>
<path d="M65.8 649.1L68.3 649.2L70.8 649.4L73.2 649.6L75.7 649.8L78.2 649.9L80.7 650.1L83.2 650.2L84.5 647.5L86 644.7L87.7 642L89.5 639.3L91.5 636.7L93.8 634L96.2 631.4L94.2 631.1L92.3 630.9L90.4 630.6L88.4 630.4L86.5 630.1L84.6 629.8L82.7 629.5L79.6 632.2L76.7 634.9L74 637.7L71.6 640.5L69.5 643.3L67.5 646.2Z" fill="#3800d0" stroke="#3800d0"/>
<path d="M83.2 650.2L85.7 650.4L88.2 650.5L90.7 650.6L93.2 650.7L95.7 650.9L98.2 651L100.7 651.1L101.7 648.4L102.8 645.8L104 643.2L105.3 640.6L106.8 638L108.4 635.4L110.2 632.8L108.2 632.6L106.2 632.4L104.2 632.2L102.2 632L100.2 631.8L98.2 631.6L96.2 631.4L93.8 634L91.5 636.7L89.5 639.3L87.7 642L86 644.7L84.5 647.5Z" fill="#3800d0" stroke="#3800d0"/>
<path d="M100.7 651.1L103.3 651.2L105.8 651.3L108.3 651.3L110.8 651.4L113.3 651.5L115.9 651.6L118.4 651.6L119 649.1L119.7 646.5L120.5 643.9L121.4 641.4L122.4 638.8L123.4 636.3L124.6 633.8L122.5 633.6L120.5 633.5L118.4 633.4L116.3 633.2L114.3 633.1L112.3 632.9L110.2 632.8L108.4 635.4L106.8 638L105.3 640.6L104 643.2L102.8 645.8L101.7 648.4Z" fill="#3400d8" stroke="#3400d8"/>
<path d="M118.4 651.6L120.9 651.7L123.5 651.8L126 651.8L128.5 651.9L131 651.9L133.6 651.9L136.1 652L136.4 649.4L136.8 646.9L137.1 644.4L137.6 641.9L138.1 639.4L138.6 636.8L139.2 634.3L137.1 634.3L135 634.2L132.9 634.1L130.8 634L128.7 634L126.7 633.9L124.6 633.8L123.4 636.3L122.4 638.8L121.4 641.4L120.5 643.9L119.7 646.5L119 649.1Z" fill="#3800d0" stroke="#3800d0"/>
<path d="M136.1 652L138.6 652L141.2 652L143.7 652L146.2 652.1L148.8 652.1L151.3 652.1L153.8 652.1L153.8 649.6L153.8 647.1L153.8 644.5L153.8 642L153.8 639.5L153.8 637L153.8 634.5L151.7 634.5L149.6 634.5L147.6 634.5L145.5 634.4L143.4 634.4L141.3 634.4L139.2 634.3L138.6 636.8L138.1 639.4L137.6 641.9L137.1 644.4L136.8 646.9L136.4 649.4Z" fill="#3800d0" stroke="#3800d0"/>
<path d="M153.8 652.1L156.4 652.1L158.9 652.1L161.5 652.1L164 652L166.5 652L169.1 652L171.6 652L171.3 649.4L170.9 646.9L170.6 644.4L170.1 641.9L169.6 639.4L169.1 636.8L168.5 634.3L166.4 634.4L164.3 634.4L162.2 634.4L160.1 634.5L158.1 634.5L156 634.5L153.8 634.5L153.8 637L153.8 639.5L153.8 642L153.8 644.5L153.8 647.1L153.8 649.6Z" fill="#3800d0" stroke="#3800d0"/>
<path d="M171.6 652L174.1 651.9L176.7 651.9L179.2 651.9L181.7 651.8L184.2 651.8L186.8 651.7L189.3 651.6L188.7 649.1L188 646.5L187.2 643.9L186.3 641.4L185.3 638.8L184.3 636.3L183.1 633.8L181 633.9L179 634L176.9 634L174.8 634.1L172.7 634.2L170.6 634.3L168.5 634.3L169.1 636.8L169.6 639.4L170.1 641.9L170.6 644.4L170.9 646.9L171.3 649.4Z" fill="#3800d0" stroke="#3800d0"/>
<path d="M189.3 651.6L191.8 651.6L194.4 651.5L196.9 651.4L199.4 651.3L201.9 651.3L204.4 651.2L207 651.1L206 648.4L204.9 645.8L203.7 643.2L202.4 640.6L200.9 638L199.3 635.4L197.5 632.8L195.4 632.9L193.4 633.1L191.4 633.2L189.3 633.4L187.2 633.5L185.2 633.6L183.1 633.8L184.3 636.3L185.3 638.8L186.3 641.4L187.2 643.9L188 646.5L188.7 649.1Z" fill="#3800d0" stroke="#3800d0"/>
<path d="M207 651.1L209.5 651L212 650.9L214.5 650.7L217 650.6L219.5 650.5L222 650.4L224.5 650.2L223.2 647.5L221.7 644.7L220 642L218.2 639.3L216.2 636.7L213.9 634L211.5 631.4L209.5 631.6L207.5 631.8L205.5 632L203.5 632.2L201.5 632.4L199.5 632.6L197.5 632.8L199.3 635.4L200.9 638L202.4 640.6L203.7 643.2L204.9 645.8L206 648.4Z" fill="#3800d0" stroke="#3800d0"/>
<path d="M224.5 650.2L227 650.1L229.5 649.9L232 649.8L234.5 649.6L236.9 649.4L239.4 649.2L241.9 649.1L240.2 646.2L238.2 643.3L236.1 640.5L233.7 637.7L231 634.9L228.1 632.2L225 629.5L223.1 629.8L221.2 630.1L219.3 630.4L217.3 630.6L215.4 630.9L213.5 631.1L211.5 631.4L213.9 634L216.2 636.7L218.2 639.3L220 642L221.7 644.7L223.2 647.5Z" fill="#3800d0" stroke="#3800d0"/>
<path d="M241.9 649.1L244.4 648.9L246.8 648.7L249.3 648.4L251.7 648.2L254.2 648L256.6 647.8L259.1 647.5L256.9 644.4L254.4 641.4L251.7 638.4L248.6 635.5L245.3 632.6L241.7 629.8L237.7 627L236 627.4L234.2 627.8L232.4 628.2L230.6 628.5L228.7 628.8L226.9 629.2L225 629.5L228.1 632.2L231 634.9L233.7 637.7L236.1 640.5L238.2 643.3L240.2 646.2Z" fill="#3800d0" stroke="#3800d0"/>
<path d="M259.1 647.5L261.5 647.2L263.9 647L266.3 646.7L268.7 646.4L271.1 646.1L273.5 645.8L275.9 645.5L273.2 642.2L270.1 638.9L266.6 635.7L262.8 632.6L258.7 629.6L254.3 626.7L249.5 623.9L247.9 624.4L246.2 624.9L244.6 625.3L242.9 625.8L241.2 626.2L239.5 626.6L237.7 627L241.7 629.8L245.3 632.6L248.6 635.5L251.7 638.4L254.4 641.4L256.9 644.4Z" fill="#3800d0" stroke="#3800d0"/>
<path d="M275.9 645.5L278.3 645.1L280.6 644.8L283 644.4L285.3 644L287.6 643.6L289.9 643.2L292.2 642.7L288.8 639.1L284.9 635.6L280.6 632.2L276 629L270.9 625.8L265.5 622.8L259.7 619.9L258.4 620.6L257 621.2L255.5 621.7L254.1 622.3L252.6 622.8L251 623.4L249.5 623.9L254.3 626.7L258.7 629.6L262.8 632.6L266.6 635.7L270.1 638.9L273.2 642.2Z" fill="#3000e8" stroke="#3000e8"/>
<path d="M48 619.9L49.2 620.5L50.5 621.1L51.9 621.6L53.2 622.2L54.6 622.7L56 623.2L57.5 623.6L59 624.1L60.5 624.6L62 625L63.6 625.4L65.1 625.9L66.7 626.3L68.3 626.6L70 627L74.2 624.3L78.6 621.7L83.4 619.2L88.5 616.8L93.8 614.5L99.4 612.2L105.3 610.1L104.6 609.8L103.8 609.5L103.1 609.2L102.4 608.8L101.7 608.5L101.1 608.2L100.5 607.8L99.9 607.4L99.3 607.1L98.8 606.7L98.3 606.3L97.8 605.9L97.3 605.5L96.9 605.1L96.5 604.7L88.9 606.3L81.4 608.1L74.2 610.1L67.2 612.3L60.5 614.7L54.1 617.2Z" fill="#3400dc" stroke="#3400dc"/>
<path d="M70 627L71.6 627.4L73.3 627.7L75 628.1L76.7 628.4L78.4 628.7L80.1 629L81.8 629.3L83.6 629.6L85.4 629.9L87.1 630.2L88.9 630.4L90.7 630.7L92.6 630.9L94.4 631.2L96.2 631.4L98.8 628.8L101.7 626.2L104.7 623.7L108 621.2L111.5 618.7L115.2 616.3L119.1 614L118.1 613.7L117.1 613.5L116.1 613.3L115.1 613.1L114.1 612.9L113.1 612.6L112.2 612.4L111.3 612.1L110.4 611.9L109.5 611.6L108.6 611.3L107.8 611L106.9 610.7L106.1 610.4L105.3 610.1L99.4 612.2L93.8 614.5L88.5 616.8L83.4 619.2L78.6 621.7L74.2 624.3Z" fill="#3800d0" stroke="#3800d0"/>
<path d="M96.2 631.4L98.1 631.6L99.9 631.8L101.8 632L103.6 632.2L105.5 632.4L107.4 632.5L109.3 632.7L111.2 632.9L113.1 633L115 633.2L116.9 633.3L118.8 633.4L120.7 633.5L122.7 633.6L124.6 633.8L125.9 631.2L127.2 628.7L128.7 626.2L130.3 623.7L132 621.2L133.8 618.7L135.8 616.2L134.6 616.1L133.5 616L132.3 615.9L131.2 615.7L130 615.6L128.9 615.5L127.7 615.3L126.6 615.2L125.5 615L124.4 614.9L123.3 614.7L122.3 614.5L121.2 614.3L120.1 614.2L119.1 614L115.2 616.3L111.5 618.7L108 621.2L104.7 623.7L101.7 626.2L98.8 628.8Z" fill="#3800d0" stroke="#3800d0"/>
<path d="M124.6 633.8L126.5 633.8L128.5 633.9L130.4 634L132.3 634.1L134.3 634.2L136.2 634.2L138.2 634.3L140.1 634.3L142.1 634.4L144.1 634.4L146 634.4L148 634.5L149.9 634.5L151.9 634.5L153.8 634.5L153.8 632L153.8 629.5L153.8 627L153.8 624.5L153.8 621.9L153.8 619.4L153.8 616.9L152.6 616.9L151.4 616.9L150.2 616.9L149 616.9L147.8 616.8L146.6 616.8L145.3 616.8L144.1 616.7L142.9 616.7L141.7 616.6L140.5 616.5L139.3 616.5L138.2 616.4L137 616.3L135.8 616.2L133.8 618.7L132 621.2L130.3 623.7L128.7 626.2L127.2 628.7L125.9 631.2Z" fill="#4000c0" stroke="#4000c0"/>
<path d="M153.8 634.5L155.8 634.5L157.8 634.5L159.7 634.5L161.7 634.4L163.6 634.4L165.6 634.4L167.6 634.3L169.5 634.3L171.5 634.2L173.4 634.2L175.4 634.1L177.3 634L179.2 633.9L181.2 633.8L183.1 633.8L181.8 631.2L180.5 628.7L179 626.2L177.4 623.7L175.7 621.2L173.9 618.7L171.9 616.2L170.7 616.3L169.5 616.4L168.4 616.5L167.2 616.5L166 616.6L164.8 616.7L163.6 616.7L162.4 616.8L161.1 616.8L159.9 616.8L158.7 616.9L157.5 616.9L156.3 616.9L155.1 616.9L153.8 616.9L153.8 619.4L153.8 621.9L153.8 624.5L153.8 627L153.8 629.5L153.8 632Z" fill="#2000f4" stroke="#2000f4"/>
<path d="M183.1 633.8L185 633.6L187 633.5L188.9 633.4L190.8 633.3L192.7 633.2L194.6 633L196.5 632.9L198.4 632.7L200.3 632.5L202.2 632.4L204.1 632.2L205.9 632L207.8 631.8L209.6 631.6L211.5 631.4L208.9 628.8L206 626.2L203 623.7L199.7 621.2L196.2 618.7L192.5 616.3L188.6 614L187.6 614.2L186.5 614.3L185.4 614.5L184.4 614.7L183.3 614.9L182.2 615L181.1 615.2L180 615.3L178.8 615.5L177.7 615.6L176.5 615.7L175.4 615.9L174.2 616L173.1 616.1L171.9 616.2L173.9 618.7L175.7 621.2L177.4 623.7L179 626.2L180.5 628.7L181.8 631.2Z" fill="#4000c0" stroke="#4000c0"/>
<path d="M211.5 631.4L213.3 631.2L215.1 630.9L217 630.7L218.8 630.4L220.6 630.2L222.3 629.9L224.1 629.6L225.9 629.3L227.6 629L229.3 628.7L231 628.4L232.7 628.1L234.4 627.7L236.1 627.4L237.7 627L233.5 624.3L229.1 621.7L224.3 619.2L219.2 616.8L213.9 614.5L208.3 612.2L202.4 610.1L201.6 610.4L200.8 610.7L199.9 611L199.1 611.3L198.2 611.6L197.3 611.9L196.4 612.1L195.5 612.4L194.6 612.6L193.6 612.9L192.6 613.1L191.6 613.3L190.6 613.5L189.6 613.7L188.6 614L192.5 616.3L196.2 618.7L199.7 621.2L203 623.7L206 626.2L208.9 628.8Z" fill="#3800d0" stroke="#3800d0"/>
<path d="M237.7 627L239.4 626.6L241 626.3L242.6 625.9L244.1 625.4L245.7 625L247.2 624.6L248.7 624.1L250.2 623.6L251.7 623.2L253.1 622.7L254.5 622.2L255.8 621.6L257.2 621.1L258.5 620.5L259.7 619.9L253.6 617.2L247.2 614.7L240.5 612.3L233.5 610.1L226.3 608.1L218.8 606.3L211.2 604.7L210.8 605.1L210.4 605.5L209.9 605.9L209.4 606.3L208.9 606.7L208.4 607.1L207.8 607.4L207.2 607.8L206.6 608.2L206 608.5L205.3 608.8L204.6 609.2L203.9 609.5L203.1 609.8L202.4 610.1L208.3 612.2L213.9 614.5L219.2 616.8L224.3 619.2L229.1 621.7L233.5 624.3Z" fill="#3400dc" stroke="#3400dc"/>
<path d="M96.5 604.7L96.9 605.1L97.3 605.5L97.8 605.9L98.3 606.3L98.8 606.7L99.3 607.1L99.9 607.4L100.5 607.8L101.1 608.2L101.7 608.5L102.4 608.8L103.1 609.2L103.8 609.5L104.6 609.8L105.3 610.1L106.1 610.4L106.9 610.7L107.8 611L108.6 611.3L109.5 611.6L110.4 611.9L111.3 612.1L112.2 612.4L113.1 612.6L114.1 612.9L115.1 613.1L116.1 613.3L117.1 613.5L118.1 613.7L119.1 614L123.3 611.6L127.7 609.4L132.4 607.2L137.3 605.1L142.6 603.1L148.1 601.2L153.8 599.4L153.8 599.4L153.8 599.4L153.8 599.4L153.8 599.4L153.8 599.4L153.8 599.4L153.8 599.4L153.8 599.4L153.8 599.4L153.8 599.4L153.8 599.4L153.8 599.4L153.8 599.4L153.8 599.4L153.8 599.4L153.8 599.4L153.8 599.4L153.8 599.4L153.8 599.4L153.8 599.4L153.8 599.4L153.8 599.4L153.8 599.4L153.8 599.4L153.8 599.4L153.8 599.4L153.8 599.4L153.8 599.4L153.8 599.4L153.8 599.4L145.5 599.5L137.1 599.8L128.8 600.3L120.5 601.1L112.4 602.1L104.4 603.3Z" fill="#3800d0" stroke="#3800d0"/>
<path d="M119.1 614L120.1 614.2L121.2 614.3L122.3 614.5L123.3 614.7L124.4 614.9L125.5 615L126.6 615.2L127.7 615.3L128.9 615.5L130 615.6L131.2 615.7L132.3 615.9L133.5 616L134.6 616.1L135.8 616.2L137 616.3L138.2 616.4L139.3 616.5L140.5 616.5L141.7 616.6L142.9 616.7L144.1 616.7L145.3 616.8L146.6 616.8L147.8 616.8L149 616.9L150.2 616.9L151.4 616.9L152.6 616.9L153.8 616.9L153.8 614.4L153.8 611.9L153.8 609.4L153.8 606.9L153.8 604.4L153.8 601.9L153.8 599.4L153.8 599.4L153.8 599.4L153.8 599.4L153.8 599.4L153.8 599.4L153.8 599.4L153.8 599.4L153.8 599.4L153.8 599.4L153.8 599.4L153.8 599.4L153.8 599.4L153.8 599.4L153.8 599.4L153.8 599.4L153.8 599.4L153.8 599.4L153.8 599.4L153.8 599.4L153.8 599.4L153.8 599.4L153.8 599.4L153.8 599.4L153.8 599.4L153.8 599.4L153.8 599.4L153.8 599.4L153.8 599.4L153.8 599.4L153.8 599.4L148.1 601.2L142.6 603.1L137.3 605.1L132.4 607.2L127.7 609.4L123.3 611.6Z" fill="#4800a8" stroke="#4800a8"/>
<path d="M153.8 616.9L155.1 616.9L156.3 616.9L157.5 616.9L158.7 616.9L159.9 616.8L161.1 616.8L162.4 616.8L163.6 616.7L164.8 616.7L166 616.6L167.2 616.5L168.4 616.5L169.5 616.4L170.7 616.3L171.9 616.2L173.1 616.1L174.2 616L175.4 615.9L176.5 615.7L177.7 615.6L178.8 615.5L180 615.3L181.1 615.2L182.2 615L183.3 614.9L184.4 614.7L185.4 614.5L186.5 614.3L187.6 614.2L188.6 614L184.4 611.6L180 609.4L175.3 607.2L170.4 605.1L165.1 603.1L159.6 601.2L153.8 599.4L153.8 599.4L153.8 599.4L153.8 599.4L153.8 599.4L153.8 599.4L153.8 599.4L153.8 599.4L153.8 599.4L153.8 599.4L153.8 599.4L153.8 599.4L153.8 599.4L153.8 599.4L153.8 599.4L153.8 599.4L153.8 599.4L153.8 599.4L153.8 599.4L153.8 599.4L153.8 599.4L153.8 599.4L153.8 599.4L153.8 599.4L153.8 599.4L153.8 599.4L153.8 599.4L153.8 599.4L153.8 599.4L153.8 599.4L153.8 599.4L153.8 601.9L153.8 604.4L153.8 606.9L153.8 609.4L153.8 611.9L153.8 614.4Z" fill="#3800d0" stroke="#3800d0"/>
<path d="M188.6 614L189.6 613.7L190.6 613.5L191.6 613.3L192.6 613.1L193.6 612.9L194.6 612.6L195.5 612.4L196.4 612.1L197.3 611.9L198.2 611.6L199.1 611.3L199.9 611L200.8 610.7L201.6 610.4L202.4 610.1L203.1 609.8L203.9 609.5L204.6 609.2L205.3 608.8L206 608.5L206.6 608.2L207.2 607.8L207.8 607.4L208.4 607.1L208.9 606.7L209.4 606.3L209.9 605.9L210.4 605.5L210.8 605.1L211.2 604.7L203.3 603.3L195.3 602.1L187.2 601.1L178.9 600.3L170.6 599.8L162.2 599.5L153.8 599.4L153.8 599.4L153.8 599.4L153.8 599.4L153.8 599.4L153.8 599.4L153.8 599.4L153.8 599.4L153.8 599.4L153.8 599.4L153.8 599.4L153.8 599.4L153.8 599.4L153.8 599.4L153.8 599.4L153.8 599.4L153.8 599.4L153.8 599.4L153.8 599.4L153.8 599.4L153.8 599.4L153.8 599.4L153.8 599.4L153.8 599.4L153.8 599.4L153.8 599.4L153.8 599.4L153.8 599.4L153.8 599.4L153.8 599.4L153.8 599.4L159.6 601.2L165.1 603.1L170.4 605.1L175.3 607.2L180 609.4L184.4 611.6Z" fill="#3800d0" stroke="#3800d0"/>
</g><use href="#ce"/>
<use href="#grid" x="153.8" y="669.6"/>
<g class="lab"><text x="4.1" y="670.4">0</text><text x="22.8" y="670.4">22.50</text><text x="41.5" y="670.4">45</text><text x="60.3" y="670.4">67.50</text><text x="79" y="670.4">90</text><text x="97.7" y="670.4">112.50</text><text x="116.4" y="670.4">135</text><text x="135.1" y="670.4">157.50</text><text x="153.8" y="670.4">180</text><text x="172.6" y="670.4">202.50</text><text x="191.3" y="670.4">225</text><text x="210" y="670.4">247.50</text><text x="228.7" y="670.4">270</text><text x="247.4" y="670.4">292.50</text><text x="266.2" y="670.4">315</text><text x="284.9" y="670.4">337.50</text><text x="96.5" y="606">67.50</text><text x="48" y="621.2">45</text><text x="15.5" y="644">22.50</text><text x="15.5" y="697.9">−22.50</text><text x="48" y="720.7">−45</text><text x="96.5" y="735.9">−67.50</text><text x="153.8" y="601.4" style="font-size:4.3px">90</text><text x="153.8" y="740.2" style="font-size:4.3px">−90</text></g>
<path d="M153.2 668.8l2.2 1.6l-1.5 0.2l-0.5 1.3z" fill="#303030" opacity="0.8"/>
<rect x="310.7" y="598.9" width="8.3" height="141.6" fill="url(#cb)" stroke="#222" stroke-width="0.4"/>
<text x="321.9" y="604" class="cbl">10<tspan dy="-2.6" font-size="4.6">8</tspan></text>
<text x="321.9" y="638.2" class="cbl">10<tspan dy="-2.6" font-size="4.6">7</tspan></text>
<text x="321.9" y="672.5" class="cbl">10<tspan dy="-2.6" font-size="4.6">6</tspan></text>
<text x="321.9" y="706.7" class="cbl">10<tspan dy="-2.6" font-size="4.6">5</tspan></text>
<text x="321.9" y="740.9" class="cbl">10<tspan dy="-2.6" font-size="4.6">4</tspan></text>
<text transform="translate(343 671.3) rotate(-90)" class="efl">EFlux</text>
<text transform="translate(309.6 739.9) rotate(-90)" class="stamp" textLength="47" lengthAdjust="spacing">Mon Feb  1 14:58:53 2021</text>
<text x="360.1" y="593.6" class="ttl">f) 9215 eV/q ions, GSE longitudes = [178,179]<tspan font-size="7.5" dy="-0.6">°</tspan></text>
<rect x="358.9" y="598.9" width="305.6" height="141.6" fill="#000"/>
<g id="cf" stroke-width="0.45" stroke-linejoin="round">
<path d="M454.6 604.7L455 605.1L455.4 605.5L455.8 605.9L456.3 606.3L456.8 606.7L457.4 607.1L457.9 607.4L458.5 607.8L459.1 608.2L459.8 608.5L460.5 608.8L461.2 609.2L461.9 609.5L462.6 609.8L463.4 610.1L464.2 610.4L465 610.7L465.8 611L466.7 611.3L467.5 611.6L468.4 611.9L469.3 612.1L470.3 612.4L471.2 612.6L472.1 612.9L473.1 613.1L474.1 613.3L475.1 613.5L476.1 613.7L477.2 614L481.3 611.6L485.8 609.4L490.4 607.2L495.4 605.1L500.6 603.1L506.1 601.2L511.9 599.4L511.9 599.4L511.9 599.4L511.9 599.4L511.9 599.4L511.9 599.4L511.9 599.4L511.9 599.4L511.9 599.4L511.9 599.4L511.9 599.4L511.9 599.4L511.9 599.4L511.9 599.4L511.9 599.4L511.9 599.4L511.9 599.4L511.9 599.4L511.9 599.4L511.9 599.4L511.9 599.4L511.9 599.4L511.9 599.4L511.9 599.4L511.9 599.4L511.9 599.4L511.9 599.4L511.9 599.4L511.9 599.4L511.9 599.4L511.9 599.4L503.5 599.5L495.1 599.8L486.8 600.3L478.6 601.1L470.4 602.1L462.4 603.3Z" fill="#00ff40" stroke="#00ff40"/>
<path d="M477.2 614L478.2 614.2L479.2 614.3L480.3 614.5L481.4 614.7L482.5 614.9L483.6 615L484.7 615.2L485.8 615.3L486.9 615.5L488.1 615.6L489.2 615.7L490.4 615.9L491.5 616L492.7 616.1L493.8 616.2L495 616.3L496.2 616.4L497.4 616.5L498.6 616.5L499.8 616.6L501 616.7L502.2 616.7L503.4 616.8L504.6 616.8L505.8 616.8L507 616.9L508.2 616.9L509.5 616.9L510.7 616.9L511.9 616.9L511.9 614.4L511.9 611.9L511.9 609.4L511.9 606.9L511.9 604.4L511.9 601.9L511.9 599.4L511.9 599.4L511.9 599.4L511.9 599.4L511.9 599.4L511.9 599.4L511.9 599.4L511.9 599.4L511.9 599.4L511.9 599.4L511.9 599.4L511.9 599.4L511.9 599.4L511.9 599.4L511.9 599.4L511.9 599.4L511.9 599.4L511.9 599.4L511.9 599.4L511.9 599.4L511.9 599.4L511.9 599.4L511.9 599.4L511.9 599.4L511.9 599.4L511.9 599.4L511.9 599.4L511.9 599.4L511.9 599.4L511.9 599.4L511.9 599.4L506.1 601.2L500.6 603.1L495.4 605.1L490.4 607.2L485.8 609.4L481.3 611.6Z" fill="#00ff50" stroke="#00ff50"/>
<path d="M511.9 616.9L513.1 616.9L514.3 616.9L515.6 616.9L516.8 616.9L518 616.8L519.2 616.8L520.4 616.8L521.6 616.7L522.8 616.7L524 616.6L525.2 616.5L526.4 616.5L527.6 616.4L528.8 616.3L530 616.2L531.1 616.1L532.3 616L533.4 615.9L534.6 615.7L535.7 615.6L536.9 615.5L538 615.3L539.1 615.2L540.2 615L541.3 614.9L542.4 614.7L543.5 614.5L544.6 614.3L545.6 614.2L546.6 614L542.5 611.6L538 609.4L533.4 607.2L528.4 605.1L523.2 603.1L517.7 601.2L511.9 599.4L511.9 599.4L511.9 599.4L511.9 599.4L511.9 599.4L511.9 599.4L511.9 599.4L511.9 599.4L511.9 599.4L511.9 599.4L511.9 599.4L511.9 599.4L511.9 599.4L511.9 599.4L511.9 599.4L511.9 599.4L511.9 599.4L511.9 599.4L511.9 599.4L511.9 599.4L511.9 599.4L511.9 599.4L511.9 599.4L511.9 599.4L511.9 599.4L511.9 599.4L511.9 599.4L511.9 599.4L511.9 599.4L511.9 599.4L511.9 599.4L511.9 601.9L511.9 604.4L511.9 606.9L511.9 609.4L511.9 611.9L511.9 614.4Z" fill="#00ff40" stroke="#00ff40"/>
<path d="M546.6 614L547.7 613.7L548.7 613.5L549.7 613.3L550.7 613.1L551.7 612.9L552.6 612.6L553.5 612.4L554.5 612.1L555.4 611.9L556.3 611.6L557.1 611.3L558 611L558.8 610.7L559.6 610.4L560.4 610.1L561.2 609.8L561.9 609.5L562.6 609.2L563.3 608.8L564 608.5L564.7 608.2L565.3 607.8L565.9 607.4L566.4 607.1L567 606.7L567.5 606.3L568 605.9L568.4 605.5L568.8 605.1L569.2 604.7L561.4 603.3L553.4 602.1L545.2 601.1L537 600.3L528.7 599.8L520.3 599.5L511.9 599.4L511.9 599.4L511.9 599.4L511.9 599.4L511.9 599.4L511.9 599.4L511.9 599.4L511.9 599.4L511.9 599.4L511.9 599.4L511.9 599.4L511.9 599.4L511.9 599.4L511.9 599.4L511.9 599.4L511.9 599.4L511.9 599.4L511.9 599.4L511.9 599.4L511.9 599.4L511.9 599.4L511.9 599.4L511.9 599.4L511.9 599.4L511.9 599.4L511.9 599.4L511.9 599.4L511.9 599.4L511.9 599.4L511.9 599.4L511.9 599.4L517.7 601.2L523.2 603.1L528.4 605.1L533.4 607.2L538 609.4L542.5 611.6Z" fill="#00ff40" stroke="#00ff40"/>
<path d="M511.9 739.9L511.9 739.9L511.9 739.9L511.9 739.9L511.9 739.9L511.9 739.9L511.9 739.9L511.9 739.9L511.9 739.9L511.9 739.9L511.9 739.9L511.9 739.9L511.9 739.9L511.9 739.9L511.9 739.9L511.9 739.9L511.9 739.9L511.9 739.9L511.9 739.9L511.9 739.9L511.9 739.9L511.9 739.9L511.9 739.9L511.9 739.9L511.9 739.9L511.9 739.9L511.9 739.9L511.9 739.9L511.9 739.9L511.9 739.9L511.9 739.9L506.1 738.1L500.6 736.2L495.4 734.2L490.4 732.1L485.8 729.9L481.3 727.7L477.2 725.3L476.1 725.6L475.1 725.8L474.1 726L473.1 726.2L472.1 726.4L471.2 726.7L470.3 726.9L469.3 727.2L468.4 727.4L467.5 727.7L466.7 728L465.8 728.3L465 728.6L464.2 728.9L463.4 729.2L462.6 729.5L461.9 729.8L461.2 730.1L460.5 730.5L459.8 730.8L459.1 731.1L458.5 731.5L457.9 731.9L457.4 732.2L456.8 732.6L456.3 733L455.8 733.4L455.4 733.8L455 734.2L454.6 734.6L462.4 736L470.4 737.2L478.6 738.2L486.8 739L495.1 739.5L503.5 739.8Z" fill="#00ff40" stroke="#00ff40"/>
<path d="M511.9 739.9L511.9 739.9L511.9 739.9L511.9 739.9L511.9 739.9L511.9 739.9L511.9 739.9L511.9 739.9L511.9 739.9L511.9 739.9L511.9 739.9L511.9 739.9L511.9 739.9L511.9 739.9L511.9 739.9L511.9 739.9L511.9 739.9L511.9 739.9L511.9 739.9L511.9 739.9L511.9 739.9L511.9 739.9L511.9 739.9L511.9 739.9L511.9 739.9L511.9 739.9L511.9 739.9L511.9 739.9L511.9 739.9L511.9 739.9L511.9 739.9L511.9 737.4L511.9 734.9L511.9 732.4L511.9 729.9L511.9 727.4L511.9 724.9L511.9 722.4L510.7 722.4L509.5 722.4L508.2 722.4L507 722.4L505.8 722.5L504.6 722.5L503.4 722.5L502.2 722.6L501 722.6L499.8 722.7L498.6 722.8L497.4 722.8L496.2 722.9L495 723L493.8 723.1L492.7 723.2L491.5 723.3L490.4 723.4L489.2 723.6L488.1 723.7L486.9 723.8L485.8 724L484.7 724.1L483.6 724.3L482.5 724.4L481.4 724.6L480.3 724.8L479.2 725L478.2 725.1L477.2 725.3L481.3 727.7L485.8 729.9L490.4 732.1L495.4 734.2L500.6 736.2L506.1 738.1Z" fill="#00ff40" stroke="#00ff40"/>
<path d="M511.9 739.9L511.9 739.9L511.9 739.9L511.9 739.9L511.9 739.9L511.9 739.9L511.9 739.9L511.9 739.9L511.9 739.9L511.9 739.9L511.9 739.9L511.9 739.9L511.9 739.9L511.9 739.9L511.9 739.9L511.9 739.9L511.9 739.9L511.9 739.9L511.9 739.9L511.9 739.9L511.9 739.9L511.9 739.9L511.9 739.9L511.9 739.9L511.9 739.9L511.9 739.9L511.9 739.9L511.9 739.9L511.9 739.9L511.9 739.9L511.9 739.9L517.7 738.1L523.2 736.2L528.4 734.2L533.4 732.1L538 729.9L542.5 727.7L546.6 725.3L545.6 725.1L544.6 725L543.5 724.8L542.4 724.6L541.3 724.4L540.2 724.3L539.1 724.1L538 724L536.9 723.8L535.7 723.7L534.6 723.6L533.4 723.4L532.3 723.3L531.1 723.2L530 723.1L528.8 723L527.6 722.9L526.4 722.8L525.2 722.8L524 722.7L522.8 722.6L521.6 722.6L520.4 722.5L519.2 722.5L518 722.5L516.8 722.4L515.6 722.4L514.3 722.4L513.1 722.4L511.9 722.4L511.9 724.9L511.9 727.4L511.9 729.9L511.9 732.4L511.9 734.9L511.9 737.4Z" fill="#00ff40" stroke="#00ff40"/>
<path d="M511.9 739.9L511.9 739.9L511.9 739.9L511.9 739.9L511.9 739.9L511.9 739.9L511.9 739.9L511.9 739.9L511.9 739.9L511.9 739.9L511.9 739.9L511.9 739.9L511.9 739.9L511.9 739.9L511.9 739.9L511.9 739.9L511.9 739.9L511.9 739.9L511.9 739.9L511.9 739.9L511.9 739.9L511.9 739.9L511.9 739.9L511.9 739.9L511.9 739.9L511.9 739.9L511.9 739.9L511.9 739.9L511.9 739.9L511.9 739.9L511.9 739.9L520.3 739.8L528.7 739.5L537 739L545.2 738.2L553.4 737.2L561.4 736L569.2 734.6L568.8 734.2L568.4 733.8L568 733.4L567.5 733L567 732.6L566.4 732.2L565.9 731.9L565.3 731.5L564.7 731.1L564 730.8L563.3 730.5L562.6 730.1L561.9 729.8L561.2 729.5L560.4 729.2L559.6 728.9L558.8 728.6L558 728.3L557.1 728L556.3 727.7L555.4 727.4L554.5 727.2L553.5 726.9L552.6 726.7L551.7 726.4L550.7 726.2L549.7 726L548.7 725.8L547.7 725.6L546.6 725.3L542.5 727.7L538 729.9L533.4 732.1L528.4 734.2L523.2 736.2L517.7 738.1Z" fill="#00ff40" stroke="#00ff40"/>
<path d="M406 619.9L407.3 620.5L408.6 621.1L409.9 621.6L411.3 622.2L412.7 622.7L414.1 623.2L415.5 623.6L417 624.1L418.5 624.6L420.1 625L421.6 625.4L423.2 625.9L424.8 626.3L426.4 626.6L428 627L432.2 624.3L436.7 621.7L441.5 619.2L446.5 616.8L451.9 614.5L457.5 612.2L463.4 610.1L462.6 609.8L461.9 609.5L461.2 609.2L460.5 608.8L459.8 608.5L459.1 608.2L458.5 607.8L457.9 607.4L457.4 607.1L456.8 606.7L456.3 606.3L455.8 605.9L455.4 605.5L455 605.1L454.6 604.7L446.9 606.3L439.5 608.1L432.2 610.1L425.2 612.3L418.5 614.7L412.1 617.2Z" fill="#00ff30" stroke="#00ff30"/>
<path d="M428 627L429.7 627.4L431.3 627.7L433 628.1L434.7 628.4L436.4 628.7L438.1 629L439.9 629.3L441.6 629.6L443.4 629.9L445.2 630.2L447 630.4L448.8 630.7L450.6 630.9L452.4 631.2L454.3 631.4L456.9 628.8L459.7 626.2L462.8 623.7L466 621.2L469.5 618.7L473.2 616.3L477.2 614L476.1 613.7L475.1 613.5L474.1 613.3L473.1 613.1L472.1 612.9L471.2 612.6L470.3 612.4L469.3 612.1L468.4 611.9L467.5 611.6L466.7 611.3L465.8 611L465 610.7L464.2 610.4L463.4 610.1L457.5 612.2L451.9 614.5L446.5 616.8L441.5 619.2L436.7 621.7L432.2 624.3Z" fill="#00ff40" stroke="#00ff40"/>
<path d="M454.3 631.4L456.1 631.6L458 631.8L459.8 632L461.7 632.2L463.6 632.4L465.4 632.5L467.3 632.7L469.2 632.9L471.1 633L473 633.2L474.9 633.3L476.9 633.4L478.8 633.5L480.7 633.6L482.6 633.8L483.9 631.2L485.3 628.7L486.8 626.2L488.3 623.7L490.1 621.2L491.9 618.7L493.8 616.2L492.7 616.1L491.5 616L490.4 615.9L489.2 615.7L488.1 615.6L486.9 615.5L485.8 615.3L484.7 615.2L483.6 615L482.5 614.9L481.4 614.7L480.3 614.5L479.2 614.3L478.2 614.2L477.2 614L473.2 616.3L469.5 618.7L466 621.2L462.8 623.7L459.7 626.2L456.9 628.8Z" fill="#00ff50" stroke="#00ff50"/>
<path d="M482.6 633.8L484.6 633.8L486.5 633.9L488.4 634L490.4 634.1L492.3 634.2L494.3 634.2L496.2 634.3L498.2 634.3L500.1 634.4L502.1 634.4L504.1 634.4L506 634.5L508 634.5L509.9 634.5L511.9 634.5L511.9 632L511.9 629.5L511.9 627L511.9 624.5L511.9 621.9L511.9 619.4L511.9 616.9L510.7 616.9L509.5 616.9L508.2 616.9L507 616.9L505.8 616.8L504.6 616.8L503.4 616.8L502.2 616.7L501 616.7L499.8 616.6L498.6 616.5L497.4 616.5L496.2 616.4L495 616.3L493.8 616.2L491.9 618.7L490.1 621.2L488.3 623.7L486.8 626.2L485.3 628.7L483.9 631.2Z" fill="#00f000" stroke="#00f000"/>
<path d="M511.9 634.5L513.9 634.5L515.8 634.5L517.8 634.5L519.7 634.4L521.7 634.4L523.7 634.4L525.6 634.3L527.6 634.3L529.5 634.2L531.5 634.2L533.4 634.1L535.4 634L537.3 633.9L539.2 633.8L541.2 633.8L539.9 631.2L538.5 628.7L537 626.2L535.5 623.7L533.7 621.2L531.9 618.7L530 616.2L528.8 616.3L527.6 616.4L526.4 616.5L525.2 616.5L524 616.6L522.8 616.7L521.6 616.7L520.4 616.8L519.2 616.8L518 616.8L516.8 616.9L515.6 616.9L514.3 616.9L513.1 616.9L511.9 616.9L511.9 619.4L511.9 621.9L511.9 624.5L511.9 627L511.9 629.5L511.9 632Z" fill="#20f800" stroke="#20f800"/>
<path d="M541.2 633.8L543.1 633.6L545 633.5L546.9 633.4L548.9 633.3L550.8 633.2L552.7 633L554.6 632.9L556.5 632.7L558.4 632.5L560.2 632.4L562.1 632.2L564 632L565.8 631.8L567.7 631.6L569.5 631.4L566.9 628.8L564.1 626.2L561 623.7L557.8 621.2L554.3 618.7L550.6 616.3L546.6 614L545.6 614.2L544.6 614.3L543.5 614.5L542.4 614.7L541.3 614.9L540.2 615L539.1 615.2L538 615.3L536.9 615.5L535.7 615.6L534.6 615.7L533.4 615.9L532.3 616L531.1 616.1L530 616.2L531.9 618.7L533.7 621.2L535.5 623.7L537 626.2L538.5 628.7L539.9 631.2Z" fill="#00ff30" stroke="#00ff30"/>
<path d="M569.5 631.4L571.4 631.2L573.2 630.9L575 630.7L576.8 630.4L578.6 630.2L580.4 629.9L582.2 629.6L583.9 629.3L585.7 629L587.4 628.7L589.1 628.4L590.8 628.1L592.5 627.7L594.1 627.4L595.8 627L591.6 624.3L587.1 621.7L582.3 619.2L577.3 616.8L571.9 614.5L566.3 612.2L560.4 610.1L559.6 610.4L558.8 610.7L558 611L557.1 611.3L556.3 611.6L555.4 611.9L554.5 612.1L553.5 612.4L552.6 612.6L551.7 612.9L550.7 613.1L549.7 613.3L548.7 613.5L547.7 613.7L546.6 614L550.6 616.3L554.3 618.7L557.8 621.2L561 623.7L564.1 626.2L566.9 628.8Z" fill="#00ff40" stroke="#00ff40"/>
<path d="M595.8 627L597.4 626.6L599 626.3L600.6 625.9L602.2 625.4L603.7 625L605.3 624.6L606.8 624.1L608.3 623.6L609.7 623.2L611.1 622.7L612.5 622.2L613.9 621.6L615.2 621.1L616.5 620.5L617.8 619.9L611.7 617.2L605.3 614.7L598.6 612.3L591.6 610.1L584.3 608.1L576.9 606.3L569.2 604.7L568.8 605.1L568.4 605.5L568 605.9L567.5 606.3L567 606.7L566.4 607.1L565.9 607.4L565.3 607.8L564.7 608.2L564 608.5L563.3 608.8L562.6 609.2L561.9 609.5L561.2 609.8L560.4 610.1L566.3 612.2L571.9 614.5L577.3 616.8L582.3 619.2L587.1 621.7L591.6 624.3Z" fill="#00ff30" stroke="#00ff30"/>
<path d="M454.6 734.6L455 734.2L455.4 733.8L455.8 733.4L456.3 733L456.8 732.6L457.4 732.2L457.9 731.9L458.5 731.5L459.1 731.1L459.8 730.8L460.5 730.5L461.2 730.1L461.9 729.8L462.6 729.5L463.4 729.2L457.5 727.1L451.9 724.8L446.5 722.5L441.5 720.1L436.7 717.6L432.2 715L428 712.3L426.4 712.7L424.8 713L423.2 713.4L421.6 713.9L420.1 714.3L418.5 714.7L417 715.2L415.5 715.7L414.1 716.1L412.7 716.6L411.3 717.1L409.9 717.7L408.6 718.2L407.3 718.8L406 719.4L412.1 722.1L418.5 724.6L425.2 727L432.2 729.2L439.5 731.2L446.9 733Z" fill="#00f020" stroke="#00f020"/>
<path d="M463.4 729.2L464.2 728.9L465 728.6L465.8 728.3L466.7 728L467.5 727.7L468.4 727.4L469.3 727.2L470.3 726.9L471.2 726.7L472.1 726.4L473.1 726.2L474.1 726L475.1 725.8L476.1 725.6L477.2 725.3L473.2 723L469.5 720.6L466 718.1L462.8 715.6L459.7 713.1L456.9 710.5L454.3 707.9L452.4 708.1L450.6 708.4L448.8 708.6L447 708.9L445.2 709.1L443.4 709.4L441.6 709.7L439.9 710L438.1 710.3L436.4 710.6L434.7 710.9L433 711.2L431.3 711.6L429.7 711.9L428 712.3L432.2 715L436.7 717.6L441.5 720.1L446.5 722.5L451.9 724.8L457.5 727.1Z" fill="#00ff40" stroke="#00ff40"/>
<path d="M477.2 725.3L478.2 725.1L479.2 725L480.3 724.8L481.4 724.6L482.5 724.4L483.6 724.3L484.7 724.1L485.8 724L486.9 723.8L488.1 723.7L489.2 723.6L490.4 723.4L491.5 723.3L492.7 723.2L493.8 723.1L491.9 720.6L490.1 718.1L488.3 715.6L486.8 713.1L485.3 710.6L483.9 708.1L482.6 705.5L480.7 705.7L478.8 705.8L476.9 705.9L474.9 706L473 706.1L471.1 706.3L469.2 706.4L467.3 706.6L465.4 706.8L463.6 706.9L461.7 707.1L459.8 707.3L458 707.5L456.1 707.7L454.3 707.9L456.9 710.5L459.7 713.1L462.8 715.6L466 718.1L469.5 720.6L473.2 723Z" fill="#00ff50" stroke="#00ff50"/>
<path d="M493.8 723.1L495 723L496.2 722.9L497.4 722.8L498.6 722.8L499.8 722.7L501 722.6L502.2 722.6L503.4 722.5L504.6 722.5L505.8 722.5L507 722.4L508.2 722.4L509.5 722.4L510.7 722.4L511.9 722.4L511.9 719.9L511.9 717.4L511.9 714.8L511.9 712.3L511.9 709.8L511.9 707.3L511.9 704.8L509.9 704.8L508 704.8L506 704.8L504.1 704.9L502.1 704.9L500.1 704.9L498.2 705L496.2 705L494.3 705.1L492.3 705.1L490.4 705.2L488.4 705.3L486.5 705.4L484.6 705.5L482.6 705.5L483.9 708.1L485.3 710.6L486.8 713.1L488.3 715.6L490.1 718.1L491.9 720.6Z" fill="#00f000" stroke="#00f000"/>
<path d="M511.9 722.4L513.1 722.4L514.3 722.4L515.6 722.4L516.8 722.4L518 722.5L519.2 722.5L520.4 722.5L521.6 722.6L522.8 722.6L524 722.7L525.2 722.8L526.4 722.8L527.6 722.9L528.8 723L530 723.1L531.9 720.6L533.7 718.1L535.5 715.6L537 713.1L538.5 710.6L539.9 708.1L541.2 705.5L539.2 705.5L537.3 705.4L535.4 705.3L533.4 705.2L531.5 705.1L529.5 705.1L527.6 705L525.6 705L523.7 704.9L521.7 704.9L519.7 704.9L517.8 704.8L515.8 704.8L513.9 704.8L511.9 704.8L511.9 707.3L511.9 709.8L511.9 712.3L511.9 714.8L511.9 717.4L511.9 719.9Z" fill="#10f800" stroke="#10f800"/>
<path d="M530 723.1L531.1 723.2L532.3 723.3L533.4 723.4L534.6 723.6L535.7 723.7L536.9 723.8L538 724L539.1 724.1L540.2 724.3L541.3 724.4L542.4 724.6L543.5 724.8L544.6 725L545.6 725.1L546.6 725.3L550.6 723L554.3 720.6L557.8 718.1L561 715.6L564.1 713.1L566.9 710.5L569.5 707.9L567.7 707.7L565.8 707.5L564 707.3L562.1 707.1L560.2 706.9L558.4 706.8L556.5 706.6L554.6 706.4L552.7 706.3L550.8 706.1L548.9 706L546.9 705.9L545 705.8L543.1 705.7L541.2 705.5L539.9 708.1L538.5 710.6L537 713.1L535.5 715.6L533.7 718.1L531.9 720.6Z" fill="#00ff30" stroke="#00ff30"/>
<path d="M546.6 725.3L547.7 725.6L548.7 725.8L549.7 726L550.7 726.2L551.7 726.4L552.6 726.7L553.5 726.9L554.5 727.2L555.4 727.4L556.3 727.7L557.1 728L558 728.3L558.8 728.6L559.6 728.9L560.4 729.2L566.3 727.1L571.9 724.8L577.3 722.5L582.3 720.1L587.1 717.6L591.6 715L595.8 712.3L594.1 711.9L592.5 711.6L590.8 711.2L589.1 710.9L587.4 710.6L585.7 710.3L583.9 710L582.2 709.7L580.4 709.4L578.6 709.1L576.8 708.9L575 708.6L573.2 708.4L571.4 708.1L569.5 707.9L566.9 710.5L564.1 713.1L561 715.6L557.8 718.1L554.3 720.6L550.6 723Z" fill="#00f010" stroke="#00f010"/>
<path d="M560.4 729.2L561.2 729.5L561.9 729.8L562.6 730.1L563.3 730.5L564 730.8L564.7 731.1L565.3 731.5L565.9 731.9L566.4 732.2L567 732.6L567.5 733L568 733.4L568.4 733.8L568.8 734.2L569.2 734.6L576.9 733L584.3 731.2L591.6 729.2L598.6 727L605.3 724.6L611.7 722.1L617.8 719.4L616.5 718.8L615.2 718.2L613.9 717.7L612.5 717.1L611.1 716.6L609.7 716.1L608.3 715.7L606.8 715.2L605.3 714.7L603.7 714.3L602.2 713.9L600.6 713.4L599 713L597.4 712.7L595.8 712.3L591.6 715L587.1 717.6L582.3 720.1L577.3 722.5L571.9 724.8L566.3 727.1Z" fill="#00ff30" stroke="#00ff30"/>
<path d="M373.5 642.7L375.8 643.2L378.1 643.6L380.5 644L382.8 644.4L385.1 644.8L387.5 645.1L389.9 645.5L392.6 642.2L395.7 638.9L399.1 635.7L402.9 632.6L407 629.6L411.5 626.7L416.3 623.9L414.7 623.4L413.2 622.8L411.7 622.3L410.2 621.7L408.8 621.2L407.4 620.6L406 619.9L400.2 622.8L394.8 625.8L389.8 629L385.1 632.2L380.8 635.6L377 639.1Z" fill="#d8ff00" stroke="#d8ff00"/>
<path d="M389.9 645.5L392.2 645.8L394.6 646.1L397 646.4L399.4 646.7L401.8 647L404.3 647.2L406.7 647.5L408.9 644.4L411.3 641.4L414.1 638.4L417.1 635.5L420.5 632.6L424.1 629.8L428 627L426.3 626.6L424.5 626.2L422.8 625.8L421.2 625.3L419.5 624.9L417.9 624.4L416.3 623.9L411.5 626.7L407 629.6L402.9 632.6L399.1 635.7L395.7 638.9L392.6 642.2Z" fill="#a0ff00" stroke="#a0ff00"/>
<path d="M406.7 647.5L409.1 647.8L411.6 648L414 648.2L416.5 648.4L418.9 648.7L421.4 648.9L423.9 649.1L425.6 646.2L427.5 643.3L429.7 640.5L432.1 637.7L434.7 634.9L437.6 632.2L440.8 629.5L438.9 629.2L437 628.8L435.2 628.5L433.4 628.2L431.6 627.8L429.8 627.4L428 627L424.1 629.8L420.5 632.6L417.1 635.5L414.1 638.4L411.3 641.4L408.9 644.4Z" fill="#00ff40" stroke="#00ff40"/>
<path d="M423.9 649.1L426.3 649.2L428.8 649.4L431.3 649.6L433.8 649.8L436.3 649.9L438.8 650.1L441.2 650.2L442.6 647.5L444 644.7L445.7 642L447.6 639.3L449.6 636.7L451.8 634L454.3 631.4L452.3 631.1L450.3 630.9L448.4 630.6L446.5 630.4L444.6 630.1L442.7 629.8L440.8 629.5L437.6 632.2L434.7 634.9L432.1 637.7L429.7 640.5L427.5 643.3L425.6 646.2Z" fill="#00ff60" stroke="#00ff60"/>
<path d="M441.2 650.2L443.7 650.4L446.2 650.5L448.8 650.6L451.3 650.7L453.8 650.9L456.3 651L458.8 651.1L459.7 648.4L460.8 645.8L462 643.2L463.4 640.6L464.9 638L466.5 635.4L468.3 632.8L466.2 632.6L464.2 632.4L462.2 632.2L460.2 632L458.2 631.8L456.2 631.6L454.3 631.4L451.8 634L449.6 636.7L447.6 639.3L445.7 642L444 644.7L442.6 647.5Z" fill="#00ff50" stroke="#00ff50"/>
<path d="M458.8 651.1L461.3 651.2L463.8 651.3L466.4 651.3L468.9 651.4L471.4 651.5L473.9 651.6L476.4 651.6L477.1 649.1L477.8 646.5L478.6 643.9L479.4 641.4L480.4 638.8L481.5 636.3L482.6 633.8L480.6 633.6L478.5 633.5L476.4 633.4L474.4 633.2L472.3 633.1L470.3 632.9L468.3 632.8L466.5 635.4L464.9 638L463.4 640.6L462 643.2L460.8 645.8L459.7 648.4Z" fill="#00ff40" stroke="#00ff40"/>
<path d="M476.4 651.6L479 651.7L481.5 651.8L484 651.8L486.6 651.9L489.1 651.9L491.6 651.9L494.2 652L494.5 649.4L494.8 646.9L495.2 644.4L495.6 641.9L496.1 639.4L496.6 636.8L497.2 634.3L495.1 634.3L493 634.2L490.9 634.1L488.9 634L486.8 634L484.7 633.9L482.6 633.8L481.5 636.3L480.4 638.8L479.4 641.4L478.6 643.9L477.8 646.5L477.1 649.1Z" fill="#80ff00" stroke="#80ff00"/>
<path d="M494.2 652L496.7 652L499.2 652L501.8 652L504.3 652.1L506.8 652.1L509.4 652.1L511.9 652.1L511.9 649.6L511.9 647.1L511.9 644.5L511.9 642L511.9 639.5L511.9 637L511.9 634.5L509.8 634.5L507.7 634.5L505.6 634.5L503.5 634.4L501.4 634.4L499.3 634.4L497.2 634.3L496.6 636.8L496.1 639.4L495.6 641.9L495.2 644.4L494.8 646.9L494.5 649.4Z" fill="#c0ff00" stroke="#c0ff00"/>
<path d="M511.9 652.1L514.4 652.1L517 652.1L519.5 652.1L522 652L524.6 652L527.1 652L529.6 652L529.3 649.4L529 646.9L528.6 644.4L528.2 641.9L527.7 639.4L527.2 636.8L526.6 634.3L524.5 634.4L522.4 634.4L520.3 634.4L518.2 634.5L516.1 634.5L514 634.5L511.9 634.5L511.9 637L511.9 639.5L511.9 642L511.9 644.5L511.9 647.1L511.9 649.6Z" fill="#c0ff00" stroke="#c0ff00"/>
<path d="M529.6 652L532.2 651.9L534.7 651.9L537.2 651.9L539.8 651.8L542.3 651.8L544.8 651.7L547.4 651.6L546.7 649.1L546 646.5L545.2 643.9L544.4 641.4L543.4 638.8L542.3 636.3L541.2 633.8L539.1 633.9L537 634L534.9 634L532.9 634.1L530.8 634.2L528.7 634.3L526.6 634.3L527.2 636.8L527.7 639.4L528.2 641.9L528.6 644.4L529 646.9L529.3 649.4Z" fill="#90ff00" stroke="#90ff00"/>
<path d="M547.4 651.6L549.9 651.6L552.4 651.5L554.9 651.4L557.4 651.3L560 651.3L562.5 651.2L565 651.1L564.1 648.4L563 645.8L561.8 643.2L560.4 640.6L558.9 638L557.3 635.4L555.5 632.8L553.5 632.9L551.5 633.1L549.4 633.2L547.4 633.4L545.3 633.5L543.2 633.6L541.2 633.8L542.3 636.3L543.4 638.8L544.4 641.4L545.2 643.9L546 646.5L546.7 649.1Z" fill="#30ff00" stroke="#30ff00"/>
<path d="M565 651.1L567.5 651L570 650.9L572.5 650.7L575 650.6L577.6 650.5L580.1 650.4L582.6 650.2L581.2 647.5L579.8 644.7L578.1 642L576.2 639.3L574.2 636.7L572 634L569.5 631.4L567.6 631.6L565.6 631.8L563.6 632L561.6 632.2L559.6 632.4L557.6 632.6L555.5 632.8L557.3 635.4L558.9 638L560.4 640.6L561.8 643.2L563 645.8L564.1 648.4Z" fill="#00ff30" stroke="#00ff30"/>
<path d="M582.6 650.2L585 650.1L587.5 649.9L590 649.8L592.5 649.6L595 649.4L597.5 649.2L599.9 649.1L598.2 646.2L596.3 643.3L594.1 640.5L591.7 637.7L589.1 634.9L586.2 632.2L583 629.5L581.1 629.8L579.2 630.1L577.3 630.4L575.4 630.6L573.5 630.9L571.5 631.1L569.5 631.4L572 634L574.2 636.7L576.2 639.3L578.1 642L579.8 644.7L581.2 647.5Z" fill="#00ff50" stroke="#00ff50"/>
<path d="M599.9 649.1L602.4 648.9L604.9 648.7L607.3 648.4L609.8 648.2L612.2 648L614.7 647.8L617.1 647.5L614.9 644.4L612.5 641.4L609.7 638.4L606.7 635.5L603.3 632.6L599.7 629.8L595.8 627L594 627.4L592.2 627.8L590.4 628.2L588.6 628.5L586.8 628.8L584.9 629.2L583 629.5L586.2 632.2L589.1 634.9L591.7 637.7L594.1 640.5L596.3 643.3L598.2 646.2Z" fill="#00ff30" stroke="#00ff30"/>
<path d="M617.1 647.5L619.5 647.2L622 647L624.4 646.7L626.8 646.4L629.2 646.1L631.6 645.8L633.9 645.5L631.2 642.2L628.1 638.9L624.7 635.7L620.9 632.6L616.8 629.6L612.3 626.7L607.5 623.9L605.9 624.4L604.3 624.9L602.6 625.3L601 625.8L599.3 626.2L597.5 626.6L595.8 627L599.7 629.8L603.3 632.6L606.7 635.5L609.7 638.4L612.5 641.4L614.9 644.4Z" fill="#20f000" stroke="#20f000"/>
<path d="M633.9 645.5L636.3 645.1L638.7 644.8L641 644.4L643.3 644L645.7 643.6L648 643.2L650.3 642.7L646.8 639.1L643 635.6L638.7 632.2L634 629L629 625.8L623.6 622.8L617.8 619.9L616.4 620.6L615 621.2L613.6 621.7L612.1 622.3L610.6 622.8L609.1 623.4L607.5 623.9L612.3 626.7L616.8 629.6L620.9 632.6L624.7 635.7L628.1 638.9L631.2 642.2Z" fill="#a0ff00" stroke="#a0ff00"/>
<path d="M362.1 669.6L364.8 669.6L367.5 669.6L370.2 669.6L372.8 669.6L375.5 669.6L378.2 669.6L380.9 669.6L381.1 666.1L381.6 662.6L382.5 659.1L383.8 655.7L385.5 652.2L387.5 648.8L389.9 645.5L387.5 645.1L385.1 644.8L382.8 644.4L380.5 644L378.1 643.6L375.8 643.2L373.5 642.7L370.6 646.4L368 650.2L365.9 654L364.3 657.9L363.1 661.8L362.4 665.7Z" fill="#ffec00" stroke="#ffec00"/>
<path d="M380.9 669.6L383.5 669.6L386.2 669.6L388.9 669.6L391.6 669.6L394.2 669.6L396.9 669.6L399.6 669.6L399.7 666.4L400.2 663.3L400.9 660.1L401.9 656.9L403.2 653.7L404.8 650.6L406.7 647.5L404.3 647.2L401.8 647L399.4 646.7L397 646.4L394.6 646.1L392.2 645.8L389.9 645.5L387.5 648.8L385.5 652.2L383.8 655.7L382.5 659.1L381.6 662.6L381.1 666.1Z" fill="#c8ff00" stroke="#c8ff00"/>
<path d="M399.6 669.6L402.3 669.6L404.9 669.6L407.6 669.6L410.3 669.6L413 669.6L415.6 669.6L418.3 669.6L418.4 666.7L418.8 663.7L419.3 660.8L420.1 657.8L421.1 654.9L422.4 652L423.9 649.1L421.4 648.9L418.9 648.7L416.5 648.4L414 648.2L411.6 648L409.1 647.8L406.7 647.5L404.8 650.6L403.2 653.7L401.9 656.9L400.9 660.1L400.2 663.3L399.7 666.4Z" fill="#00ff30" stroke="#00ff30"/>
<path d="M418.3 669.6L421 669.6L423.7 669.6L426.3 669.6L429 669.6L431.7 669.6L434.4 669.6L437 669.6L437.1 666.9L437.4 664.1L437.8 661.3L438.4 658.5L439.2 655.7L440.1 653L441.2 650.2L438.8 650.1L436.3 649.9L433.8 649.8L431.3 649.6L428.8 649.4L426.3 649.2L423.9 649.1L422.4 652L421.1 654.9L420.1 657.8L419.3 660.8L418.8 663.7L418.4 666.7Z" fill="#00ff80" stroke="#00ff80"/>
<path d="M437 669.6L439.7 669.6L442.4 669.6L445 669.6L447.7 669.6L450.4 669.6L453.1 669.6L455.7 669.6L455.8 667L456 664.3L456.3 661.7L456.7 659L457.3 656.4L458 653.7L458.8 651.1L456.3 651L453.8 650.9L451.3 650.7L448.8 650.6L446.2 650.5L443.7 650.4L441.2 650.2L440.1 653L439.2 655.7L438.4 658.5L437.8 661.3L437.4 664.1L437.1 666.9Z" fill="#00ff50" stroke="#00ff50"/>
<path d="M455.7 669.6L458.4 669.6L461.1 669.6L463.8 669.6L466.4 669.6L469.1 669.6L471.8 669.6L474.5 669.6L474.5 667.1L474.6 664.5L474.8 661.9L475.1 659.3L475.5 656.8L475.9 654.2L476.4 651.6L473.9 651.6L471.4 651.5L468.9 651.4L466.4 651.3L463.8 651.3L461.3 651.2L458.8 651.1L458 653.7L457.3 656.4L456.7 659L456.3 661.7L456 664.3L455.8 667Z" fill="#00f020" stroke="#00f020"/>
<path d="M474.5 669.6L477.1 669.6L479.8 669.6L482.5 669.6L485.2 669.6L487.8 669.6L490.5 669.6L493.2 669.6L493.2 667.1L493.3 664.6L493.4 662.1L493.5 659.5L493.7 657L493.9 654.5L494.2 652L491.6 651.9L489.1 651.9L486.6 651.9L484 651.8L481.5 651.8L479 651.7L476.4 651.6L475.9 654.2L475.5 656.8L475.1 659.3L474.8 661.9L474.6 664.5L474.5 667.1Z" fill="#90ff00" stroke="#90ff00"/>
<path d="M493.2 669.6L495.9 669.6L498.5 669.6L501.2 669.6L503.9 669.6L506.6 669.6L509.2 669.6L511.9 669.6L511.9 667.1L511.9 664.6L511.9 662.1L511.9 659.6L511.9 657.1L511.9 654.6L511.9 652.1L509.4 652.1L506.8 652.1L504.3 652.1L501.8 652L499.2 652L496.7 652L494.2 652L493.9 654.5L493.7 657L493.5 659.5L493.4 662.1L493.3 664.6L493.2 667.1Z" fill="#f0ff00" stroke="#f0ff00"/>
<path d="M511.9 669.6L514.6 669.6L517.2 669.6L519.9 669.6L522.6 669.6L525.3 669.6L527.9 669.6L530.6 669.6L530.6 667.1L530.5 664.6L530.4 662.1L530.3 659.5L530.1 657L529.9 654.5L529.6 652L527.1 652L524.6 652L522 652L519.5 652.1L517 652.1L514.4 652.1L511.9 652.1L511.9 654.6L511.9 657.1L511.9 659.6L511.9 662.1L511.9 664.6L511.9 667.1Z" fill="#fff000" stroke="#fff000"/>
<path d="M530.6 669.6L533.3 669.6L536 669.6L538.6 669.6L541.3 669.6L544 669.6L546.7 669.6L549.3 669.6L549.3 667.1L549.2 664.5L549 661.9L548.7 659.3L548.3 656.8L547.9 654.2L547.4 651.6L544.8 651.7L542.3 651.8L539.8 651.8L537.2 651.9L534.7 651.9L532.2 651.9L529.6 652L529.9 654.5L530.1 657L530.3 659.5L530.4 662.1L530.5 664.6L530.6 667.1Z" fill="#d8ff00" stroke="#d8ff00"/>
<path d="M549.3 669.6L552 669.6L554.7 669.6L557.4 669.6L560 669.6L562.7 669.6L565.4 669.6L568.1 669.6L568 667L567.8 664.3L567.5 661.7L567.1 659L566.5 656.4L565.8 653.7L565 651.1L562.5 651.2L560 651.3L557.4 651.3L554.9 651.4L552.4 651.5L549.9 651.6L547.4 651.6L547.9 654.2L548.3 656.8L548.7 659.3L549 661.9L549.2 664.5L549.3 667.1Z" fill="#60ff00" stroke="#60ff00"/>
<path d="M568.1 669.6L570.7 669.6L573.4 669.6L576.1 669.6L578.8 669.6L581.4 669.6L584.1 669.6L586.8 669.6L586.7 666.9L586.4 664.1L586 661.3L585.4 658.5L584.6 655.7L583.7 653L582.6 650.2L580.1 650.4L577.6 650.5L575 650.6L572.5 650.7L570 650.9L567.5 651L565 651.1L565.8 653.7L566.5 656.4L567.1 659L567.5 661.7L567.8 664.3L568 667Z" fill="#00ff30" stroke="#00ff30"/>
<path d="M586.8 669.6L589.4 669.6L592.1 669.6L594.8 669.6L597.5 669.6L600.1 669.6L602.8 669.6L605.5 669.6L605.4 666.7L605 663.7L604.5 660.8L603.7 657.8L602.7 654.9L601.4 652L599.9 649.1L597.5 649.2L595 649.4L592.5 649.6L590 649.8L587.5 649.9L585 650.1L582.6 650.2L583.7 653L584.6 655.7L585.4 658.5L586 661.3L586.4 664.1L586.7 666.9Z" fill="#00ff50" stroke="#00ff50"/>
<path d="M605.5 669.6L608.2 669.6L610.8 669.6L613.5 669.6L616.2 669.6L618.9 669.6L621.5 669.6L624.2 669.6L624.1 666.4L623.6 663.3L622.9 660.1L621.9 656.9L620.6 653.7L619 650.6L617.1 647.5L614.7 647.8L612.2 648L609.8 648.2L607.3 648.4L604.9 648.7L602.4 648.9L599.9 649.1L601.4 652L602.7 654.9L603.7 657.8L604.5 660.8L605 663.7L605.4 666.7Z" fill="#00f010" stroke="#00f010"/>
<path d="M624.2 669.6L626.9 669.6L629.6 669.6L632.2 669.6L634.9 669.6L637.6 669.6L640.3 669.6L642.9 669.6L642.7 666.1L642.2 662.6L641.3 659.1L640 655.7L638.3 652.2L636.3 648.8L633.9 645.5L631.6 645.8L629.2 646.1L626.8 646.4L624.4 646.7L622 647L619.5 647.2L617.1 647.5L619 650.6L620.6 653.7L621.9 656.9L622.9 660.1L623.6 663.3L624.1 666.4Z" fill="#a0ff00" stroke="#a0ff00"/>
<path d="M642.9 669.6L645.6 669.6L648.3 669.6L651 669.6L653.6 669.6L656.3 669.6L659 669.6L661.6 669.6L661.4 665.7L660.7 661.8L659.5 657.9L657.9 654L655.8 650.2L653.2 646.4L650.3 642.7L648 643.2L645.7 643.6L643.3 644L641 644.4L638.7 644.8L636.3 645.1L633.9 645.5L636.3 648.8L638.3 652.2L640 655.7L641.3 659.1L642.2 662.6L642.7 666.1Z" fill="#fff000" stroke="#fff000"/>
<path d="M373.5 696.6L375.8 696.1L378.1 695.7L380.5 695.3L382.8 694.9L385.1 694.5L387.5 694.2L389.9 693.8L387.5 690.5L385.5 687.1L383.8 683.6L382.5 680.2L381.6 676.7L381.1 673.2L380.9 669.6L378.2 669.6L375.5 669.6L372.8 669.6L370.2 669.6L367.5 669.6L364.8 669.6L362.1 669.6L362.4 673.6L363.1 677.5L364.3 681.4L365.9 685.3L368 689.1L370.6 692.9Z" fill="#ffe000" stroke="#ffe000"/>
<path d="M389.9 693.8L392.2 693.5L394.6 693.2L397 692.9L399.4 692.6L401.8 692.3L404.3 692.1L406.7 691.8L404.8 688.7L403.2 685.6L401.9 682.4L400.9 679.2L400.2 676L399.7 672.9L399.6 669.6L396.9 669.6L394.2 669.6L391.6 669.6L388.9 669.6L386.2 669.6L383.5 669.6L380.9 669.6L381.1 673.2L381.6 676.7L382.5 680.2L383.8 683.6L385.5 687.1L387.5 690.5Z" fill="#d0ff00" stroke="#d0ff00"/>
<path d="M406.7 691.8L409.1 691.5L411.6 691.3L414 691.1L416.5 690.9L418.9 690.6L421.4 690.4L423.9 690.2L422.4 687.3L421.1 684.4L420.1 681.5L419.3 678.5L418.8 675.6L418.4 672.6L418.3 669.6L415.6 669.6L413 669.6L410.3 669.6L407.6 669.6L404.9 669.6L402.3 669.6L399.6 669.6L399.7 672.9L400.2 676L400.9 679.2L401.9 682.4L403.2 685.6L404.8 688.7Z" fill="#00ff30" stroke="#00ff30"/>
<path d="M423.9 690.2L426.3 690.1L428.8 689.9L431.3 689.7L433.8 689.5L436.3 689.4L438.8 689.2L441.2 689.1L440.1 686.3L439.2 683.6L438.4 680.8L437.8 678L437.4 675.2L437.1 672.4L437 669.6L434.4 669.6L431.7 669.6L429 669.6L426.3 669.6L423.7 669.6L421 669.6L418.3 669.6L418.4 672.6L418.8 675.6L419.3 678.5L420.1 681.5L421.1 684.4L422.4 687.3Z" fill="#00ff50" stroke="#00ff50"/>
<path d="M441.2 689.1L443.7 688.9L446.2 688.8L448.8 688.7L451.3 688.6L453.8 688.4L456.3 688.3L458.8 688.2L458 685.6L457.3 682.9L456.7 680.3L456.3 677.6L456 675L455.8 672.3L455.7 669.6L453.1 669.6L450.4 669.6L447.7 669.6L445 669.6L442.4 669.6L439.7 669.6L437 669.6L437.1 672.4L437.4 675.2L437.8 678L438.4 680.8L439.2 683.6L440.1 686.3Z" fill="#00ff50" stroke="#00ff50"/>
<path d="M458.8 688.2L461.3 688.1L463.8 688L466.4 688L468.9 687.9L471.4 687.8L473.9 687.7L476.4 687.7L475.9 685.1L475.5 682.5L475.1 680L474.8 677.4L474.6 674.8L474.5 672.2L474.5 669.6L471.8 669.6L469.1 669.6L466.4 669.6L463.8 669.6L461.1 669.6L458.4 669.6L455.7 669.6L455.8 672.3L456 675L456.3 677.6L456.7 680.3L457.3 682.9L458 685.6Z" fill="#00f020" stroke="#00f020"/>
<path d="M476.4 687.7L479 687.6L481.5 687.5L484 687.5L486.6 687.4L489.1 687.4L491.6 687.4L494.2 687.3L493.9 684.8L493.7 682.3L493.5 679.8L493.4 677.2L493.3 674.7L493.2 672.2L493.2 669.6L490.5 669.6L487.8 669.6L485.2 669.6L482.5 669.6L479.8 669.6L477.1 669.6L474.5 669.6L474.5 672.2L474.6 674.8L474.8 677.4L475.1 680L475.5 682.5L475.9 685.1Z" fill="#90ff00" stroke="#90ff00"/>
<path d="M494.2 687.3L496.7 687.3L499.2 687.3L501.8 687.3L504.3 687.2L506.8 687.2L509.4 687.2L511.9 687.2L511.9 684.7L511.9 682.2L511.9 679.7L511.9 677.2L511.9 674.7L511.9 672.2L511.9 669.6L509.2 669.6L506.6 669.6L503.9 669.6L501.2 669.6L498.5 669.6L495.9 669.6L493.2 669.6L493.2 672.2L493.3 674.7L493.4 677.2L493.5 679.8L493.7 682.3L493.9 684.8Z" fill="#f0ff00" stroke="#f0ff00"/>
<path d="M511.9 687.2L514.4 687.2L517 687.2L519.5 687.2L522 687.3L524.6 687.3L527.1 687.3L529.6 687.3L529.9 684.8L530.1 682.3L530.3 679.8L530.4 677.2L530.5 674.7L530.6 672.2L530.6 669.6L527.9 669.6L525.3 669.6L522.6 669.6L519.9 669.6L517.2 669.6L514.6 669.6L511.9 669.6L511.9 672.2L511.9 674.7L511.9 677.2L511.9 679.7L511.9 682.2L511.9 684.7Z" fill="#ffe800" stroke="#ffe800"/>
<path d="M529.6 687.3L532.2 687.4L534.7 687.4L537.2 687.4L539.8 687.5L542.3 687.5L544.8 687.6L547.4 687.7L547.9 685.1L548.3 682.5L548.7 680L549 677.4L549.2 674.8L549.3 672.2L549.3 669.6L546.7 669.6L544 669.6L541.3 669.6L538.6 669.6L536 669.6L533.3 669.6L530.6 669.6L530.6 672.2L530.5 674.7L530.4 677.2L530.3 679.8L530.1 682.3L529.9 684.8Z" fill="#f0ff00" stroke="#f0ff00"/>
<path d="M547.4 687.7L549.9 687.7L552.4 687.8L554.9 687.9L557.4 688L560 688L562.5 688.1L565 688.2L565.8 685.6L566.5 682.9L567.1 680.3L567.5 677.6L567.8 675L568 672.3L568.1 669.6L565.4 669.6L562.7 669.6L560 669.6L557.4 669.6L554.7 669.6L552 669.6L549.3 669.6L549.3 672.2L549.2 674.8L549 677.4L548.7 680L548.3 682.5L547.9 685.1Z" fill="#70ff00" stroke="#70ff00"/>
<path d="M565 688.2L567.5 688.3L570 688.4L572.5 688.6L575 688.7L577.6 688.8L580.1 688.9L582.6 689.1L583.7 686.3L584.6 683.6L585.4 680.8L586 678L586.4 675.2L586.7 672.4L586.8 669.6L584.1 669.6L581.4 669.6L578.8 669.6L576.1 669.6L573.4 669.6L570.7 669.6L568.1 669.6L568 672.3L567.8 675L567.5 677.6L567.1 680.3L566.5 682.9L565.8 685.6Z" fill="#00ff30" stroke="#00ff30"/>
<path d="M582.6 689.1L585 689.2L587.5 689.4L590 689.5L592.5 689.7L595 689.9L597.5 690.1L599.9 690.2L601.4 687.3L602.7 684.4L603.7 681.5L604.5 678.5L605 675.6L605.4 672.6L605.5 669.6L602.8 669.6L600.1 669.6L597.5 669.6L594.8 669.6L592.1 669.6L589.4 669.6L586.8 669.6L586.7 672.4L586.4 675.2L586 678L585.4 680.8L584.6 683.6L583.7 686.3Z" fill="#00ff50" stroke="#00ff50"/>
<path d="M599.9 690.2L602.4 690.4L604.9 690.6L607.3 690.9L609.8 691.1L612.2 691.3L614.7 691.5L617.1 691.8L619 688.7L620.6 685.6L621.9 682.4L622.9 679.2L623.6 676L624.1 672.9L624.2 669.6L621.5 669.6L618.9 669.6L616.2 669.6L613.5 669.6L610.8 669.6L608.2 669.6L605.5 669.6L605.4 672.6L605 675.6L604.5 678.5L603.7 681.5L602.7 684.4L601.4 687.3Z" fill="#00f010" stroke="#00f010"/>
<path d="M617.1 691.8L619.5 692.1L622 692.3L624.4 692.6L626.8 692.9L629.2 693.2L631.6 693.5L633.9 693.8L636.3 690.5L638.3 687.1L640 683.6L641.3 680.2L642.2 676.7L642.7 673.2L642.9 669.6L640.3 669.6L637.6 669.6L634.9 669.6L632.2 669.6L629.6 669.6L626.9 669.6L624.2 669.6L624.1 672.9L623.6 676L622.9 679.2L621.9 682.4L620.6 685.6L619 688.7Z" fill="#a0ff00" stroke="#a0ff00"/>
<path d="M633.9 693.8L636.3 694.2L638.7 694.5L641 694.9L643.3 695.3L645.7 695.7L648 696.1L650.3 696.6L653.2 692.9L655.8 689.1L657.9 685.3L659.5 681.4L660.7 677.5L661.4 673.6L661.6 669.6L659 669.6L656.3 669.6L653.6 669.6L651 669.6L648.3 669.6L645.6 669.6L642.9 669.6L642.7 673.2L642.2 676.7L641.3 680.2L640 683.6L638.3 687.1L636.3 690.5Z" fill="#ffe800" stroke="#ffe800"/>
<path d="M406 719.4L407.4 718.7L408.8 718.1L410.2 717.6L411.7 717L413.2 716.5L414.7 715.9L416.3 715.4L411.5 712.6L407 709.7L402.9 706.7L399.1 703.6L395.7 700.4L392.6 697.1L389.9 693.8L387.5 694.2L385.1 694.5L382.8 694.9L380.5 695.3L378.1 695.7L375.8 696.1L373.5 696.6L377 700.2L380.8 703.7L385.1 707.1L389.8 710.3L394.8 713.5L400.2 716.5Z" fill="#f0ff00" stroke="#f0ff00"/>
<path d="M416.3 715.4L417.9 714.9L419.5 714.4L421.2 714L422.8 713.5L424.5 713.1L426.3 712.7L428 712.3L424.1 709.5L420.5 706.7L417.1 703.8L414.1 700.9L411.3 697.9L408.9 694.9L406.7 691.8L404.3 692.1L401.8 692.3L399.4 692.6L397 692.9L394.6 693.2L392.2 693.5L389.9 693.8L392.6 697.1L395.7 700.4L399.1 703.6L402.9 706.7L407 709.7L411.5 712.6Z" fill="#a0ff00" stroke="#a0ff00"/>
<path d="M428 712.3L429.8 711.9L431.6 711.5L433.4 711.1L435.2 710.8L437 710.5L438.9 710.1L440.8 709.8L437.6 707.1L434.7 704.4L432.1 701.6L429.7 698.8L427.5 696L425.6 693.1L423.9 690.2L421.4 690.4L418.9 690.6L416.5 690.9L414 691.1L411.6 691.3L409.1 691.5L406.7 691.8L408.9 694.9L411.3 697.9L414.1 700.9L417.1 703.8L420.5 706.7L424.1 709.5Z" fill="#00ff40" stroke="#00ff40"/>
<path d="M440.8 709.8L442.7 709.5L444.6 709.2L446.5 708.9L448.4 708.7L450.3 708.4L452.3 708.2L454.3 707.9L451.8 705.3L449.6 702.6L447.6 700L445.7 697.3L444 694.6L442.6 691.8L441.2 689.1L438.8 689.2L436.3 689.4L433.8 689.5L431.3 689.7L428.8 689.9L426.3 690.1L423.9 690.2L425.6 693.1L427.5 696L429.7 698.8L432.1 701.6L434.7 704.4L437.6 707.1Z" fill="#00ff50" stroke="#00ff50"/>
<path d="M454.3 707.9L456.2 707.7L458.2 707.5L460.2 707.3L462.2 707.1L464.2 706.9L466.2 706.7L468.3 706.5L466.5 703.9L464.9 701.3L463.4 698.7L462 696.1L460.8 693.5L459.7 690.9L458.8 688.2L456.3 688.3L453.8 688.4L451.3 688.6L448.8 688.7L446.2 688.8L443.7 688.9L441.2 689.1L442.6 691.8L444 694.6L445.7 697.3L447.6 700L449.6 702.6L451.8 705.3Z" fill="#00ff50" stroke="#00ff50"/>
<path d="M468.3 706.5L470.3 706.4L472.3 706.2L474.4 706.1L476.4 705.9L478.5 705.8L480.6 705.7L482.6 705.5L481.5 703L480.4 700.5L479.4 697.9L478.6 695.4L477.8 692.8L477.1 690.2L476.4 687.7L473.9 687.7L471.4 687.8L468.9 687.9L466.4 688L463.8 688L461.3 688.1L458.8 688.2L459.7 690.9L460.8 693.5L462 696.1L463.4 698.7L464.9 701.3L466.5 703.9Z" fill="#20ff10" stroke="#20ff10"/>
<path d="M482.6 705.5L484.7 705.4L486.8 705.3L488.9 705.3L490.9 705.2L493 705.1L495.1 705L497.2 705L496.6 702.5L496.1 699.9L495.6 697.4L495.2 694.9L494.8 692.4L494.5 689.9L494.2 687.3L491.6 687.4L489.1 687.4L486.6 687.4L484 687.5L481.5 687.5L479 687.6L476.4 687.7L477.1 690.2L477.8 692.8L478.6 695.4L479.4 697.9L480.4 700.5L481.5 703Z" fill="#70ff00" stroke="#70ff00"/>
<path d="M497.2 705L499.3 704.9L501.4 704.9L503.5 704.9L505.6 704.8L507.7 704.8L509.8 704.8L511.9 704.8L511.9 702.3L511.9 699.8L511.9 697.3L511.9 694.8L511.9 692.2L511.9 689.7L511.9 687.2L509.4 687.2L506.8 687.2L504.3 687.2L501.8 687.3L499.2 687.3L496.7 687.3L494.2 687.3L494.5 689.9L494.8 692.4L495.2 694.9L495.6 697.4L496.1 699.9L496.6 702.5Z" fill="#d0ff00" stroke="#d0ff00"/>
<path d="M511.9 704.8L514 704.8L516.1 704.8L518.2 704.8L520.3 704.9L522.4 704.9L524.5 704.9L526.6 705L527.2 702.5L527.7 699.9L528.2 697.4L528.6 694.9L529 692.4L529.3 689.9L529.6 687.3L527.1 687.3L524.6 687.3L522 687.3L519.5 687.2L517 687.2L514.4 687.2L511.9 687.2L511.9 689.7L511.9 692.2L511.9 694.8L511.9 697.3L511.9 699.8L511.9 702.3Z" fill="#f0ff00" stroke="#f0ff00"/>
<path d="M526.6 705L528.7 705L530.8 705.1L532.9 705.2L534.9 705.3L537 705.3L539.1 705.4L541.2 705.5L542.3 703L543.4 700.5L544.4 697.9L545.2 695.4L546 692.8L546.7 690.2L547.4 687.7L544.8 687.6L542.3 687.5L539.8 687.5L537.2 687.4L534.7 687.4L532.2 687.4L529.6 687.3L529.3 689.9L529 692.4L528.6 694.9L528.2 697.4L527.7 699.9L527.2 702.5Z" fill="#a0ff00" stroke="#a0ff00"/>
<path d="M541.2 705.5L543.2 705.7L545.3 705.8L547.4 705.9L549.4 706.1L551.5 706.2L553.5 706.4L555.5 706.5L557.3 703.9L558.9 701.3L560.4 698.7L561.8 696.1L563 693.5L564.1 690.9L565 688.2L562.5 688.1L560 688L557.4 688L554.9 687.9L552.4 687.8L549.9 687.7L547.4 687.7L546.7 690.2L546 692.8L545.2 695.4L544.4 697.9L543.4 700.5L542.3 703Z" fill="#30ff00" stroke="#30ff00"/>
<path d="M555.5 706.5L557.6 706.7L559.6 706.9L561.6 707.1L563.6 707.3L565.6 707.5L567.6 707.7L569.5 707.9L572 705.3L574.2 702.6L576.2 700L578.1 697.3L579.8 694.6L581.2 691.8L582.6 689.1L580.1 688.9L577.6 688.8L575 688.7L572.5 688.6L570 688.4L567.5 688.3L565 688.2L564.1 690.9L563 693.5L561.8 696.1L560.4 698.7L558.9 701.3L557.3 703.9Z" fill="#00ff30" stroke="#00ff30"/>
<path d="M569.5 707.9L571.5 708.2L573.5 708.4L575.4 708.7L577.3 708.9L579.2 709.2L581.1 709.5L583 709.8L586.2 707.1L589.1 704.4L591.7 701.6L594.1 698.8L596.3 696L598.2 693.1L599.9 690.2L597.5 690.1L595 689.9L592.5 689.7L590 689.5L587.5 689.4L585 689.2L582.6 689.1L581.2 691.8L579.8 694.6L578.1 697.3L576.2 700L574.2 702.6L572 705.3Z" fill="#00ff40" stroke="#00ff40"/>
<path d="M583 709.8L584.9 710.1L586.8 710.5L588.6 710.8L590.4 711.1L592.2 711.5L594 711.9L595.8 712.3L599.7 709.5L603.3 706.7L606.7 703.8L609.7 700.9L612.5 697.9L614.9 694.9L617.1 691.8L614.7 691.5L612.2 691.3L609.8 691.1L607.3 690.9L604.9 690.6L602.4 690.4L599.9 690.2L598.2 693.1L596.3 696L594.1 698.8L591.7 701.6L589.1 704.4L586.2 707.1Z" fill="#00f010" stroke="#00f010"/>
<path d="M595.8 712.3L597.5 712.7L599.3 713.1L601 713.5L602.6 714L604.3 714.4L605.9 714.9L607.5 715.4L612.3 712.6L616.8 709.7L620.9 706.7L624.7 703.6L628.1 700.4L631.2 697.1L633.9 693.8L631.6 693.5L629.2 693.2L626.8 692.9L624.4 692.6L622 692.3L619.5 692.1L617.1 691.8L614.9 694.9L612.5 697.9L609.7 700.9L606.7 703.8L603.3 706.7L599.7 709.5Z" fill="#50f800" stroke="#50f800"/>
<path d="M607.5 715.4L609.1 715.9L610.6 716.5L612.1 717L613.6 717.6L615 718.1L616.4 718.7L617.8 719.4L623.6 716.5L629 713.5L634 710.3L638.7 707.1L643 703.7L646.8 700.2L650.3 696.6L648 696.1L645.7 695.7L643.3 695.3L641 694.9L638.7 694.5L636.3 694.2L633.9 693.8L631.2 697.1L628.1 700.4L624.7 703.6L620.9 706.7L616.8 709.7L612.3 712.6Z" fill="#e8ff00" stroke="#e8ff00"/>
</g><use href="#cf"/>
<use href="#grid" x="511.9" y="669.6"/>
<g class="lab"><text x="362.2" y="670.4">0</text><text x="380.9" y="670.4">22.50</text><text x="399.6" y="670.4">45</text><text x="418.3" y="670.4">67.50</text><text x="437" y="670.4">90</text><text x="455.7" y="670.4">112.50</text><text x="474.5" y="670.4">135</text><text x="493.2" y="670.4">157.50</text><text x="511.9" y="670.4">180</text><text x="530.6" y="670.4">202.50</text><text x="549.3" y="670.4">225</text><text x="568.1" y="670.4">247.50</text><text x="586.8" y="670.4">270</text><text x="605.5" y="670.4">292.50</text><text x="624.2" y="670.4">315</text><text x="642.9" y="670.4">337.50</text><text x="454.6" y="606">67.50</text><text x="406" y="621.2">45</text><text x="373.5" y="644">22.50</text><text x="373.5" y="697.9">−22.50</text><text x="406" y="720.7">−45</text><text x="454.6" y="735.9">−67.50</text><text x="511.9" y="601.4" style="font-size:4.3px">90</text><text x="511.9" y="740.2" style="font-size:4.3px">−90</text></g>
<path d="M511.3 668.8l2.2 1.6l-1.5 0.2l-0.5 1.3z" fill="#303030" opacity="0.8"/>
<rect x="669.3" y="598.9" width="8.3" height="141.6" fill="url(#cb)" stroke="#222" stroke-width="0.4"/>
<text x="680.5" y="604" class="cbl">10<tspan dy="-2.6" font-size="4.6">6</tspan></text>
<text x="680.5" y="649.6" class="cbl">10<tspan dy="-2.6" font-size="4.6">5</tspan></text>
<text x="680.5" y="695.3" class="cbl">10<tspan dy="-2.6" font-size="4.6">4</tspan></text>
<text x="680.5" y="740.9" class="cbl">10<tspan dy="-2.6" font-size="4.6">3</tspan></text>
<text transform="translate(699.2 671.3) rotate(-90)" class="efl">EFlux</text>
<text transform="translate(667.5 739.9) rotate(-90)" class="stamp" textLength="47" lengthAdjust="spacing">Mon Feb  1 14:59:42 2021</text>
<text x="2.2" y="757.6" class="ttl">g) 777 eV/q ions, GSE longitudes = [280,281]<tspan font-size="7.5" dy="-0.6">°</tspan></text>
<rect x="1" y="762.1" width="305.6" height="142" fill="#000"/>
<g id="cg" stroke-width="0.45" stroke-linejoin="round">
<path d="M153.8 797.7L155.8 797.7L157.8 797.7L159.7 797.7L161.7 797.6L163.6 797.6L165.6 797.6L167.6 797.5L169.5 797.5L171.5 797.4L173.4 797.4L175.4 797.3L177.3 797.2L179.2 797.1L181.2 797L183.1 797L181.8 794.4L180.5 791.9L179 789.4L177.4 786.9L175.7 784.4L173.9 781.9L171.9 779.4L170.7 779.5L169.5 779.6L168.4 779.7L167.2 779.7L166 779.8L164.8 779.9L163.6 779.9L162.4 780L161.1 780L159.9 780L158.7 780.1L157.5 780.1L156.3 780.1L155.1 780.1L153.8 780.1L153.8 782.6L153.8 785.1L153.8 787.7L153.8 790.2L153.8 792.7L153.8 795.2Z" fill="#1000f0" stroke="#1000f0"/>
<path d="M136.1 815.2L138.6 815.2L141.2 815.2L143.7 815.2L146.2 815.3L148.8 815.3L151.3 815.3L153.8 815.3L153.8 812.8L153.8 810.3L153.8 807.7L153.8 805.2L153.8 802.7L153.8 800.2L153.8 797.7L151.7 797.7L149.6 797.7L147.6 797.7L145.5 797.6L143.4 797.6L141.3 797.6L139.2 797.5L138.6 800L138.1 802.6L137.6 805.1L137.1 807.6L136.8 810.1L136.4 812.6Z" fill="#00e8ff" stroke="#00e8ff"/>
<path d="M153.8 815.3L156.4 815.3L158.9 815.3L161.5 815.3L164 815.2L166.5 815.2L169.1 815.2L171.6 815.2L171.3 812.6L170.9 810.1L170.6 807.6L170.1 805.1L169.6 802.6L169.1 800L168.5 797.5L166.4 797.6L164.3 797.6L162.2 797.6L160.1 797.7L158.1 797.7L156 797.7L153.8 797.7L153.8 800.2L153.8 802.7L153.8 805.2L153.8 807.7L153.8 810.3L153.8 812.8Z" fill="#40ff00" stroke="#40ff00"/>
<path d="M171.6 815.2L174.1 815.1L176.7 815.1L179.2 815.1L181.7 815L184.2 815L186.8 814.9L189.3 814.8L188.7 812.3L188 809.7L187.2 807.1L186.3 804.6L185.3 802L184.3 799.5L183.1 797L181 797.1L179 797.2L176.9 797.2L174.8 797.3L172.7 797.4L170.6 797.5L168.5 797.5L169.1 800L169.6 802.6L170.1 805.1L170.6 807.6L170.9 810.1L171.3 812.6Z" fill="#180018" stroke="#180018"/>
<path d="M135.1 832.9L137.8 832.9L140.5 832.9L143.2 832.9L145.8 832.9L148.5 832.9L151.2 832.9L153.8 832.9L153.8 830.3L153.8 827.8L153.8 825.3L153.8 822.8L153.8 820.3L153.8 817.8L153.8 815.3L151.3 815.3L148.8 815.3L146.2 815.3L143.7 815.2L141.2 815.2L138.6 815.2L136.1 815.2L135.8 817.7L135.6 820.2L135.4 822.7L135.3 825.3L135.2 827.8L135.2 830.3Z" fill="#d00000" stroke="#d00000"/>
<path d="M153.8 832.9L156.5 832.9L159.2 832.9L161.9 832.9L164.5 832.9L167.2 832.9L169.9 832.9L172.6 832.9L172.5 830.3L172.5 827.8L172.4 825.3L172.3 822.7L172.1 820.2L171.9 817.7L171.6 815.2L169.1 815.2L166.5 815.2L164 815.2L161.5 815.3L158.9 815.3L156.4 815.3L153.8 815.3L153.8 817.8L153.8 820.3L153.8 822.8L153.8 825.3L153.8 827.8L153.8 830.3Z" fill="#a80000" stroke="#a80000"/>
<path d="M172.6 832.9L175.2 832.9L177.9 832.9L180.6 832.9L183.3 832.9L185.9 832.9L188.6 832.9L191.3 832.9L191.2 830.3L191.1 827.7L190.9 825.1L190.6 822.5L190.3 820L189.8 817.4L189.3 814.8L186.8 814.9L184.2 815L181.7 815L179.2 815.1L176.7 815.1L174.1 815.1L171.6 815.2L171.9 817.7L172.1 820.2L172.3 822.7L172.4 825.3L172.5 827.8L172.5 830.3Z" fill="#00a0ff" stroke="#00a0ff"/>
<path d="M136.1 850.5L138.6 850.5L141.2 850.5L143.7 850.5L146.2 850.4L148.8 850.4L151.3 850.4L153.8 850.4L153.8 847.9L153.8 845.4L153.8 842.9L153.8 840.4L153.8 837.9L153.8 835.4L153.8 832.9L151.2 832.9L148.5 832.9L145.8 832.9L143.2 832.9L140.5 832.9L137.8 832.9L135.1 832.9L135.2 835.4L135.2 837.9L135.3 840.4L135.4 843L135.6 845.5L135.8 848Z" fill="#ff0000" stroke="#ff0000"/>
<path d="M153.8 850.4L156.4 850.4L158.9 850.4L161.5 850.4L164 850.5L166.5 850.5L169.1 850.5L171.6 850.5L171.9 848L172.1 845.5L172.3 843L172.4 840.4L172.5 837.9L172.5 835.4L172.6 832.9L169.9 832.9L167.2 832.9L164.5 832.9L161.9 832.9L159.2 832.9L156.5 832.9L153.8 832.9L153.8 835.4L153.8 837.9L153.8 840.4L153.8 842.9L153.8 845.4L153.8 847.9Z" fill="#a80000" stroke="#a80000"/>
<path d="M171.6 850.5L174.1 850.6L176.7 850.6L179.2 850.6L181.7 850.7L184.2 850.7L186.8 850.8L189.3 850.9L189.8 848.3L190.3 845.7L190.6 843.2L190.9 840.6L191.1 838L191.2 835.4L191.3 832.9L188.6 832.9L185.9 832.9L183.3 832.9L180.6 832.9L177.9 832.9L175.2 832.9L172.6 832.9L172.5 835.4L172.5 837.9L172.4 840.4L172.3 843L172.1 845.5L171.9 848Z" fill="#00ffc0" stroke="#00ffc0"/>
<path d="M139.2 868.2L141.3 868.1L143.4 868.1L145.5 868.1L147.6 868L149.6 868L151.7 868L153.8 868L153.8 865.5L153.8 863L153.8 860.5L153.8 858L153.8 855.4L153.8 852.9L153.8 850.4L151.3 850.4L148.8 850.4L146.2 850.4L143.7 850.5L141.2 850.5L138.6 850.5L136.1 850.5L136.4 853.1L136.8 855.6L137.1 858.1L137.6 860.6L138.1 863.1L138.6 865.7Z" fill="#00e8ff" stroke="#00e8ff"/>
<path d="M153.8 868L156 868L158.1 868L160.1 868L162.2 868.1L164.3 868.1L166.4 868.1L168.5 868.2L169.1 865.7L169.6 863.1L170.1 860.6L170.6 858.1L170.9 855.6L171.3 853.1L171.6 850.5L169.1 850.5L166.5 850.5L164 850.5L161.5 850.4L158.9 850.4L156.4 850.4L153.8 850.4L153.8 852.9L153.8 855.4L153.8 858L153.8 860.5L153.8 863L153.8 865.5Z" fill="#90ff00" stroke="#90ff00"/>
<path d="M168.5 868.2L170.6 868.2L172.7 868.3L174.8 868.4L176.9 868.5L179 868.5L181 868.6L183.1 868.7L184.3 866.2L185.3 863.7L186.3 861.1L187.2 858.6L188 856L188.7 853.4L189.3 850.9L186.8 850.8L184.2 850.7L181.7 850.7L179.2 850.6L176.7 850.6L174.1 850.6L171.6 850.5L171.3 853.1L170.9 855.6L170.6 858.1L170.1 860.6L169.6 863.1L169.1 865.7Z" fill="#4000c0" stroke="#4000c0"/>
<path d="M153.8 885.6L155.1 885.6L156.3 885.6L157.5 885.6L158.7 885.6L159.9 885.7L161.1 885.7L162.4 885.7L163.6 885.8L164.8 885.8L166 885.9L167.2 886L168.4 886L169.5 886.1L170.7 886.2L171.9 886.3L173.9 883.8L175.7 881.3L177.4 878.8L179 876.3L180.5 873.8L181.8 871.3L183.1 868.7L181.2 868.7L179.2 868.6L177.3 868.5L175.4 868.4L173.4 868.3L171.5 868.3L169.5 868.2L167.6 868.2L165.6 868.1L163.6 868.1L161.7 868.1L159.7 868L157.8 868L155.8 868L153.8 868L153.8 870.5L153.8 873L153.8 875.5L153.8 878L153.8 880.6L153.8 883.1Z" fill="#0010ff" stroke="#0010ff"/>
</g><use href="#cg"/>
<use href="#grid" x="153.8" y="832.9"/>
<g class="lab"><text x="4.1" y="833.6">0</text><text x="22.8" y="833.6">22.50</text><text x="41.5" y="833.6">45</text><text x="60.3" y="833.6">67.50</text><text x="79" y="833.6">90</text><text x="97.7" y="833.6">112.50</text><text x="116.4" y="833.6">135</text><text x="135.1" y="833.6">157.50</text><text x="153.8" y="833.6">180</text><text x="172.6" y="833.6">202.50</text><text x="191.3" y="833.6">225</text><text x="210" y="833.6">247.50</text><text x="228.7" y="833.6">270</text><text x="247.4" y="833.6">292.50</text><text x="266.2" y="833.6">315</text><text x="284.9" y="833.6">337.50</text><text x="96.5" y="769.2">67.50</text><text x="48" y="784.4">45</text><text x="15.5" y="807.2">22.50</text><text x="15.5" y="861.1">−22.50</text><text x="48" y="883.9">−45</text><text x="96.5" y="899.1">−67.50</text><text x="153.8" y="764.6" style="font-size:4.3px">90</text><text x="153.8" y="903.8" style="font-size:4.3px">−90</text></g>
<path d="M153.2 832l2.2 1.6l-1.5 0.2l-0.5 1.3z" fill="#303030" opacity="0.8"/>
<rect x="310.7" y="762.1" width="8.3" height="142" fill="url(#cb)" stroke="#222" stroke-width="0.4"/>
<text x="321.9" y="767.2" class="cbl">10<tspan dy="-2.6" font-size="4.6">8</tspan></text>
<text x="321.9" y="801.5" class="cbl">10<tspan dy="-2.6" font-size="4.6">7</tspan></text>
<text x="321.9" y="835.9" class="cbl">10<tspan dy="-2.6" font-size="4.6">6</tspan></text>
<text x="321.9" y="870.2" class="cbl">10<tspan dy="-2.6" font-size="4.6">5</tspan></text>
<text x="321.9" y="904.5" class="cbl">10<tspan dy="-2.6" font-size="4.6">4</tspan></text>
<text transform="translate(343 834.7) rotate(-90)" class="efl">EFlux</text>
<text transform="translate(309.6 903.5) rotate(-90)" class="stamp" textLength="47" lengthAdjust="spacing">Mon Feb  1 14:58:06 2021</text>
<text x="360.1" y="757.6" class="ttl">h) 9215 eV/q ions, GSE longitudes = [280,281]<tspan font-size="7.5" dy="-0.6">°</tspan></text>
<rect x="358.9" y="762.1" width="305.6" height="142" fill="#000"/>
<g id="ch" stroke-width="0.45" stroke-linejoin="round">
<path d="M428 790.2L429.7 790.6L431.3 790.9L433 791.3L434.7 791.6L436.4 791.9L438.1 792.2L439.9 792.5L441.6 792.8L443.4 793.1L445.2 793.4L447 793.6L448.8 793.9L450.6 794.1L452.4 794.4L454.3 794.6L456.9 792L459.7 789.4L462.8 786.9L466 784.4L469.5 781.9L473.2 779.5L477.2 777.2L476.1 776.9L475.1 776.7L474.1 776.5L473.1 776.3L472.1 776.1L471.2 775.8L470.3 775.6L469.3 775.3L468.4 775.1L467.5 774.8L466.7 774.5L465.8 774.2L465 773.9L464.2 773.6L463.4 773.3L457.5 775.4L451.9 777.7L446.5 780L441.5 782.4L436.7 784.9L432.2 787.5Z" fill="#300040" stroke="#300040"/>
<path d="M454.3 794.6L456.1 794.8L458 795L459.8 795.2L461.7 795.4L463.6 795.6L465.4 795.7L467.3 795.9L469.2 796.1L471.1 796.2L473 796.4L474.9 796.5L476.9 796.6L478.8 796.7L480.7 796.8L482.6 797L483.9 794.4L485.3 791.9L486.8 789.4L488.3 786.9L490.1 784.4L491.9 781.9L493.8 779.4L492.7 779.3L491.5 779.2L490.4 779.1L489.2 778.9L488.1 778.8L486.9 778.7L485.8 778.5L484.7 778.4L483.6 778.2L482.5 778.1L481.4 777.9L480.3 777.7L479.2 777.5L478.2 777.4L477.2 777.2L473.2 779.5L469.5 781.9L466 784.4L462.8 786.9L459.7 789.4L456.9 792Z" fill="#4000c8" stroke="#4000c8"/>
<path d="M423.9 812.3L426.3 812.4L428.8 812.6L431.3 812.8L433.8 813L436.3 813.1L438.8 813.3L441.2 813.4L442.6 810.7L444 807.9L445.7 805.2L447.6 802.5L449.6 799.9L451.8 797.2L454.3 794.6L452.3 794.3L450.3 794.1L448.4 793.8L446.5 793.6L444.6 793.3L442.7 793L440.8 792.7L437.6 795.4L434.7 798.1L432.1 800.9L429.7 803.7L427.5 806.5L425.6 809.4Z" fill="#0040ff" stroke="#0040ff"/>
<path d="M441.2 813.4L443.7 813.6L446.2 813.7L448.8 813.8L451.3 813.9L453.8 814.1L456.3 814.2L458.8 814.3L459.7 811.6L460.8 809L462 806.4L463.4 803.8L464.9 801.2L466.5 798.6L468.3 796L466.2 795.8L464.2 795.6L462.2 795.4L460.2 795.2L458.2 795L456.2 794.8L454.3 794.6L451.8 797.2L449.6 799.9L447.6 802.5L445.7 805.2L444 807.9L442.6 810.7Z" fill="#00d0ff" stroke="#00d0ff"/>
<path d="M458.8 814.3L461.3 814.4L463.8 814.5L466.4 814.5L468.9 814.6L471.4 814.7L473.9 814.8L476.4 814.8L477.1 812.3L477.8 809.7L478.6 807.1L479.4 804.6L480.4 802L481.5 799.5L482.6 797L480.6 796.8L478.5 796.7L476.4 796.6L474.4 796.4L472.3 796.3L470.3 796.1L468.3 796L466.5 798.6L464.9 801.2L463.4 803.8L462 806.4L460.8 809L459.7 811.6Z" fill="#0090ff" stroke="#0090ff"/>
<path d="M476.4 814.8L479 814.9L481.5 815L484 815L486.6 815.1L489.1 815.1L491.6 815.1L494.2 815.2L494.5 812.6L494.8 810.1L495.2 807.6L495.6 805.1L496.1 802.6L496.6 800L497.2 797.5L495.1 797.5L493 797.4L490.9 797.3L488.9 797.2L486.8 797.2L484.7 797.1L482.6 797L481.5 799.5L480.4 802L479.4 804.6L478.6 807.1L477.8 809.7L477.1 812.3Z" fill="#480080" stroke="#480080"/>
<path d="M511.9 815.3L514.4 815.3L517 815.3L519.5 815.3L522 815.2L524.6 815.2L527.1 815.2L529.6 815.2L529.3 812.6L529 810.1L528.6 807.6L528.2 805.1L527.7 802.6L527.2 800L526.6 797.5L524.5 797.6L522.4 797.6L520.3 797.6L518.2 797.7L516.1 797.7L514 797.7L511.9 797.7L511.9 800.2L511.9 802.7L511.9 805.2L511.9 807.7L511.9 810.3L511.9 812.8Z" fill="#2000f0" stroke="#2000f0"/>
<path d="M399.6 832.9L402.3 832.9L404.9 832.9L407.6 832.9L410.3 832.9L413 832.9L415.6 832.9L418.3 832.9L418.4 829.9L418.8 826.9L419.3 824L420.1 821L421.1 818.1L422.4 815.2L423.9 812.3L421.4 812.1L418.9 811.9L416.5 811.6L414 811.4L411.6 811.2L409.1 811L406.7 810.7L404.8 813.8L403.2 816.9L401.9 820.1L400.9 823.3L400.2 826.5L399.7 829.6Z" fill="#480080" stroke="#480080"/>
<path d="M418.3 832.9L421 832.9L423.7 832.9L426.3 832.9L429 832.9L431.7 832.9L434.4 832.9L437 832.9L437.1 830.1L437.4 827.3L437.8 824.5L438.4 821.7L439.2 818.9L440.1 816.2L441.2 813.4L438.8 813.3L436.3 813.1L433.8 813L431.3 812.8L428.8 812.6L426.3 812.4L423.9 812.3L422.4 815.2L421.1 818.1L420.1 821L419.3 824L418.8 826.9L418.4 829.9Z" fill="#0090ff" stroke="#0090ff"/>
<path d="M437 832.9L439.7 832.9L442.4 832.9L445 832.9L447.7 832.9L450.4 832.9L453.1 832.9L455.7 832.9L455.8 830.2L456 827.5L456.3 824.9L456.7 822.2L457.3 819.6L458 816.9L458.8 814.3L456.3 814.2L453.8 814.1L451.3 813.9L448.8 813.8L446.2 813.7L443.7 813.6L441.2 813.4L440.1 816.2L439.2 818.9L438.4 821.7L437.8 824.5L437.4 827.3L437.1 830.1Z" fill="#00ffa0" stroke="#00ffa0"/>
<path d="M455.7 832.9L458.4 832.9L461.1 832.9L463.8 832.9L466.4 832.9L469.1 832.9L471.8 832.9L474.5 832.9L474.5 830.3L474.6 827.7L474.8 825.1L475.1 822.5L475.5 820L475.9 817.4L476.4 814.8L473.9 814.8L471.4 814.7L468.9 814.6L466.4 814.5L463.8 814.5L461.3 814.4L458.8 814.3L458 816.9L457.3 819.6L456.7 822.2L456.3 824.9L456 827.5L455.8 830.2Z" fill="#0080ff" stroke="#0080ff"/>
<path d="M474.5 832.9L477.1 832.9L479.8 832.9L482.5 832.9L485.2 832.9L487.8 832.9L490.5 832.9L493.2 832.9L493.2 830.3L493.3 827.8L493.4 825.3L493.5 822.7L493.7 820.2L493.9 817.7L494.2 815.2L491.6 815.1L489.1 815.1L486.6 815.1L484 815L481.5 815L479 814.9L476.4 814.8L475.9 817.4L475.5 820L475.1 822.5L474.8 825.1L474.6 827.7L474.5 830.3Z" fill="#400090" stroke="#400090"/>
<path d="M493.2 832.9L495.9 832.9L498.5 832.9L501.2 832.9L503.9 832.9L506.6 832.9L509.2 832.9L511.9 832.9L511.9 830.3L511.9 827.8L511.9 825.3L511.9 822.8L511.9 820.3L511.9 817.8L511.9 815.3L509.4 815.3L506.8 815.3L504.3 815.3L501.8 815.2L499.2 815.2L496.7 815.2L494.2 815.2L493.9 817.7L493.7 820.2L493.5 822.7L493.4 825.3L493.3 827.8L493.2 830.3Z" fill="#0020ff" stroke="#0020ff"/>
<path d="M511.9 832.9L514.6 832.9L517.2 832.9L519.9 832.9L522.6 832.9L525.3 832.9L527.9 832.9L530.6 832.9L530.6 830.3L530.5 827.8L530.4 825.3L530.3 822.7L530.1 820.2L529.9 817.7L529.6 815.2L527.1 815.2L524.6 815.2L522 815.2L519.5 815.3L517 815.3L514.4 815.3L511.9 815.3L511.9 817.8L511.9 820.3L511.9 822.8L511.9 825.3L511.9 827.8L511.9 830.3Z" fill="#80ff00" stroke="#80ff00"/>
<path d="M423.9 853.4L426.3 853.3L428.8 853.1L431.3 852.9L433.8 852.7L436.3 852.6L438.8 852.4L441.2 852.3L440.1 849.5L439.2 846.8L438.4 844L437.8 841.2L437.4 838.4L437.1 835.6L437 832.9L434.4 832.9L431.7 832.9L429 832.9L426.3 832.9L423.7 832.9L421 832.9L418.3 832.9L418.4 835.8L418.8 838.8L419.3 841.7L420.1 844.7L421.1 847.6L422.4 850.5Z" fill="#0090ff" stroke="#0090ff"/>
<path d="M441.2 852.3L443.7 852.1L446.2 852L448.8 851.9L451.3 851.8L453.8 851.6L456.3 851.5L458.8 851.4L458 848.8L457.3 846.1L456.7 843.5L456.3 840.8L456 838.2L455.8 835.5L455.7 832.9L453.1 832.9L450.4 832.9L447.7 832.9L445 832.9L442.4 832.9L439.7 832.9L437 832.9L437.1 835.6L437.4 838.4L437.8 841.2L438.4 844L439.2 846.8L440.1 849.5Z" fill="#00ff60" stroke="#00ff60"/>
<path d="M458.8 851.4L461.3 851.3L463.8 851.2L466.4 851.2L468.9 851.1L471.4 851L473.9 850.9L476.4 850.9L475.9 848.3L475.5 845.7L475.1 843.2L474.8 840.6L474.6 838L474.5 835.4L474.5 832.9L471.8 832.9L469.1 832.9L466.4 832.9L463.8 832.9L461.1 832.9L458.4 832.9L455.7 832.9L455.8 835.5L456 838.2L456.3 840.8L456.7 843.5L457.3 846.1L458 848.8Z" fill="#0080ff" stroke="#0080ff"/>
<path d="M476.4 850.9L479 850.8L481.5 850.7L484 850.7L486.6 850.6L489.1 850.6L491.6 850.6L494.2 850.5L493.9 848L493.7 845.5L493.5 843L493.4 840.4L493.3 837.9L493.2 835.4L493.2 832.9L490.5 832.9L487.8 832.9L485.2 832.9L482.5 832.9L479.8 832.9L477.1 832.9L474.5 832.9L474.5 835.4L474.6 838L474.8 840.6L475.1 843.2L475.5 845.7L475.9 848.3Z" fill="#0010ff" stroke="#0010ff"/>
<path d="M494.2 850.5L496.7 850.5L499.2 850.5L501.8 850.5L504.3 850.4L506.8 850.4L509.4 850.4L511.9 850.4L511.9 847.9L511.9 845.4L511.9 842.9L511.9 840.4L511.9 837.9L511.9 835.4L511.9 832.9L509.2 832.9L506.6 832.9L503.9 832.9L501.2 832.9L498.5 832.9L495.9 832.9L493.2 832.9L493.2 835.4L493.3 837.9L493.4 840.4L493.5 843L493.7 845.5L493.9 848Z" fill="#00ffc0" stroke="#00ffc0"/>
<path d="M511.9 850.4L514.4 850.4L517 850.4L519.5 850.4L522 850.5L524.6 850.5L527.1 850.5L529.6 850.5L529.9 848L530.1 845.5L530.3 843L530.4 840.4L530.5 837.9L530.6 835.4L530.6 832.9L527.9 832.9L525.3 832.9L522.6 832.9L519.9 832.9L517.2 832.9L514.6 832.9L511.9 832.9L511.9 835.4L511.9 837.9L511.9 840.4L511.9 842.9L511.9 845.4L511.9 847.9Z" fill="#ffc800" stroke="#ffc800"/>
<path d="M529.6 850.5L532.2 850.6L534.7 850.6L537.2 850.6L539.8 850.7L542.3 850.7L544.8 850.8L547.4 850.9L547.9 848.3L548.3 845.7L548.7 843.2L549 840.6L549.2 838L549.3 835.4L549.3 832.9L546.7 832.9L544 832.9L541.3 832.9L538.6 832.9L536 832.9L533.3 832.9L530.6 832.9L530.6 835.4L530.5 837.9L530.4 840.4L530.3 843L530.1 845.5L529.9 848Z" fill="#4000c8" stroke="#4000c8"/>
<path d="M416.3 878.6L417.9 878.1L419.5 877.6L421.2 877.2L422.8 876.7L424.5 876.3L426.3 875.9L428 875.5L424.1 872.7L420.5 869.9L417.1 867L414.1 864.1L411.3 861.1L408.9 858.1L406.7 855L404.3 855.3L401.8 855.5L399.4 855.8L397 856.1L394.6 856.4L392.2 856.7L389.9 857L392.6 860.3L395.7 863.6L399.1 866.8L402.9 869.9L407 872.9L411.5 875.8Z" fill="#4000c0" stroke="#4000c0"/>
<path d="M428 875.5L429.8 875.1L431.6 874.7L433.4 874.3L435.2 874L437 873.7L438.9 873.3L440.8 873L437.6 870.3L434.7 867.6L432.1 864.8L429.7 862L427.5 859.2L425.6 856.3L423.9 853.4L421.4 853.6L418.9 853.8L416.5 854.1L414 854.3L411.6 854.5L409.1 854.7L406.7 855L408.9 858.1L411.3 861.1L414.1 864.1L417.1 867L420.5 869.9L424.1 872.7Z" fill="#0020ff" stroke="#0020ff"/>
<path d="M440.8 873L442.7 872.7L444.6 872.4L446.5 872.1L448.4 871.9L450.3 871.6L452.3 871.4L454.3 871.1L451.8 868.5L449.6 865.8L447.6 863.2L445.7 860.5L444 857.8L442.6 855L441.2 852.3L438.8 852.4L436.3 852.6L433.8 852.7L431.3 852.9L428.8 853.1L426.3 853.3L423.9 853.4L425.6 856.3L427.5 859.2L429.7 862L432.1 864.8L434.7 867.6L437.6 870.3Z" fill="#0080ff" stroke="#0080ff"/>
<path d="M454.3 871.1L456.2 870.9L458.2 870.7L460.2 870.5L462.2 870.3L464.2 870.1L466.2 869.9L468.3 869.7L466.5 867.1L464.9 864.5L463.4 861.9L462 859.3L460.8 856.7L459.7 854.1L458.8 851.4L456.3 851.5L453.8 851.6L451.3 851.8L448.8 851.9L446.2 852L443.7 852.1L441.2 852.3L442.6 855L444 857.8L445.7 860.5L447.6 863.2L449.6 865.8L451.8 868.5Z" fill="#00e8ff" stroke="#00e8ff"/>
<path d="M468.3 869.7L470.3 869.6L472.3 869.4L474.4 869.3L476.4 869.1L478.5 869L480.6 868.9L482.6 868.7L481.5 866.2L480.4 863.7L479.4 861.1L478.6 858.6L477.8 856L477.1 853.4L476.4 850.9L473.9 850.9L471.4 851L468.9 851.1L466.4 851.2L463.8 851.2L461.3 851.3L458.8 851.4L459.7 854.1L460.8 856.7L462 859.3L463.4 861.9L464.9 864.5L466.5 867.1Z" fill="#0050ff" stroke="#0050ff"/>
<path d="M482.6 868.7L484.7 868.6L486.8 868.5L488.9 868.5L490.9 868.4L493 868.3L495.1 868.2L497.2 868.2L496.6 865.7L496.1 863.1L495.6 860.6L495.2 858.1L494.8 855.6L494.5 853.1L494.2 850.5L491.6 850.6L489.1 850.6L486.6 850.6L484 850.7L481.5 850.7L479 850.8L476.4 850.9L477.1 853.4L477.8 856L478.6 858.6L479.4 861.1L480.4 863.7L481.5 866.2Z" fill="#1000f0" stroke="#1000f0"/>
<path d="M511.9 868L514 868L516.1 868L518.2 868L520.3 868.1L522.4 868.1L524.5 868.1L526.6 868.2L527.2 865.7L527.7 863.1L528.2 860.6L528.6 858.1L529 855.6L529.3 853.1L529.6 850.5L527.1 850.5L524.6 850.5L522 850.5L519.5 850.4L517 850.4L514.4 850.4L511.9 850.4L511.9 852.9L511.9 855.4L511.9 858L511.9 860.5L511.9 863L511.9 865.5Z" fill="#0070ff" stroke="#0070ff"/>
<path d="M463.4 892.4L464.2 892.1L465 891.8L465.8 891.5L466.7 891.2L467.5 890.9L468.4 890.6L469.3 890.4L470.3 890.1L471.2 889.9L472.1 889.6L473.1 889.4L474.1 889.2L475.1 889L476.1 888.8L477.2 888.5L473.2 886.2L469.5 883.8L466 881.3L462.8 878.8L459.7 876.3L456.9 873.7L454.3 871.1L452.4 871.3L450.6 871.6L448.8 871.8L447 872.1L445.2 872.3L443.4 872.6L441.6 872.9L439.9 873.2L438.1 873.5L436.4 873.8L434.7 874.1L433 874.4L431.3 874.8L429.7 875.1L428 875.5L432.2 878.2L436.7 880.8L441.5 883.3L446.5 885.7L451.9 888L457.5 890.3Z" fill="#400060" stroke="#400060"/>
<path d="M477.2 888.5L478.2 888.3L479.2 888.2L480.3 888L481.4 887.8L482.5 887.6L483.6 887.5L484.7 887.3L485.8 887.2L486.9 887L488.1 886.9L489.2 886.8L490.4 886.6L491.5 886.5L492.7 886.4L493.8 886.3L491.9 883.8L490.1 881.3L488.3 878.8L486.8 876.3L485.3 873.8L483.9 871.3L482.6 868.7L480.7 868.9L478.8 869L476.9 869.1L474.9 869.2L473 869.3L471.1 869.5L469.2 869.6L467.3 869.8L465.4 870L463.6 870.1L461.7 870.3L459.8 870.5L458 870.7L456.1 870.9L454.3 871.1L456.9 873.7L459.7 876.3L462.8 878.8L466 881.3L469.5 883.8L473.2 886.2Z" fill="#1010f0" stroke="#1010f0"/>
<path d="M493.8 886.3L495 886.2L496.2 886.1L497.4 886L498.6 886L499.8 885.9L501 885.8L502.2 885.8L503.4 885.7L504.6 885.7L505.8 885.7L507 885.6L508.2 885.6L509.5 885.6L510.7 885.6L511.9 885.6L511.9 883.1L511.9 880.6L511.9 878L511.9 875.5L511.9 873L511.9 870.5L511.9 868L509.9 868L508 868L506 868L504.1 868.1L502.1 868.1L500.1 868.1L498.2 868.2L496.2 868.2L494.3 868.3L492.3 868.3L490.4 868.4L488.4 868.5L486.5 868.6L484.6 868.7L482.6 868.7L483.9 871.3L485.3 873.8L486.8 876.3L488.3 878.8L490.1 881.3L491.9 883.8Z" fill="#180018" stroke="#180018"/>
</g><use href="#ch"/>
<use href="#grid" x="511.9" y="832.9"/>
<g class="lab"><text x="362.2" y="833.6">0</text><text x="380.9" y="833.6">22.50</text><text x="399.6" y="833.6">45</text><text x="418.3" y="833.6">67.50</text><text x="437" y="833.6">90</text><text x="455.7" y="833.6">112.50</text><text x="474.5" y="833.6">135</text><text x="493.2" y="833.6">157.50</text><text x="511.9" y="833.6">180</text><text x="530.6" y="833.6">202.50</text><text x="549.3" y="833.6">225</text><text x="568.1" y="833.6">247.50</text><text x="586.8" y="833.6">270</text><text x="605.5" y="833.6">292.50</text><text x="624.2" y="833.6">315</text><text x="642.9" y="833.6">337.50</text><text x="454.6" y="769.2">67.50</text><text x="406" y="784.4">45</text><text x="373.5" y="807.2">22.50</text><text x="373.5" y="861.1">−22.50</text><text x="406" y="883.9">−45</text><text x="454.6" y="899.1">−67.50</text><text x="511.9" y="764.6" style="font-size:4.3px">90</text><text x="511.9" y="903.8" style="font-size:4.3px">−90</text></g>
<path d="M511.3 832l2.2 1.6l-1.5 0.2l-0.5 1.3z" fill="#303030" opacity="0.8"/>
<rect x="669.3" y="762.1" width="8.3" height="142" fill="url(#cb)" stroke="#222" stroke-width="0.4"/>
<text x="680.5" y="767.2" class="cbl">10<tspan dy="-2.6" font-size="4.6">6</tspan></text>
<text x="680.5" y="813" class="cbl">10<tspan dy="-2.6" font-size="4.6">5</tspan></text>
<text x="680.5" y="858.7" class="cbl">10<tspan dy="-2.6" font-size="4.6">4</tspan></text>
<text x="680.5" y="904.5" class="cbl">10<tspan dy="-2.6" font-size="4.6">3</tspan></text>
<text transform="translate(699.2 834.7) rotate(-90)" class="efl">EFlux</text>
<text transform="translate(667.5 903.5) rotate(-90)" class="stamp" textLength="47" lengthAdjust="spacing">Mon Feb  1 14:59:55 2021</text>
</svg></body></html>
